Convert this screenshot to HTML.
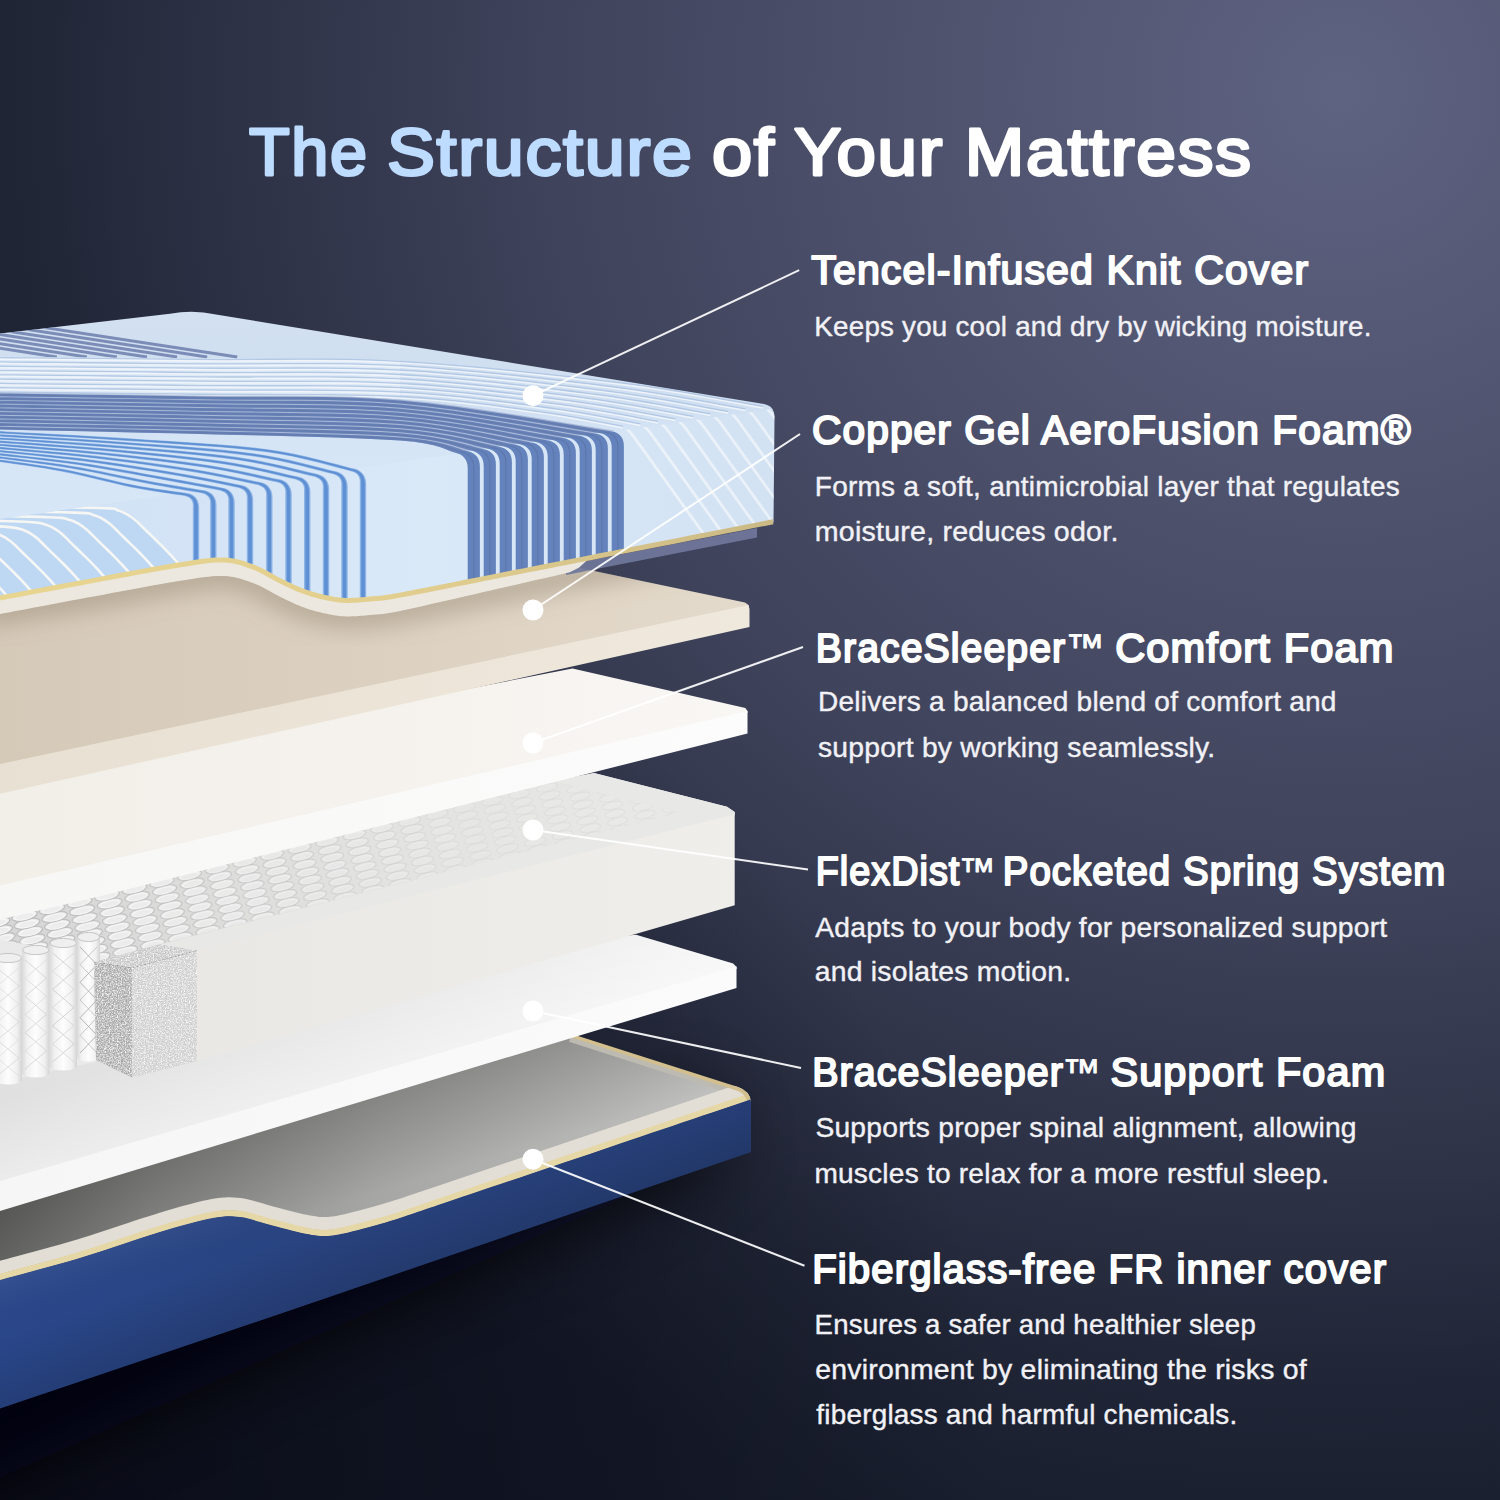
<!DOCTYPE html>
<html lang="en"><head><meta charset="utf-8"><title>The Structure of Your Mattress</title>
<style>
html,body{margin:0;padding:0;background:#141a33;}
body{width:1500px;height:1500px;overflow:hidden;}
svg{display:block}
text{font-family:"Liberation Sans",sans-serif;stroke-linejoin:round}
</style></head><body>
<svg width="1500" height="1500" viewBox="0 0 1500 1500">
<defs>
<radialGradient id="bgr" gradientUnits="userSpaceOnUse" cx="1340" cy="90" r="1500" ><stop offset="0" stop-color="#5e6382"/><stop offset="0.28" stop-color="#4e526d"/><stop offset="0.54" stop-color="#3e425a"/><stop offset="0.71" stop-color="#303449"/><stop offset="0.86" stop-color="#222738"/><stop offset="1" stop-color="#1a1f2e"/></radialGradient>
<linearGradient id="bgd" gradientUnits="userSpaceOnUse" x1="0" y1="1150" x2="0" y2="1500"><stop offset="0" stop-color="#0b1028" stop-opacity="0"/><stop offset="1" stop-color="#0b1028" stop-opacity="0.12"/></linearGradient>
<radialGradient id="bgl" gradientUnits="userSpaceOnUse" cx="0" cy="1500" r="1000" ><stop offset="0" stop-color="#070914" stop-opacity="0.85"/><stop offset="0.5" stop-color="#070914" stop-opacity="0.5"/><stop offset="1" stop-color="#070914" stop-opacity="0"/></radialGradient>
<filter id="blur40" x="-30%" y="-30%" width="160%" height="160%"><feGaussianBlur stdDeviation="38"/></filter>
<linearGradient id="ingray" gradientUnits="userSpaceOnUse" x1="0" y1="0" x2="750" y2="0"><stop offset="0" stop-color="#6c6c6a"/><stop offset="0.2" stop-color="#8a8a88"/><stop offset="0.5" stop-color="#a6a6a4"/><stop offset="1" stop-color="#c2c2c0"/></linearGradient>
<linearGradient id="insh" gradientUnits="objectBoundingBox" x1="0" y1="0" x2="0" y2="1"><stop offset="0" stop-color="#000" stop-opacity="0.22"/><stop offset="1" stop-color="#000" stop-opacity="0"/></linearGradient>
<clipPath id="baseclip"><path d="M-5,990 L575,1035 L738,1087 Q750,1091 751,1102 L751,1152 L-5,1412 Z"/></clipPath>
<linearGradient id="insh2" gradientUnits="userSpaceOnUse" x1="0" y1="1211" x2="27" y2="1300"><stop offset="0" stop-color="#000" stop-opacity="0.2"/><stop offset="1" stop-color="#000" stop-opacity="0"/></linearGradient>
<linearGradient id="blue" gradientUnits="userSpaceOnUse" x1="0" y1="0" x2="750" y2="0"><stop offset="0" stop-color="#2a478a"/><stop offset="0.5" stop-color="#29437f"/><stop offset="1" stop-color="#274079"/></linearGradient>
<linearGradient id="bluesh" gradientUnits="userSpaceOnUse" x1="0" y1="1280" x2="43" y2="1408"><stop offset="0" stop-color="#fff" stop-opacity="0.05"/><stop offset="0.4" stop-color="#000" stop-opacity="0"/><stop offset="1" stop-color="#000" stop-opacity="0.16"/></linearGradient>
<linearGradient id="suptop" gradientUnits="userSpaceOnUse" x1="0" y1="0" x2="750" y2="0"><stop offset="0" stop-color="#e0e0e0"/><stop offset="0.45" stop-color="#e7e7e7"/><stop offset="0.7" stop-color="#ececec"/><stop offset="0.9" stop-color="#f2f2f2"/><stop offset="1" stop-color="#f5f5f5"/></linearGradient>
<linearGradient id="suptop2" gradientUnits="userSpaceOnUse" x1="0" y1="1100" x2="30" y2="1200"><stop offset="0" stop-color="#fff" stop-opacity="0"/><stop offset="1" stop-color="#fff" stop-opacity="0.5"/></linearGradient>
<linearGradient id="supfr" gradientUnits="userSpaceOnUse" x1="0" y1="0" x2="750" y2="0"><stop offset="0" stop-color="#f6f6f6"/><stop offset="1" stop-color="#fbfbfb"/></linearGradient>
<linearGradient id="sprtop" gradientUnits="userSpaceOnUse" x1="0" y1="0" x2="750" y2="0"><stop offset="0" stop-color="#d6d6d6"/><stop offset="0.5" stop-color="#e2e2e0"/><stop offset="1" stop-color="#eaeae8"/></linearGradient>
<clipPath id="ovclip"><polygon points="0,900 557,780 679,813 160,944 94,962 60,968 0,990"/></clipPath>
<linearGradient id="cyl" gradientUnits="objectBoundingBox" x1="0" y1="0" x2="1" y2="0"><stop offset="0" stop-color="#d9d9d9"/><stop offset="0.18" stop-color="#f1f1f1"/><stop offset="0.5" stop-color="#fdfdfd"/><stop offset="0.82" stop-color="#f0f0f0"/><stop offset="1" stop-color="#d4d4d4"/></linearGradient>
<linearGradient id="sprfr" gradientUnits="userSpaceOnUse" x1="0" y1="0" x2="750" y2="0"><stop offset="0.25" stop-color="#e9e8e4"/><stop offset="1" stop-color="#efeeea"/></linearGradient>
<filter id="speck" x="0" y="0" width="100%" height="100%"><feTurbulence type="fractalNoise" baseFrequency="0.75" numOctaves="2" seed="7" result="n"/><feColorMatrix in="n" type="matrix" values="0 0 0 0 1  0 0 0 0 1  0 0 0 0 1  1.6 1.6 0 0 -1.35" result="w"/><feComposite in="w" in2="SourceGraphic" operator="in" result="ws"/><feMerge><feMergeNode in="SourceGraphic"/><feMergeNode in="ws"/></feMerge></filter>
<linearGradient id="comtop" gradientUnits="userSpaceOnUse" x1="0" y1="0" x2="750" y2="0"><stop offset="0" stop-color="#f2eee8"/><stop offset="0.6" stop-color="#f6f3ef"/><stop offset="1" stop-color="#f9f7f4"/></linearGradient>
<linearGradient id="comfr" gradientUnits="userSpaceOnUse" x1="0" y1="0" x2="750" y2="0"><stop offset="0" stop-color="#f7f7f6"/><stop offset="1" stop-color="#fcfcfc"/></linearGradient>
<linearGradient id="beitop" gradientUnits="userSpaceOnUse" x1="0" y1="0" x2="750" y2="0"><stop offset="0" stop-color="#d5c9b8"/><stop offset="0.5" stop-color="#dcd1c1"/><stop offset="1" stop-color="#e4dacb"/></linearGradient>
<linearGradient id="beifr" gradientUnits="userSpaceOnUse" x1="0" y1="0" x2="750" y2="0"><stop offset="0" stop-color="#e8e0d2"/><stop offset="1" stop-color="#efe8dc"/></linearGradient>
<filter id="blur12" x="-10%" y="-50%" width="120%" height="200%"><feGaussianBlur stdDeviation="11"/></filter>
<clipPath id="beiclip"><polygon points="0,540 570,540 570,566 745,602.4 748.5,605 748.5,607 0,766"/></clipPath>
<linearGradient id="lining" gradientUnits="objectBoundingBox" x1="0" y1="0" x2="0" y2="1"><stop offset="0" stop-color="#f3efe6"/><stop offset="1" stop-color="#e4dfd4"/></linearGradient>
<linearGradient id="covtop" gradientUnits="userSpaceOnUse" x1="0" y1="310" x2="0" y2="520"><stop offset="0" stop-color="#d2e0f0"/><stop offset="0.45" stop-color="#cfdff1"/><stop offset="0.62" stop-color="#d6e5f6"/><stop offset="1" stop-color="#d8e7f7"/></linearGradient>
<clipPath id="ctop"><path d="M0,333.5 L170,313.8 Q193,309.5 216,314.5 L764,404 Q771,405.5 773,410 L0,520 Z"/></clipPath>
<linearGradient id="covfr" gradientUnits="userSpaceOnUse" x1="0" y1="0" x2="775" y2="0"><stop offset="0" stop-color="#d0e2f5"/><stop offset="0.25" stop-color="#d4e4f6"/><stop offset="0.55" stop-color="#dae9f8"/><stop offset="1" stop-color="#d2e2f3"/></linearGradient>
<clipPath id="cfront"><path d="M0,519 L772,409 Q775,412 774.5,418 L773.5,522.3 L773,522.3 L764.41,523.99 L753.33,526.17 L740.2,528.75 L725.44,531.65 L709.48,534.79 L692.75,538.07 L675.67,541.43 L658.67,544.77 L642.17,548.02 L626.61,551.07 L612.41,553.86 L600,556.3 L589.11,558.44 L579.11,560.4 L569.87,562.21 L561.26,563.9 L553.16,565.48 L545.44,566.99 L537.97,568.46 L530.63,569.89 L523.29,571.33 L515.82,572.79 L508.1,574.31 L500,575.9 L491.44,577.59 L482.52,579.36 L473.36,581.19 L464.07,583.04 L454.79,584.9 L445.62,586.73 L436.7,588.51 L428.15,590.2 L420.08,591.78 L412.62,593.23 L405.88,594.51 L400,595.6 L395.04,596.49 L390.9,597.19 L387.48,597.75 L384.67,598.17 L382.34,598.48 L380.38,598.7 L378.67,598.86 L377.11,598.98 L375.58,599.08 L373.96,599.18 L372.14,599.32 L370,599.5 L367.69,599.72 L365.41,599.93 L363.17,600.13 L360.96,600.32 L358.78,600.49 L356.62,600.64 L354.49,600.77 L352.37,600.86 L350.27,600.91 L348.17,600.92 L346.08,600.89 L344,600.8 L341.92,600.66 L339.84,600.47 L337.77,600.23 L335.7,599.94 L333.66,599.63 L331.62,599.27 L329.62,598.9 L327.63,598.5 L325.67,598.09 L323.75,597.66 L321.85,597.23 L320,596.8 L318.19,596.37 L316.44,595.92 L314.72,595.46 L313.04,594.98 L311.38,594.49 L309.75,593.98 L308.13,593.45 L306.52,592.91 L304.91,592.34 L303.29,591.75 L301.65,591.14 L300,590.5 L298.36,589.84 L296.75,589.17 L295.16,588.49 L293.59,587.79 L292.02,587.06 L290.44,586.31 L288.83,585.54 L287.19,584.74 L285.49,583.9 L283.74,583.04 L281.91,582.14 L280,581.2 L278.01,580.19 L275.95,579.09 L273.84,577.93 L271.67,576.71 L269.45,575.46 L267.19,574.21 L264.89,572.96 L262.56,571.73 L260.2,570.56 L257.81,569.45 L255.41,568.42 L253,567.5 L250.61,566.64 L248.27,565.8 L245.95,564.97 L243.63,564.19 L241.28,563.45 L238.88,562.77 L236.4,562.16 L233.81,561.62 L231.11,561.18 L228.25,560.84 L225.23,560.61 L222,560.5 L218.69,560.51 L215.38,560.62 L212.05,560.83 L208.63,561.13 L205.09,561.52 L201.38,562 L197.45,562.56 L193.26,563.2 L188.77,563.92 L183.92,564.71 L178.68,565.57 L173,566.5 L166.75,567.54 L159.9,568.72 L152.54,570.02 L144.78,571.43 L136.71,572.9 L128.44,574.44 L120.06,576 L111.67,577.57 L103.37,579.13 L95.26,580.66 L87.43,582.12 L80,583.5 L72.62,584.87 L64.99,586.29 L57.21,587.74 L49.41,589.2 L41.69,590.65 L34.19,592.06 L27,593.41 L20.26,594.69 L14.07,595.85 L8.55,596.89 L3.82,597.78 L0,598.5 Z"/></clipPath>
<clipPath id="call"><path d="M0,333.5 L170,313.8 Q193,309.5 216,314.5 L764,404 Q771,405.5 773,410 L0,520 Z"/><path d="M0,519 L772,409 Q775,412 774.5,418 L773.5,522.3 L773,522.3 L764.41,523.99 L753.33,526.17 L740.2,528.75 L725.44,531.65 L709.48,534.79 L692.75,538.07 L675.67,541.43 L658.67,544.77 L642.17,548.02 L626.61,551.07 L612.41,553.86 L600,556.3 L589.11,558.44 L579.11,560.4 L569.87,562.21 L561.26,563.9 L553.16,565.48 L545.44,566.99 L537.97,568.46 L530.63,569.89 L523.29,571.33 L515.82,572.79 L508.1,574.31 L500,575.9 L491.44,577.59 L482.52,579.36 L473.36,581.19 L464.07,583.04 L454.79,584.9 L445.62,586.73 L436.7,588.51 L428.15,590.2 L420.08,591.78 L412.62,593.23 L405.88,594.51 L400,595.6 L395.04,596.49 L390.9,597.19 L387.48,597.75 L384.67,598.17 L382.34,598.48 L380.38,598.7 L378.67,598.86 L377.11,598.98 L375.58,599.08 L373.96,599.18 L372.14,599.32 L370,599.5 L367.69,599.72 L365.41,599.93 L363.17,600.13 L360.96,600.32 L358.78,600.49 L356.62,600.64 L354.49,600.77 L352.37,600.86 L350.27,600.91 L348.17,600.92 L346.08,600.89 L344,600.8 L341.92,600.66 L339.84,600.47 L337.77,600.23 L335.7,599.94 L333.66,599.63 L331.62,599.27 L329.62,598.9 L327.63,598.5 L325.67,598.09 L323.75,597.66 L321.85,597.23 L320,596.8 L318.19,596.37 L316.44,595.92 L314.72,595.46 L313.04,594.98 L311.38,594.49 L309.75,593.98 L308.13,593.45 L306.52,592.91 L304.91,592.34 L303.29,591.75 L301.65,591.14 L300,590.5 L298.36,589.84 L296.75,589.17 L295.16,588.49 L293.59,587.79 L292.02,587.06 L290.44,586.31 L288.83,585.54 L287.19,584.74 L285.49,583.9 L283.74,583.04 L281.91,582.14 L280,581.2 L278.01,580.19 L275.95,579.09 L273.84,577.93 L271.67,576.71 L269.45,575.46 L267.19,574.21 L264.89,572.96 L262.56,571.73 L260.2,570.56 L257.81,569.45 L255.41,568.42 L253,567.5 L250.61,566.64 L248.27,565.8 L245.95,564.97 L243.63,564.19 L241.28,563.45 L238.88,562.77 L236.4,562.16 L233.81,561.62 L231.11,561.18 L228.25,560.84 L225.23,560.61 L222,560.5 L218.69,560.51 L215.38,560.62 L212.05,560.83 L208.63,561.13 L205.09,561.52 L201.38,562 L197.45,562.56 L193.26,563.2 L188.77,563.92 L183.92,564.71 L178.68,565.57 L173,566.5 L166.75,567.54 L159.9,568.72 L152.54,570.02 L144.78,571.43 L136.71,572.9 L128.44,574.44 L120.06,576 L111.67,577.57 L103.37,579.13 L95.26,580.66 L87.43,582.12 L80,583.5 L72.62,584.87 L64.99,586.29 L57.21,587.74 L49.41,589.2 L41.69,590.65 L34.19,592.06 L27,593.41 L20.26,594.69 L14.07,595.85 L8.55,596.89 L3.82,597.78 L0,598.5 Z"/></clipPath>
<linearGradient id="goldg" gradientUnits="userSpaceOnUse" x1="0" y1="0" x2="775" y2="0"><stop offset="0" stop-color="#e8d590"/><stop offset="0.5" stop-color="#e2cf8f"/><stop offset="0.75" stop-color="#d8c58b"/><stop offset="1" stop-color="#cbb985"/></linearGradient>
</defs>
<rect width="1500" height="1500" fill="url(#bgr)"/>
<rect width="1500" height="1500" fill="url(#bgd)"/>
<rect width="1500" height="1500" fill="url(#bgl)"/>
<polygon points="-150,1330 690,1090 730,1150 -150,1545" fill="#02030c" opacity="0.9" filter="url(#blur40)"/>
<path d="M0,1000 L575,1036 L737,1088 L749,1100 L749,1100 C724.17,1108.4 649.83,1133.55 600,1150.4 C550.17,1167.25 483.33,1189.83 450,1201.1 C416.67,1212.37 412.83,1213.85 400,1218 C387.17,1222.15 384.17,1223.08 373,1226 C361.83,1228.92 344,1234.17 333,1235.5 C322,1236.83 318,1235.92 307,1234 C296,1232.08 278.17,1226.83 267,1224 C255.83,1221.17 249,1218 240,1217 C231,1216 226.33,1215.5 213,1218 C199.67,1220.5 182.17,1225.33 160,1232 C137.83,1238.67 106.67,1250 80,1258 C53.33,1266 13.33,1276.33 0,1280 Z" fill="url(#ingray)"/>
<g clip-path="url(#baseclip)">
<polygon points="0,1150 760,920 800,1100 0,1330" fill="url(#insh2)"/>
<path d="M570,1039 L733,1091.5 L741,1101" stroke="#bdbab2" stroke-width="6" fill="none" stroke-linejoin="round"/>
<path d="M-10,1270.2 C-8.33,1269.75 -15,1271.62 0,1267.5 C15,1263.38 53.33,1253.5 80,1245.5 C106.67,1237.5 137.83,1226.17 160,1219.5 C182.17,1212.83 199.67,1208 213,1205.5 C226.33,1203 231,1203.5 240,1204.5 C249,1205.5 255.83,1208.67 267,1211.5 C278.17,1214.33 296,1219.58 307,1221.5 C318,1223.42 322,1224.33 333,1223 C344,1221.67 361.83,1216.42 373,1213.5 C384.17,1210.58 387.17,1209.65 400,1205.5 C412.83,1201.35 416.67,1199.87 450,1188.6 C483.33,1177.33 550.17,1154.75 600,1137.9 C649.83,1121.05 721.5,1096.8 749,1087.5 C776.5,1078.2 762.33,1083 765,1082.1" stroke="#e2ded5" stroke-width="13" fill="none"/>
<path d="M-10,1279.7 C-8.33,1279.25 -15,1281.12 0,1277 C15,1272.88 53.33,1263 80,1255 C106.67,1247 137.83,1235.67 160,1229 C182.17,1222.33 199.67,1217.5 213,1215 C226.33,1212.5 231,1213 240,1214 C249,1215 255.83,1218.17 267,1221 C278.17,1223.83 296,1229.08 307,1231 C318,1232.92 322,1233.83 333,1232.5 C344,1231.17 361.83,1225.92 373,1223 C384.17,1220.08 387.17,1219.15 400,1215 C412.83,1210.85 416.67,1209.37 450,1198.1 C483.33,1186.83 550.17,1164.25 600,1147.4 C649.83,1130.55 721.5,1106.3 749,1097 C776.5,1087.7 762.33,1092.5 765,1091.6" stroke="#e6d7a6" stroke-width="6.5" fill="none"/>
<path d="M570,1034.5 L738,1088.5 Q748.5,1092 749.5,1103" stroke="#d2bf8d" stroke-width="4.5" fill="none"/>
<path d="M-10,1282.7 C-8.33,1282.25 -15,1284.12 0,1280 C15,1275.88 53.33,1266 80,1258 C106.67,1250 137.83,1238.67 160,1232 C182.17,1225.33 199.67,1220.5 213,1218 C226.33,1215.5 231,1216 240,1217 C249,1218 255.83,1221.17 267,1224 C278.17,1226.83 296,1232.08 307,1234 C318,1235.92 322,1236.83 333,1235.5 C344,1234.17 361.83,1228.92 373,1226 C384.17,1223.08 387.17,1222.15 400,1218 C412.83,1213.85 416.67,1212.37 450,1201.1 C483.33,1189.83 550.17,1167.25 600,1150.4 C649.83,1133.55 721.5,1109.3 749,1100 C776.5,1090.7 762.33,1095.5 765,1094.6 L765,1150 L-10,1412 Z" fill="url(#blue)"/>
<path d="M-10,1282.7 C-8.33,1282.25 -15,1284.12 0,1280 C15,1275.88 53.33,1266 80,1258 C106.67,1250 137.83,1238.67 160,1232 C182.17,1225.33 199.67,1220.5 213,1218 C226.33,1215.5 231,1216 240,1217 C249,1218 255.83,1221.17 267,1224 C278.17,1226.83 296,1232.08 307,1234 C318,1235.92 322,1236.83 333,1235.5 C344,1234.17 361.83,1228.92 373,1226 C384.17,1223.08 387.17,1222.15 400,1218 C412.83,1213.85 416.67,1212.37 450,1201.1 C483.33,1189.83 550.17,1167.25 600,1150.4 C649.83,1133.55 721.5,1109.3 749,1100 C776.5,1090.7 762.33,1095.5 765,1094.6 L765,1150 L-10,1412 Z" fill="url(#bluesh)"/>
</g>
<polygon points="0,1000 636,934.7 733,963.5 736.5,967 736.5,969 0,1184" fill="url(#suptop)" />
<polygon points="0,1000 636,934.7 733,963.5 736.5,967 736.5,969 0,1184" fill="url(#suptop2)" />
<polygon points="0,1181 736.5,966.5 736.5,988 0,1211" fill="url(#supfr)" />
<polygon points="0,880 594,773 727,806.7 734.7,812 734.7,815 194.7,950.7 160,945 93,964 0,1000" fill="url(#sprtop)" />
<g clip-path="url(#ovclip)">
<ellipse cx="-12.3" cy="984.55" rx="13.26" ry="4.72" transform="rotate(-13 -12.3 984.55)" fill="#ededed" fill-opacity="1.00" stroke="#b9b9b9" stroke-opacity="0.97" stroke-width="1.2"/>
<ellipse cx="-12.3" cy="985.15" rx="10.24" ry="3.21" transform="rotate(-13 -12.3 984.55)" fill="none" stroke="#fafafa" stroke-opacity="0.87" stroke-width="1"/>
<ellipse cx="15.2" cy="977.8" rx="13.13" ry="4.67" transform="rotate(-13 15.2 977.8)" fill="#ededed" fill-opacity="1.00" stroke="#b9b9b9" stroke-opacity="0.92" stroke-width="1.2"/>
<ellipse cx="15.2" cy="978.4" rx="10.15" ry="3.18" transform="rotate(-13 15.2 977.8)" fill="none" stroke="#fafafa" stroke-opacity="0.83" stroke-width="1"/>
<ellipse cx="42.7" cy="971.05" rx="13" ry="4.63" transform="rotate(-13 42.7 971.05)" fill="#ededed" fill-opacity="1.00" stroke="#b9b9b9" stroke-opacity="0.87" stroke-width="1.2"/>
<ellipse cx="42.7" cy="971.65" rx="10.05" ry="3.15" transform="rotate(-13 42.7 971.05)" fill="none" stroke="#fafafa" stroke-opacity="0.79" stroke-width="1"/>
<ellipse cx="70.2" cy="964.3" rx="12.88" ry="4.58" transform="rotate(-13 70.2 964.3)" fill="#ededed" fill-opacity="1.00" stroke="#b9b9b9" stroke-opacity="0.82" stroke-width="1.2"/>
<ellipse cx="70.2" cy="964.9" rx="9.95" ry="3.12" transform="rotate(-13 70.2 964.3)" fill="none" stroke="#fafafa" stroke-opacity="0.74" stroke-width="1"/>
<ellipse cx="97.7" cy="957.55" rx="12.75" ry="4.54" transform="rotate(-13 97.7 957.55)" fill="#ededed" fill-opacity="0.98" stroke="#b9b9b9" stroke-opacity="0.78" stroke-width="1.2"/>
<ellipse cx="97.7" cy="958.15" rx="9.85" ry="3.09" transform="rotate(-13 97.7 957.55)" fill="none" stroke="#fafafa" stroke-opacity="0.70" stroke-width="1"/>
<ellipse cx="125.2" cy="950.8" rx="12.62" ry="4.49" transform="rotate(-13 125.2 950.8)" fill="#ededed" fill-opacity="0.93" stroke="#b9b9b9" stroke-opacity="0.73" stroke-width="1.2"/>
<ellipse cx="125.2" cy="951.4" rx="9.75" ry="3.06" transform="rotate(-13 125.2 950.8)" fill="none" stroke="#fafafa" stroke-opacity="0.65" stroke-width="1"/>
<ellipse cx="152.7" cy="944.05" rx="12.49" ry="4.45" transform="rotate(-13 152.7 944.05)" fill="#ededed" fill-opacity="0.88" stroke="#b9b9b9" stroke-opacity="0.68" stroke-width="1.2"/>
<ellipse cx="152.7" cy="944.65" rx="9.65" ry="3.03" transform="rotate(-13 152.7 944.05)" fill="none" stroke="#fafafa" stroke-opacity="0.61" stroke-width="1"/>
<ellipse cx="180.2" cy="937.3" rx="12.37" ry="4.4" transform="rotate(-13 180.2 937.3)" fill="#ededed" fill-opacity="0.83" stroke="#b9b9b9" stroke-opacity="0.63" stroke-width="1.2"/>
<ellipse cx="180.2" cy="937.9" rx="9.56" ry="3" transform="rotate(-13 180.2 937.3)" fill="none" stroke="#fafafa" stroke-opacity="0.57" stroke-width="1"/>
<ellipse cx="207.7" cy="930.55" rx="12.24" ry="4.36" transform="rotate(-13 207.7 930.55)" fill="#ededed" fill-opacity="0.78" stroke="#b9b9b9" stroke-opacity="0.58" stroke-width="1.2"/>
<ellipse cx="207.7" cy="931.15" rx="9.46" ry="2.97" transform="rotate(-13 207.7 930.55)" fill="none" stroke="#fafafa" stroke-opacity="0.52" stroke-width="1"/>
<ellipse cx="235.2" cy="923.8" rx="12.11" ry="4.31" transform="rotate(-13 235.2 923.8)" fill="#ededed" fill-opacity="0.73" stroke="#b9b9b9" stroke-opacity="0.53" stroke-width="1.2"/>
<ellipse cx="235.2" cy="924.4" rx="9.36" ry="2.94" transform="rotate(-13 235.2 923.8)" fill="none" stroke="#fafafa" stroke-opacity="0.48" stroke-width="1"/>
<ellipse cx="262.7" cy="917.05" rx="11.99" ry="4.27" transform="rotate(-13 262.7 917.05)" fill="#ededed" fill-opacity="0.68" stroke="#b9b9b9" stroke-opacity="0.48" stroke-width="1.2"/>
<ellipse cx="262.7" cy="917.65" rx="9.26" ry="2.91" transform="rotate(-13 262.7 917.05)" fill="none" stroke="#fafafa" stroke-opacity="0.43" stroke-width="1"/>
<ellipse cx="290.2" cy="910.3" rx="11.86" ry="4.22" transform="rotate(-13 290.2 910.3)" fill="#ededed" fill-opacity="0.63" stroke="#b9b9b9" stroke-opacity="0.43" stroke-width="1.2"/>
<ellipse cx="290.2" cy="910.9" rx="9.16" ry="2.87" transform="rotate(-13 290.2 910.3)" fill="none" stroke="#fafafa" stroke-opacity="0.39" stroke-width="1"/>
<ellipse cx="317.7" cy="903.55" rx="11.73" ry="4.18" transform="rotate(-13 317.7 903.55)" fill="#ededed" fill-opacity="0.58" stroke="#b9b9b9" stroke-opacity="0.38" stroke-width="1.2"/>
<ellipse cx="317.7" cy="904.15" rx="9.07" ry="2.84" transform="rotate(-13 317.7 903.55)" fill="none" stroke="#fafafa" stroke-opacity="0.34" stroke-width="1"/>
<ellipse cx="345.2" cy="896.8" rx="11.61" ry="4.13" transform="rotate(-13 345.2 896.8)" fill="#ededed" fill-opacity="0.53" stroke="#b9b9b9" stroke-opacity="0.33" stroke-width="1.2"/>
<ellipse cx="345.2" cy="897.4" rx="8.97" ry="2.81" transform="rotate(-13 345.2 896.8)" fill="none" stroke="#fafafa" stroke-opacity="0.30" stroke-width="1"/>
<ellipse cx="372.7" cy="890.05" rx="11.48" ry="4.09" transform="rotate(-13 372.7 890.05)" fill="#ededed" fill-opacity="0.48" stroke="#b9b9b9" stroke-opacity="0.28" stroke-width="1.2"/>
<ellipse cx="372.7" cy="890.65" rx="8.87" ry="2.78" transform="rotate(-13 372.7 890.05)" fill="none" stroke="#fafafa" stroke-opacity="0.26" stroke-width="1"/>
<ellipse cx="400.2" cy="883.3" rx="11.35" ry="4.04" transform="rotate(-13 400.2 883.3)" fill="#ededed" fill-opacity="0.44" stroke="#b9b9b9" stroke-opacity="0.24" stroke-width="1.2"/>
<ellipse cx="400.2" cy="883.9" rx="8.77" ry="2.75" transform="rotate(-13 400.2 883.3)" fill="none" stroke="#fafafa" stroke-opacity="0.21" stroke-width="1"/>
<ellipse cx="427.7" cy="876.55" rx="11.22" ry="4" transform="rotate(-13 427.7 876.55)" fill="#ededed" fill-opacity="0.39" stroke="#b9b9b9" stroke-opacity="0.19" stroke-width="1.2"/>
<ellipse cx="427.7" cy="877.15" rx="8.67" ry="2.72" transform="rotate(-13 427.7 876.55)" fill="none" stroke="#fafafa" stroke-opacity="0.17" stroke-width="1"/>
<ellipse cx="455.2" cy="869.8" rx="11.1" ry="3.95" transform="rotate(-13 455.2 869.8)" fill="#ededed" fill-opacity="0.34" stroke="#b9b9b9" stroke-opacity="0.14" stroke-width="1.2"/>
<ellipse cx="455.2" cy="870.4" rx="8.57" ry="2.69" transform="rotate(-13 455.2 869.8)" fill="none" stroke="#fafafa" stroke-opacity="0.12" stroke-width="1"/>
<ellipse cx="482.7" cy="863.05" rx="10.97" ry="3.91" transform="rotate(-13 482.7 863.05)" fill="#ededed" fill-opacity="0.32" stroke="#b9b9b9" stroke-opacity="0.12" stroke-width="1.2"/>
<ellipse cx="482.7" cy="863.65" rx="8.48" ry="2.66" transform="rotate(-13 482.7 863.05)" fill="none" stroke="#fafafa" stroke-opacity="0.11" stroke-width="1"/>
<ellipse cx="510.2" cy="856.3" rx="10.84" ry="3.86" transform="rotate(-13 510.2 856.3)" fill="#ededed" fill-opacity="0.32" stroke="#b9b9b9" stroke-opacity="0.12" stroke-width="1.2"/>
<ellipse cx="510.2" cy="856.9" rx="8.38" ry="2.63" transform="rotate(-13 510.2 856.3)" fill="none" stroke="#fafafa" stroke-opacity="0.11" stroke-width="1"/>
<ellipse cx="537.7" cy="849.55" rx="10.72" ry="3.82" transform="rotate(-13 537.7 849.55)" fill="#ededed" fill-opacity="0.32" stroke="#b9b9b9" stroke-opacity="0.12" stroke-width="1.2"/>
<ellipse cx="537.7" cy="850.15" rx="8.28" ry="2.6" transform="rotate(-13 537.7 849.55)" fill="none" stroke="#fafafa" stroke-opacity="0.11" stroke-width="1"/>
<ellipse cx="565.2" cy="842.8" rx="10.59" ry="3.77" transform="rotate(-13 565.2 842.8)" fill="#ededed" fill-opacity="0.32" stroke="#b9b9b9" stroke-opacity="0.12" stroke-width="1.2"/>
<ellipse cx="565.2" cy="843.4" rx="8.18" ry="2.57" transform="rotate(-13 565.2 842.8)" fill="none" stroke="#fafafa" stroke-opacity="0.11" stroke-width="1"/>
<ellipse cx="592.7" cy="836.05" rx="10.46" ry="3.73" transform="rotate(-13 592.7 836.05)" fill="#ededed" fill-opacity="0.32" stroke="#b9b9b9" stroke-opacity="0.12" stroke-width="1.2"/>
<ellipse cx="592.7" cy="836.65" rx="8.08" ry="2.54" transform="rotate(-13 592.7 836.05)" fill="none" stroke="#fafafa" stroke-opacity="0.11" stroke-width="1"/>
<ellipse cx="620.2" cy="829.3" rx="10.33" ry="3.68" transform="rotate(-13 620.2 829.3)" fill="#ededed" fill-opacity="0.32" stroke="#b9b9b9" stroke-opacity="0.12" stroke-width="1.2"/>
<ellipse cx="620.2" cy="829.9" rx="7.99" ry="2.51" transform="rotate(-13 620.2 829.3)" fill="none" stroke="#fafafa" stroke-opacity="0.11" stroke-width="1"/>
<ellipse cx="647.7" cy="822.55" rx="10.21" ry="3.63" transform="rotate(-13 647.7 822.55)" fill="#ededed" fill-opacity="0.32" stroke="#b9b9b9" stroke-opacity="0.12" stroke-width="1.2"/>
<ellipse cx="647.7" cy="823.15" rx="7.89" ry="2.47" transform="rotate(-13 647.7 822.55)" fill="none" stroke="#fafafa" stroke-opacity="0.11" stroke-width="1"/>
<ellipse cx="675.2" cy="815.8" rx="10.08" ry="3.59" transform="rotate(-13 675.2 815.8)" fill="#ededed" fill-opacity="0.32" stroke="#b9b9b9" stroke-opacity="0.12" stroke-width="1.2"/>
<ellipse cx="675.2" cy="816.4" rx="7.79" ry="2.44" transform="rotate(-13 675.2 815.8)" fill="none" stroke="#fafafa" stroke-opacity="0.11" stroke-width="1"/>
<ellipse cx="-14.9" cy="976.65" rx="13.27" ry="4.72" transform="rotate(-13 -14.9 976.65)" fill="#ededed" fill-opacity="1.00" stroke="#b9b9b9" stroke-opacity="0.98" stroke-width="1.2"/>
<ellipse cx="-14.9" cy="977.25" rx="10.25" ry="3.22" transform="rotate(-13 -14.9 976.65)" fill="none" stroke="#fafafa" stroke-opacity="0.88" stroke-width="1"/>
<ellipse cx="12.6" cy="969.9" rx="13.14" ry="4.68" transform="rotate(-13 12.6 969.9)" fill="#ededed" fill-opacity="1.00" stroke="#b9b9b9" stroke-opacity="0.93" stroke-width="1.2"/>
<ellipse cx="12.6" cy="970.5" rx="10.16" ry="3.19" transform="rotate(-13 12.6 969.9)" fill="none" stroke="#fafafa" stroke-opacity="0.83" stroke-width="1"/>
<ellipse cx="40.1" cy="963.15" rx="13.01" ry="4.63" transform="rotate(-13 40.1 963.15)" fill="#ededed" fill-opacity="1.00" stroke="#b9b9b9" stroke-opacity="0.88" stroke-width="1.2"/>
<ellipse cx="40.1" cy="963.75" rx="10.06" ry="3.16" transform="rotate(-13 40.1 963.15)" fill="none" stroke="#fafafa" stroke-opacity="0.79" stroke-width="1"/>
<ellipse cx="67.6" cy="956.4" rx="12.89" ry="4.59" transform="rotate(-13 67.6 956.4)" fill="#ededed" fill-opacity="1.00" stroke="#b9b9b9" stroke-opacity="0.83" stroke-width="1.2"/>
<ellipse cx="67.6" cy="957" rx="9.96" ry="3.12" transform="rotate(-13 67.6 956.4)" fill="none" stroke="#fafafa" stroke-opacity="0.75" stroke-width="1"/>
<ellipse cx="95.1" cy="949.65" rx="12.76" ry="4.54" transform="rotate(-13 95.1 949.65)" fill="#ededed" fill-opacity="0.98" stroke="#b9b9b9" stroke-opacity="0.78" stroke-width="1.2"/>
<ellipse cx="95.1" cy="950.25" rx="9.86" ry="3.09" transform="rotate(-13 95.1 949.65)" fill="none" stroke="#fafafa" stroke-opacity="0.70" stroke-width="1"/>
<ellipse cx="122.6" cy="942.9" rx="12.63" ry="4.5" transform="rotate(-13 122.6 942.9)" fill="#ededed" fill-opacity="0.93" stroke="#b9b9b9" stroke-opacity="0.73" stroke-width="1.2"/>
<ellipse cx="122.6" cy="943.5" rx="9.76" ry="3.06" transform="rotate(-13 122.6 942.9)" fill="none" stroke="#fafafa" stroke-opacity="0.66" stroke-width="1"/>
<ellipse cx="150.1" cy="936.15" rx="12.51" ry="4.45" transform="rotate(-13 150.1 936.15)" fill="#ededed" fill-opacity="0.88" stroke="#b9b9b9" stroke-opacity="0.68" stroke-width="1.2"/>
<ellipse cx="150.1" cy="936.75" rx="9.66" ry="3.03" transform="rotate(-13 150.1 936.15)" fill="none" stroke="#fafafa" stroke-opacity="0.61" stroke-width="1"/>
<ellipse cx="177.6" cy="929.4" rx="12.38" ry="4.41" transform="rotate(-13 177.6 929.4)" fill="#ededed" fill-opacity="0.83" stroke="#b9b9b9" stroke-opacity="0.63" stroke-width="1.2"/>
<ellipse cx="177.6" cy="930" rx="9.57" ry="3" transform="rotate(-13 177.6 929.4)" fill="none" stroke="#fafafa" stroke-opacity="0.57" stroke-width="1"/>
<ellipse cx="205.1" cy="922.65" rx="12.25" ry="4.36" transform="rotate(-13 205.1 922.65)" fill="#ededed" fill-opacity="0.78" stroke="#b9b9b9" stroke-opacity="0.58" stroke-width="1.2"/>
<ellipse cx="205.1" cy="923.25" rx="9.47" ry="2.97" transform="rotate(-13 205.1 922.65)" fill="none" stroke="#fafafa" stroke-opacity="0.53" stroke-width="1"/>
<ellipse cx="232.6" cy="915.9" rx="12.13" ry="4.32" transform="rotate(-13 232.6 915.9)" fill="#ededed" fill-opacity="0.73" stroke="#b9b9b9" stroke-opacity="0.53" stroke-width="1.2"/>
<ellipse cx="232.6" cy="916.5" rx="9.37" ry="2.94" transform="rotate(-13 232.6 915.9)" fill="none" stroke="#fafafa" stroke-opacity="0.48" stroke-width="1"/>
<ellipse cx="260.1" cy="909.15" rx="12" ry="4.27" transform="rotate(-13 260.1 909.15)" fill="#ededed" fill-opacity="0.69" stroke="#b9b9b9" stroke-opacity="0.49" stroke-width="1.2"/>
<ellipse cx="260.1" cy="909.75" rx="9.27" ry="2.91" transform="rotate(-13 260.1 909.15)" fill="none" stroke="#fafafa" stroke-opacity="0.44" stroke-width="1"/>
<ellipse cx="287.6" cy="902.4" rx="11.87" ry="4.23" transform="rotate(-13 287.6 902.4)" fill="#ededed" fill-opacity="0.64" stroke="#b9b9b9" stroke-opacity="0.44" stroke-width="1.2"/>
<ellipse cx="287.6" cy="903" rx="9.17" ry="2.88" transform="rotate(-13 287.6 902.4)" fill="none" stroke="#fafafa" stroke-opacity="0.39" stroke-width="1"/>
<ellipse cx="315.1" cy="895.65" rx="11.74" ry="4.18" transform="rotate(-13 315.1 895.65)" fill="#ededed" fill-opacity="0.59" stroke="#b9b9b9" stroke-opacity="0.39" stroke-width="1.2"/>
<ellipse cx="315.1" cy="896.25" rx="9.08" ry="2.85" transform="rotate(-13 315.1 895.65)" fill="none" stroke="#fafafa" stroke-opacity="0.35" stroke-width="1"/>
<ellipse cx="342.6" cy="888.9" rx="11.62" ry="4.14" transform="rotate(-13 342.6 888.9)" fill="#ededed" fill-opacity="0.54" stroke="#b9b9b9" stroke-opacity="0.34" stroke-width="1.2"/>
<ellipse cx="342.6" cy="889.5" rx="8.98" ry="2.82" transform="rotate(-13 342.6 888.9)" fill="none" stroke="#fafafa" stroke-opacity="0.30" stroke-width="1"/>
<ellipse cx="370.1" cy="882.15" rx="11.49" ry="4.09" transform="rotate(-13 370.1 882.15)" fill="#ededed" fill-opacity="0.49" stroke="#b9b9b9" stroke-opacity="0.29" stroke-width="1.2"/>
<ellipse cx="370.1" cy="882.75" rx="8.88" ry="2.79" transform="rotate(-13 370.1 882.15)" fill="none" stroke="#fafafa" stroke-opacity="0.26" stroke-width="1"/>
<ellipse cx="397.6" cy="875.4" rx="11.36" ry="4.05" transform="rotate(-13 397.6 875.4)" fill="#ededed" fill-opacity="0.44" stroke="#b9b9b9" stroke-opacity="0.24" stroke-width="1.2"/>
<ellipse cx="397.6" cy="876" rx="8.78" ry="2.75" transform="rotate(-13 397.6 875.4)" fill="none" stroke="#fafafa" stroke-opacity="0.22" stroke-width="1"/>
<ellipse cx="425.1" cy="868.65" rx="11.24" ry="4" transform="rotate(-13 425.1 868.65)" fill="#ededed" fill-opacity="0.39" stroke="#b9b9b9" stroke-opacity="0.19" stroke-width="1.2"/>
<ellipse cx="425.1" cy="869.25" rx="8.68" ry="2.72" transform="rotate(-13 425.1 868.65)" fill="none" stroke="#fafafa" stroke-opacity="0.17" stroke-width="1"/>
<ellipse cx="452.6" cy="861.9" rx="11.11" ry="3.96" transform="rotate(-13 452.6 861.9)" fill="#ededed" fill-opacity="0.34" stroke="#b9b9b9" stroke-opacity="0.14" stroke-width="1.2"/>
<ellipse cx="452.6" cy="862.5" rx="8.58" ry="2.69" transform="rotate(-13 452.6 861.9)" fill="none" stroke="#fafafa" stroke-opacity="0.13" stroke-width="1"/>
<ellipse cx="480.1" cy="855.15" rx="10.98" ry="3.91" transform="rotate(-13 480.1 855.15)" fill="#ededed" fill-opacity="0.32" stroke="#b9b9b9" stroke-opacity="0.12" stroke-width="1.2"/>
<ellipse cx="480.1" cy="855.75" rx="8.49" ry="2.66" transform="rotate(-13 480.1 855.15)" fill="none" stroke="#fafafa" stroke-opacity="0.11" stroke-width="1"/>
<ellipse cx="507.6" cy="848.4" rx="10.85" ry="3.86" transform="rotate(-13 507.6 848.4)" fill="#ededed" fill-opacity="0.32" stroke="#b9b9b9" stroke-opacity="0.12" stroke-width="1.2"/>
<ellipse cx="507.6" cy="849" rx="8.39" ry="2.63" transform="rotate(-13 507.6 848.4)" fill="none" stroke="#fafafa" stroke-opacity="0.11" stroke-width="1"/>
<ellipse cx="535.1" cy="841.65" rx="10.73" ry="3.82" transform="rotate(-13 535.1 841.65)" fill="#ededed" fill-opacity="0.32" stroke="#b9b9b9" stroke-opacity="0.12" stroke-width="1.2"/>
<ellipse cx="535.1" cy="842.25" rx="8.29" ry="2.6" transform="rotate(-13 535.1 841.65)" fill="none" stroke="#fafafa" stroke-opacity="0.11" stroke-width="1"/>
<ellipse cx="562.6" cy="834.9" rx="10.6" ry="3.77" transform="rotate(-13 562.6 834.9)" fill="#ededed" fill-opacity="0.32" stroke="#b9b9b9" stroke-opacity="0.12" stroke-width="1.2"/>
<ellipse cx="562.6" cy="835.5" rx="8.19" ry="2.57" transform="rotate(-13 562.6 834.9)" fill="none" stroke="#fafafa" stroke-opacity="0.11" stroke-width="1"/>
<ellipse cx="590.1" cy="828.15" rx="10.47" ry="3.73" transform="rotate(-13 590.1 828.15)" fill="#ededed" fill-opacity="0.32" stroke="#b9b9b9" stroke-opacity="0.12" stroke-width="1.2"/>
<ellipse cx="590.1" cy="828.75" rx="8.09" ry="2.54" transform="rotate(-13 590.1 828.15)" fill="none" stroke="#fafafa" stroke-opacity="0.11" stroke-width="1"/>
<ellipse cx="617.6" cy="821.4" rx="10.35" ry="3.68" transform="rotate(-13 617.6 821.4)" fill="#ededed" fill-opacity="0.32" stroke="#b9b9b9" stroke-opacity="0.12" stroke-width="1.2"/>
<ellipse cx="617.6" cy="822" rx="8" ry="2.51" transform="rotate(-13 617.6 821.4)" fill="none" stroke="#fafafa" stroke-opacity="0.11" stroke-width="1"/>
<ellipse cx="645.1" cy="814.65" rx="10.22" ry="3.64" transform="rotate(-13 645.1 814.65)" fill="#ededed" fill-opacity="0.32" stroke="#b9b9b9" stroke-opacity="0.12" stroke-width="1.2"/>
<ellipse cx="645.1" cy="815.25" rx="7.9" ry="2.48" transform="rotate(-13 645.1 814.65)" fill="none" stroke="#fafafa" stroke-opacity="0.11" stroke-width="1"/>
<ellipse cx="672.6" cy="807.9" rx="10.09" ry="3.59" transform="rotate(-13 672.6 807.9)" fill="#ededed" fill-opacity="0.32" stroke="#b9b9b9" stroke-opacity="0.12" stroke-width="1.2"/>
<ellipse cx="672.6" cy="808.5" rx="7.8" ry="2.45" transform="rotate(-13 672.6 807.9)" fill="none" stroke="#fafafa" stroke-opacity="0.11" stroke-width="1"/>
<ellipse cx="-17.5" cy="968.75" rx="13.28" ry="4.73" transform="rotate(-13 -17.5 968.75)" fill="#ededed" fill-opacity="1.00" stroke="#b9b9b9" stroke-opacity="0.98" stroke-width="1.2"/>
<ellipse cx="-17.5" cy="969.35" rx="10.26" ry="3.22" transform="rotate(-13 -17.5 968.75)" fill="none" stroke="#fafafa" stroke-opacity="0.88" stroke-width="1"/>
<ellipse cx="10" cy="962" rx="13.15" ry="4.68" transform="rotate(-13 10 962)" fill="#ededed" fill-opacity="1.00" stroke="#b9b9b9" stroke-opacity="0.93" stroke-width="1.2"/>
<ellipse cx="10" cy="962.6" rx="10.16" ry="3.19" transform="rotate(-13 10 962)" fill="none" stroke="#fafafa" stroke-opacity="0.84" stroke-width="1"/>
<ellipse cx="37.5" cy="955.25" rx="13.03" ry="4.64" transform="rotate(-13 37.5 955.25)" fill="#ededed" fill-opacity="1.00" stroke="#b9b9b9" stroke-opacity="0.88" stroke-width="1.2"/>
<ellipse cx="37.5" cy="955.85" rx="10.07" ry="3.16" transform="rotate(-13 37.5 955.25)" fill="none" stroke="#fafafa" stroke-opacity="0.79" stroke-width="1"/>
<ellipse cx="65" cy="948.5" rx="12.9" ry="4.59" transform="rotate(-13 65 948.5)" fill="#ededed" fill-opacity="1.00" stroke="#b9b9b9" stroke-opacity="0.83" stroke-width="1.2"/>
<ellipse cx="65" cy="949.1" rx="9.97" ry="3.13" transform="rotate(-13 65 948.5)" fill="none" stroke="#fafafa" stroke-opacity="0.75" stroke-width="1"/>
<ellipse cx="92.5" cy="941.75" rx="12.77" ry="4.55" transform="rotate(-13 92.5 941.75)" fill="#ededed" fill-opacity="0.98" stroke="#b9b9b9" stroke-opacity="0.78" stroke-width="1.2"/>
<ellipse cx="92.5" cy="942.35" rx="9.87" ry="3.1" transform="rotate(-13 92.5 941.75)" fill="none" stroke="#fafafa" stroke-opacity="0.71" stroke-width="1"/>
<ellipse cx="120" cy="935" rx="12.65" ry="4.5" transform="rotate(-13 120 935)" fill="#ededed" fill-opacity="0.94" stroke="#b9b9b9" stroke-opacity="0.74" stroke-width="1.2"/>
<ellipse cx="120" cy="935.6" rx="9.77" ry="3.07" transform="rotate(-13 120 935)" fill="none" stroke="#fafafa" stroke-opacity="0.66" stroke-width="1"/>
<ellipse cx="147.5" cy="928.25" rx="12.52" ry="4.46" transform="rotate(-13 147.5 928.25)" fill="#ededed" fill-opacity="0.89" stroke="#b9b9b9" stroke-opacity="0.69" stroke-width="1.2"/>
<ellipse cx="147.5" cy="928.85" rx="9.67" ry="3.03" transform="rotate(-13 147.5 928.25)" fill="none" stroke="#fafafa" stroke-opacity="0.62" stroke-width="1"/>
<ellipse cx="175" cy="921.5" rx="12.39" ry="4.41" transform="rotate(-13 175 921.5)" fill="#ededed" fill-opacity="0.84" stroke="#b9b9b9" stroke-opacity="0.64" stroke-width="1.2"/>
<ellipse cx="175" cy="922.1" rx="9.58" ry="3" transform="rotate(-13 175 921.5)" fill="none" stroke="#fafafa" stroke-opacity="0.57" stroke-width="1"/>
<ellipse cx="202.5" cy="914.75" rx="12.26" ry="4.37" transform="rotate(-13 202.5 914.75)" fill="#ededed" fill-opacity="0.79" stroke="#b9b9b9" stroke-opacity="0.59" stroke-width="1.2"/>
<ellipse cx="202.5" cy="915.35" rx="9.48" ry="2.97" transform="rotate(-13 202.5 914.75)" fill="none" stroke="#fafafa" stroke-opacity="0.53" stroke-width="1"/>
<ellipse cx="230" cy="908" rx="12.14" ry="4.32" transform="rotate(-13 230 908)" fill="#ededed" fill-opacity="0.74" stroke="#b9b9b9" stroke-opacity="0.54" stroke-width="1.2"/>
<ellipse cx="230" cy="908.6" rx="9.38" ry="2.94" transform="rotate(-13 230 908)" fill="none" stroke="#fafafa" stroke-opacity="0.49" stroke-width="1"/>
<ellipse cx="257.5" cy="901.25" rx="12.01" ry="4.28" transform="rotate(-13 257.5 901.25)" fill="#ededed" fill-opacity="0.69" stroke="#b9b9b9" stroke-opacity="0.49" stroke-width="1.2"/>
<ellipse cx="257.5" cy="901.85" rx="9.28" ry="2.91" transform="rotate(-13 257.5 901.25)" fill="none" stroke="#fafafa" stroke-opacity="0.44" stroke-width="1"/>
<ellipse cx="285" cy="894.5" rx="11.88" ry="4.23" transform="rotate(-13 285 894.5)" fill="#ededed" fill-opacity="0.64" stroke="#b9b9b9" stroke-opacity="0.44" stroke-width="1.2"/>
<ellipse cx="285" cy="895.1" rx="9.18" ry="2.88" transform="rotate(-13 285 894.5)" fill="none" stroke="#fafafa" stroke-opacity="0.40" stroke-width="1"/>
<ellipse cx="312.5" cy="887.75" rx="11.76" ry="4.19" transform="rotate(-13 312.5 887.75)" fill="#ededed" fill-opacity="0.59" stroke="#b9b9b9" stroke-opacity="0.39" stroke-width="1.2"/>
<ellipse cx="312.5" cy="888.35" rx="9.08" ry="2.85" transform="rotate(-13 312.5 887.75)" fill="none" stroke="#fafafa" stroke-opacity="0.35" stroke-width="1"/>
<ellipse cx="340" cy="881" rx="11.63" ry="4.14" transform="rotate(-13 340 881)" fill="#ededed" fill-opacity="0.54" stroke="#b9b9b9" stroke-opacity="0.34" stroke-width="1.2"/>
<ellipse cx="340" cy="881.6" rx="8.99" ry="2.82" transform="rotate(-13 340 881)" fill="none" stroke="#fafafa" stroke-opacity="0.31" stroke-width="1"/>
<ellipse cx="367.5" cy="874.25" rx="11.5" ry="4.1" transform="rotate(-13 367.5 874.25)" fill="#ededed" fill-opacity="0.49" stroke="#b9b9b9" stroke-opacity="0.29" stroke-width="1.2"/>
<ellipse cx="367.5" cy="874.85" rx="8.89" ry="2.79" transform="rotate(-13 367.5 874.25)" fill="none" stroke="#fafafa" stroke-opacity="0.26" stroke-width="1"/>
<ellipse cx="395" cy="867.5" rx="11.38" ry="4.05" transform="rotate(-13 395 867.5)" fill="#ededed" fill-opacity="0.44" stroke="#b9b9b9" stroke-opacity="0.24" stroke-width="1.2"/>
<ellipse cx="395" cy="868.1" rx="8.79" ry="2.76" transform="rotate(-13 395 867.5)" fill="none" stroke="#fafafa" stroke-opacity="0.22" stroke-width="1"/>
<ellipse cx="422.5" cy="860.75" rx="11.25" ry="4" transform="rotate(-13 422.5 860.75)" fill="#ededed" fill-opacity="0.40" stroke="#b9b9b9" stroke-opacity="0.20" stroke-width="1.2"/>
<ellipse cx="422.5" cy="861.35" rx="8.69" ry="2.73" transform="rotate(-13 422.5 860.75)" fill="none" stroke="#fafafa" stroke-opacity="0.18" stroke-width="1"/>
<ellipse cx="450" cy="854" rx="11.12" ry="3.96" transform="rotate(-13 450 854)" fill="#ededed" fill-opacity="0.35" stroke="#b9b9b9" stroke-opacity="0.15" stroke-width="1.2"/>
<ellipse cx="450" cy="854.6" rx="8.59" ry="2.7" transform="rotate(-13 450 854)" fill="none" stroke="#fafafa" stroke-opacity="0.13" stroke-width="1"/>
<ellipse cx="477.5" cy="847.25" rx="10.99" ry="3.91" transform="rotate(-13 477.5 847.25)" fill="#ededed" fill-opacity="0.32" stroke="#b9b9b9" stroke-opacity="0.12" stroke-width="1.2"/>
<ellipse cx="477.5" cy="847.85" rx="8.5" ry="2.67" transform="rotate(-13 477.5 847.25)" fill="none" stroke="#fafafa" stroke-opacity="0.11" stroke-width="1"/>
<ellipse cx="505" cy="840.5" rx="10.87" ry="3.87" transform="rotate(-13 505 840.5)" fill="#ededed" fill-opacity="0.32" stroke="#b9b9b9" stroke-opacity="0.12" stroke-width="1.2"/>
<ellipse cx="505" cy="841.1" rx="8.4" ry="2.63" transform="rotate(-13 505 840.5)" fill="none" stroke="#fafafa" stroke-opacity="0.11" stroke-width="1"/>
<ellipse cx="532.5" cy="833.75" rx="10.74" ry="3.82" transform="rotate(-13 532.5 833.75)" fill="#ededed" fill-opacity="0.32" stroke="#b9b9b9" stroke-opacity="0.12" stroke-width="1.2"/>
<ellipse cx="532.5" cy="834.35" rx="8.3" ry="2.6" transform="rotate(-13 532.5 833.75)" fill="none" stroke="#fafafa" stroke-opacity="0.11" stroke-width="1"/>
<ellipse cx="560" cy="827" rx="10.61" ry="3.78" transform="rotate(-13 560 827)" fill="#ededed" fill-opacity="0.32" stroke="#b9b9b9" stroke-opacity="0.12" stroke-width="1.2"/>
<ellipse cx="560" cy="827.6" rx="8.2" ry="2.57" transform="rotate(-13 560 827)" fill="none" stroke="#fafafa" stroke-opacity="0.11" stroke-width="1"/>
<ellipse cx="587.5" cy="820.25" rx="10.49" ry="3.73" transform="rotate(-13 587.5 820.25)" fill="#ededed" fill-opacity="0.32" stroke="#b9b9b9" stroke-opacity="0.12" stroke-width="1.2"/>
<ellipse cx="587.5" cy="820.85" rx="8.1" ry="2.54" transform="rotate(-13 587.5 820.25)" fill="none" stroke="#fafafa" stroke-opacity="0.11" stroke-width="1"/>
<ellipse cx="615" cy="813.5" rx="10.36" ry="3.69" transform="rotate(-13 615 813.5)" fill="#ededed" fill-opacity="0.32" stroke="#b9b9b9" stroke-opacity="0.12" stroke-width="1.2"/>
<ellipse cx="615" cy="814.1" rx="8" ry="2.51" transform="rotate(-13 615 813.5)" fill="none" stroke="#fafafa" stroke-opacity="0.11" stroke-width="1"/>
<ellipse cx="642.5" cy="806.75" rx="10.23" ry="3.64" transform="rotate(-13 642.5 806.75)" fill="#ededed" fill-opacity="0.32" stroke="#b9b9b9" stroke-opacity="0.12" stroke-width="1.2"/>
<ellipse cx="642.5" cy="807.35" rx="7.91" ry="2.48" transform="rotate(-13 642.5 806.75)" fill="none" stroke="#fafafa" stroke-opacity="0.11" stroke-width="1"/>
<ellipse cx="670" cy="800" rx="10.1" ry="3.6" transform="rotate(-13 670 800)" fill="#ededed" fill-opacity="0.32" stroke="#b9b9b9" stroke-opacity="0.12" stroke-width="1.2"/>
<ellipse cx="670" cy="800.6" rx="7.81" ry="2.45" transform="rotate(-13 670 800)" fill="none" stroke="#fafafa" stroke-opacity="0.11" stroke-width="1"/>
<ellipse cx="697.5" cy="793.25" rx="9.98" ry="3.55" transform="rotate(-13 697.5 793.25)" fill="#ededed" fill-opacity="0.32" stroke="#b9b9b9" stroke-opacity="0.12" stroke-width="1.2"/>
<ellipse cx="697.5" cy="793.85" rx="7.71" ry="2.42" transform="rotate(-13 697.5 793.25)" fill="none" stroke="#fafafa" stroke-opacity="0.11" stroke-width="1"/>
<ellipse cx="7.4" cy="954.1" rx="13.17" ry="4.69" transform="rotate(-13 7.4 954.1)" fill="#ededed" fill-opacity="1.00" stroke="#b9b9b9" stroke-opacity="0.94" stroke-width="1.2"/>
<ellipse cx="7.4" cy="954.7" rx="10.17" ry="3.19" transform="rotate(-13 7.4 954.1)" fill="none" stroke="#fafafa" stroke-opacity="0.84" stroke-width="1"/>
<ellipse cx="34.9" cy="947.35" rx="13.04" ry="4.64" transform="rotate(-13 34.9 947.35)" fill="#ededed" fill-opacity="1.00" stroke="#b9b9b9" stroke-opacity="0.89" stroke-width="1.2"/>
<ellipse cx="34.9" cy="947.95" rx="10.08" ry="3.16" transform="rotate(-13 34.9 947.35)" fill="none" stroke="#fafafa" stroke-opacity="0.80" stroke-width="1"/>
<ellipse cx="62.4" cy="940.6" rx="12.91" ry="4.6" transform="rotate(-13 62.4 940.6)" fill="#ededed" fill-opacity="1.00" stroke="#b9b9b9" stroke-opacity="0.84" stroke-width="1.2"/>
<ellipse cx="62.4" cy="941.2" rx="9.98" ry="3.13" transform="rotate(-13 62.4 940.6)" fill="none" stroke="#fafafa" stroke-opacity="0.75" stroke-width="1"/>
<ellipse cx="89.9" cy="933.85" rx="12.78" ry="4.55" transform="rotate(-13 89.9 933.85)" fill="#ededed" fill-opacity="0.99" stroke="#b9b9b9" stroke-opacity="0.79" stroke-width="1.2"/>
<ellipse cx="89.9" cy="934.45" rx="9.88" ry="3.1" transform="rotate(-13 89.9 933.85)" fill="none" stroke="#fafafa" stroke-opacity="0.71" stroke-width="1"/>
<ellipse cx="117.4" cy="927.1" rx="12.66" ry="4.51" transform="rotate(-13 117.4 927.1)" fill="#ededed" fill-opacity="0.94" stroke="#b9b9b9" stroke-opacity="0.74" stroke-width="1.2"/>
<ellipse cx="117.4" cy="927.7" rx="9.78" ry="3.07" transform="rotate(-13 117.4 927.1)" fill="none" stroke="#fafafa" stroke-opacity="0.67" stroke-width="1"/>
<ellipse cx="144.9" cy="920.35" rx="12.53" ry="4.46" transform="rotate(-13 144.9 920.35)" fill="#ededed" fill-opacity="0.89" stroke="#b9b9b9" stroke-opacity="0.69" stroke-width="1.2"/>
<ellipse cx="144.9" cy="920.95" rx="9.68" ry="3.04" transform="rotate(-13 144.9 920.35)" fill="none" stroke="#fafafa" stroke-opacity="0.62" stroke-width="1"/>
<ellipse cx="172.4" cy="913.6" rx="12.4" ry="4.42" transform="rotate(-13 172.4 913.6)" fill="#ededed" fill-opacity="0.84" stroke="#b9b9b9" stroke-opacity="0.64" stroke-width="1.2"/>
<ellipse cx="172.4" cy="914.2" rx="9.58" ry="3.01" transform="rotate(-13 172.4 913.6)" fill="none" stroke="#fafafa" stroke-opacity="0.58" stroke-width="1"/>
<ellipse cx="199.9" cy="906.85" rx="12.28" ry="4.37" transform="rotate(-13 199.9 906.85)" fill="#ededed" fill-opacity="0.79" stroke="#b9b9b9" stroke-opacity="0.59" stroke-width="1.2"/>
<ellipse cx="199.9" cy="907.45" rx="9.49" ry="2.98" transform="rotate(-13 199.9 906.85)" fill="none" stroke="#fafafa" stroke-opacity="0.53" stroke-width="1"/>
<ellipse cx="227.4" cy="900.1" rx="12.15" ry="4.33" transform="rotate(-13 227.4 900.1)" fill="#ededed" fill-opacity="0.74" stroke="#b9b9b9" stroke-opacity="0.54" stroke-width="1.2"/>
<ellipse cx="227.4" cy="900.7" rx="9.39" ry="2.95" transform="rotate(-13 227.4 900.1)" fill="none" stroke="#fafafa" stroke-opacity="0.49" stroke-width="1"/>
<ellipse cx="254.9" cy="893.35" rx="12.02" ry="4.28" transform="rotate(-13 254.9 893.35)" fill="#ededed" fill-opacity="0.69" stroke="#b9b9b9" stroke-opacity="0.49" stroke-width="1.2"/>
<ellipse cx="254.9" cy="893.95" rx="9.29" ry="2.91" transform="rotate(-13 254.9 893.35)" fill="none" stroke="#fafafa" stroke-opacity="0.45" stroke-width="1"/>
<ellipse cx="282.4" cy="886.6" rx="11.9" ry="4.24" transform="rotate(-13 282.4 886.6)" fill="#ededed" fill-opacity="0.65" stroke="#b9b9b9" stroke-opacity="0.45" stroke-width="1.2"/>
<ellipse cx="282.4" cy="887.2" rx="9.19" ry="2.88" transform="rotate(-13 282.4 886.6)" fill="none" stroke="#fafafa" stroke-opacity="0.40" stroke-width="1"/>
<ellipse cx="309.9" cy="879.85" rx="11.77" ry="4.19" transform="rotate(-13 309.9 879.85)" fill="#ededed" fill-opacity="0.60" stroke="#b9b9b9" stroke-opacity="0.40" stroke-width="1.2"/>
<ellipse cx="309.9" cy="880.45" rx="9.09" ry="2.85" transform="rotate(-13 309.9 879.85)" fill="none" stroke="#fafafa" stroke-opacity="0.36" stroke-width="1"/>
<ellipse cx="337.4" cy="873.1" rx="11.64" ry="4.14" transform="rotate(-13 337.4 873.1)" fill="#ededed" fill-opacity="0.55" stroke="#b9b9b9" stroke-opacity="0.35" stroke-width="1.2"/>
<ellipse cx="337.4" cy="873.7" rx="9" ry="2.82" transform="rotate(-13 337.4 873.1)" fill="none" stroke="#fafafa" stroke-opacity="0.31" stroke-width="1"/>
<ellipse cx="364.9" cy="866.35" rx="11.51" ry="4.1" transform="rotate(-13 364.9 866.35)" fill="#ededed" fill-opacity="0.50" stroke="#b9b9b9" stroke-opacity="0.30" stroke-width="1.2"/>
<ellipse cx="364.9" cy="866.95" rx="8.9" ry="2.79" transform="rotate(-13 364.9 866.35)" fill="none" stroke="#fafafa" stroke-opacity="0.27" stroke-width="1"/>
<ellipse cx="392.4" cy="859.6" rx="11.39" ry="4.05" transform="rotate(-13 392.4 859.6)" fill="#ededed" fill-opacity="0.45" stroke="#b9b9b9" stroke-opacity="0.25" stroke-width="1.2"/>
<ellipse cx="392.4" cy="860.2" rx="8.8" ry="2.76" transform="rotate(-13 392.4 859.6)" fill="none" stroke="#fafafa" stroke-opacity="0.22" stroke-width="1"/>
<ellipse cx="419.9" cy="852.85" rx="11.26" ry="4.01" transform="rotate(-13 419.9 852.85)" fill="#ededed" fill-opacity="0.40" stroke="#b9b9b9" stroke-opacity="0.20" stroke-width="1.2"/>
<ellipse cx="419.9" cy="853.45" rx="8.7" ry="2.73" transform="rotate(-13 419.9 852.85)" fill="none" stroke="#fafafa" stroke-opacity="0.18" stroke-width="1"/>
<ellipse cx="447.4" cy="846.1" rx="11.13" ry="3.96" transform="rotate(-13 447.4 846.1)" fill="#ededed" fill-opacity="0.35" stroke="#b9b9b9" stroke-opacity="0.15" stroke-width="1.2"/>
<ellipse cx="447.4" cy="846.7" rx="8.6" ry="2.7" transform="rotate(-13 447.4 846.1)" fill="none" stroke="#fafafa" stroke-opacity="0.14" stroke-width="1"/>
<ellipse cx="474.9" cy="839.35" rx="11.01" ry="3.92" transform="rotate(-13 474.9 839.35)" fill="#ededed" fill-opacity="0.32" stroke="#b9b9b9" stroke-opacity="0.12" stroke-width="1.2"/>
<ellipse cx="474.9" cy="839.95" rx="8.5" ry="2.67" transform="rotate(-13 474.9 839.35)" fill="none" stroke="#fafafa" stroke-opacity="0.11" stroke-width="1"/>
<ellipse cx="502.4" cy="832.6" rx="10.88" ry="3.87" transform="rotate(-13 502.4 832.6)" fill="#ededed" fill-opacity="0.32" stroke="#b9b9b9" stroke-opacity="0.12" stroke-width="1.2"/>
<ellipse cx="502.4" cy="833.2" rx="8.41" ry="2.64" transform="rotate(-13 502.4 832.6)" fill="none" stroke="#fafafa" stroke-opacity="0.11" stroke-width="1"/>
<ellipse cx="529.9" cy="825.85" rx="10.75" ry="3.83" transform="rotate(-13 529.9 825.85)" fill="#ededed" fill-opacity="0.32" stroke="#b9b9b9" stroke-opacity="0.12" stroke-width="1.2"/>
<ellipse cx="529.9" cy="826.45" rx="8.31" ry="2.61" transform="rotate(-13 529.9 825.85)" fill="none" stroke="#fafafa" stroke-opacity="0.11" stroke-width="1"/>
<ellipse cx="557.4" cy="819.1" rx="10.62" ry="3.78" transform="rotate(-13 557.4 819.1)" fill="#ededed" fill-opacity="0.32" stroke="#b9b9b9" stroke-opacity="0.12" stroke-width="1.2"/>
<ellipse cx="557.4" cy="819.7" rx="8.21" ry="2.58" transform="rotate(-13 557.4 819.1)" fill="none" stroke="#fafafa" stroke-opacity="0.11" stroke-width="1"/>
<ellipse cx="584.9" cy="812.35" rx="10.5" ry="3.74" transform="rotate(-13 584.9 812.35)" fill="#ededed" fill-opacity="0.32" stroke="#b9b9b9" stroke-opacity="0.12" stroke-width="1.2"/>
<ellipse cx="584.9" cy="812.95" rx="8.11" ry="2.54" transform="rotate(-13 584.9 812.35)" fill="none" stroke="#fafafa" stroke-opacity="0.11" stroke-width="1"/>
<ellipse cx="612.4" cy="805.6" rx="10.37" ry="3.69" transform="rotate(-13 612.4 805.6)" fill="#ededed" fill-opacity="0.32" stroke="#b9b9b9" stroke-opacity="0.12" stroke-width="1.2"/>
<ellipse cx="612.4" cy="806.2" rx="8.01" ry="2.51" transform="rotate(-13 612.4 805.6)" fill="none" stroke="#fafafa" stroke-opacity="0.11" stroke-width="1"/>
<ellipse cx="639.9" cy="798.85" rx="10.24" ry="3.65" transform="rotate(-13 639.9 798.85)" fill="#ededed" fill-opacity="0.32" stroke="#b9b9b9" stroke-opacity="0.12" stroke-width="1.2"/>
<ellipse cx="639.9" cy="799.45" rx="7.92" ry="2.48" transform="rotate(-13 639.9 798.85)" fill="none" stroke="#fafafa" stroke-opacity="0.11" stroke-width="1"/>
<ellipse cx="667.4" cy="792.1" rx="10.12" ry="3.6" transform="rotate(-13 667.4 792.1)" fill="#ededed" fill-opacity="0.32" stroke="#b9b9b9" stroke-opacity="0.12" stroke-width="1.2"/>
<ellipse cx="667.4" cy="792.7" rx="7.82" ry="2.45" transform="rotate(-13 667.4 792.1)" fill="none" stroke="#fafafa" stroke-opacity="0.11" stroke-width="1"/>
<ellipse cx="694.9" cy="785.35" rx="9.99" ry="3.56" transform="rotate(-13 694.9 785.35)" fill="#ededed" fill-opacity="0.32" stroke="#b9b9b9" stroke-opacity="0.12" stroke-width="1.2"/>
<ellipse cx="694.9" cy="785.95" rx="7.72" ry="2.42" transform="rotate(-13 694.9 785.35)" fill="none" stroke="#fafafa" stroke-opacity="0.11" stroke-width="1"/>
<ellipse cx="4.8" cy="946.2" rx="13.18" ry="4.69" transform="rotate(-13 4.8 946.2)" fill="#ededed" fill-opacity="1.00" stroke="#b9b9b9" stroke-opacity="0.94" stroke-width="1.2"/>
<ellipse cx="4.8" cy="946.8" rx="10.18" ry="3.19" transform="rotate(-13 4.8 946.2)" fill="none" stroke="#fafafa" stroke-opacity="0.85" stroke-width="1"/>
<ellipse cx="32.3" cy="939.45" rx="13.05" ry="4.65" transform="rotate(-13 32.3 939.45)" fill="#ededed" fill-opacity="1.00" stroke="#b9b9b9" stroke-opacity="0.89" stroke-width="1.2"/>
<ellipse cx="32.3" cy="940.05" rx="10.08" ry="3.16" transform="rotate(-13 32.3 939.45)" fill="none" stroke="#fafafa" stroke-opacity="0.80" stroke-width="1"/>
<ellipse cx="59.8" cy="932.7" rx="12.92" ry="4.6" transform="rotate(-13 59.8 932.7)" fill="#ededed" fill-opacity="1.00" stroke="#b9b9b9" stroke-opacity="0.84" stroke-width="1.2"/>
<ellipse cx="59.8" cy="933.3" rx="9.99" ry="3.13" transform="rotate(-13 59.8 932.7)" fill="none" stroke="#fafafa" stroke-opacity="0.76" stroke-width="1"/>
<ellipse cx="87.3" cy="925.95" rx="12.8" ry="4.56" transform="rotate(-13 87.3 925.95)" fill="#ededed" fill-opacity="0.99" stroke="#b9b9b9" stroke-opacity="0.79" stroke-width="1.2"/>
<ellipse cx="87.3" cy="926.55" rx="9.89" ry="3.1" transform="rotate(-13 87.3 925.95)" fill="none" stroke="#fafafa" stroke-opacity="0.71" stroke-width="1"/>
<ellipse cx="114.8" cy="919.2" rx="12.67" ry="4.51" transform="rotate(-13 114.8 919.2)" fill="#ededed" fill-opacity="0.95" stroke="#b9b9b9" stroke-opacity="0.74" stroke-width="1.2"/>
<ellipse cx="114.8" cy="919.8" rx="9.79" ry="3.07" transform="rotate(-13 114.8 919.2)" fill="none" stroke="#fafafa" stroke-opacity="0.67" stroke-width="1"/>
<ellipse cx="142.3" cy="912.45" rx="12.54" ry="4.47" transform="rotate(-13 142.3 912.45)" fill="#ededed" fill-opacity="0.90" stroke="#b9b9b9" stroke-opacity="0.70" stroke-width="1.2"/>
<ellipse cx="142.3" cy="913.05" rx="9.69" ry="3.04" transform="rotate(-13 142.3 912.45)" fill="none" stroke="#fafafa" stroke-opacity="0.63" stroke-width="1"/>
<ellipse cx="169.8" cy="905.7" rx="12.42" ry="4.42" transform="rotate(-13 169.8 905.7)" fill="#ededed" fill-opacity="0.85" stroke="#b9b9b9" stroke-opacity="0.65" stroke-width="1.2"/>
<ellipse cx="169.8" cy="906.3" rx="9.59" ry="3.01" transform="rotate(-13 169.8 905.7)" fill="none" stroke="#fafafa" stroke-opacity="0.58" stroke-width="1"/>
<ellipse cx="197.3" cy="898.95" rx="12.29" ry="4.38" transform="rotate(-13 197.3 898.95)" fill="#ededed" fill-opacity="0.80" stroke="#b9b9b9" stroke-opacity="0.60" stroke-width="1.2"/>
<ellipse cx="197.3" cy="899.55" rx="9.5" ry="2.98" transform="rotate(-13 197.3 898.95)" fill="none" stroke="#fafafa" stroke-opacity="0.54" stroke-width="1"/>
<ellipse cx="224.8" cy="892.2" rx="12.16" ry="4.33" transform="rotate(-13 224.8 892.2)" fill="#ededed" fill-opacity="0.75" stroke="#b9b9b9" stroke-opacity="0.55" stroke-width="1.2"/>
<ellipse cx="224.8" cy="892.8" rx="9.4" ry="2.95" transform="rotate(-13 224.8 892.2)" fill="none" stroke="#fafafa" stroke-opacity="0.49" stroke-width="1"/>
<ellipse cx="252.3" cy="885.45" rx="12.03" ry="4.28" transform="rotate(-13 252.3 885.45)" fill="#ededed" fill-opacity="0.70" stroke="#b9b9b9" stroke-opacity="0.50" stroke-width="1.2"/>
<ellipse cx="252.3" cy="886.05" rx="9.3" ry="2.92" transform="rotate(-13 252.3 885.45)" fill="none" stroke="#fafafa" stroke-opacity="0.45" stroke-width="1"/>
<ellipse cx="279.8" cy="878.7" rx="11.91" ry="4.24" transform="rotate(-13 279.8 878.7)" fill="#ededed" fill-opacity="0.65" stroke="#b9b9b9" stroke-opacity="0.45" stroke-width="1.2"/>
<ellipse cx="279.8" cy="879.3" rx="9.2" ry="2.89" transform="rotate(-13 279.8 878.7)" fill="none" stroke="#fafafa" stroke-opacity="0.41" stroke-width="1"/>
<ellipse cx="307.3" cy="871.95" rx="11.78" ry="4.19" transform="rotate(-13 307.3 871.95)" fill="#ededed" fill-opacity="0.60" stroke="#b9b9b9" stroke-opacity="0.40" stroke-width="1.2"/>
<ellipse cx="307.3" cy="872.55" rx="9.1" ry="2.86" transform="rotate(-13 307.3 871.95)" fill="none" stroke="#fafafa" stroke-opacity="0.36" stroke-width="1"/>
<ellipse cx="334.8" cy="865.2" rx="11.65" ry="4.15" transform="rotate(-13 334.8 865.2)" fill="#ededed" fill-opacity="0.55" stroke="#b9b9b9" stroke-opacity="0.35" stroke-width="1.2"/>
<ellipse cx="334.8" cy="865.8" rx="9" ry="2.83" transform="rotate(-13 334.8 865.2)" fill="none" stroke="#fafafa" stroke-opacity="0.32" stroke-width="1"/>
<ellipse cx="362.3" cy="858.45" rx="11.53" ry="4.1" transform="rotate(-13 362.3 858.45)" fill="#ededed" fill-opacity="0.50" stroke="#b9b9b9" stroke-opacity="0.30" stroke-width="1.2"/>
<ellipse cx="362.3" cy="859.05" rx="8.91" ry="2.79" transform="rotate(-13 362.3 858.45)" fill="none" stroke="#fafafa" stroke-opacity="0.27" stroke-width="1"/>
<ellipse cx="389.8" cy="851.7" rx="11.4" ry="4.06" transform="rotate(-13 389.8 851.7)" fill="#ededed" fill-opacity="0.45" stroke="#b9b9b9" stroke-opacity="0.25" stroke-width="1.2"/>
<ellipse cx="389.8" cy="852.3" rx="8.81" ry="2.76" transform="rotate(-13 389.8 851.7)" fill="none" stroke="#fafafa" stroke-opacity="0.23" stroke-width="1"/>
<ellipse cx="417.3" cy="844.95" rx="11.27" ry="4.01" transform="rotate(-13 417.3 844.95)" fill="#ededed" fill-opacity="0.40" stroke="#b9b9b9" stroke-opacity="0.20" stroke-width="1.2"/>
<ellipse cx="417.3" cy="845.55" rx="8.71" ry="2.73" transform="rotate(-13 417.3 844.95)" fill="none" stroke="#fafafa" stroke-opacity="0.18" stroke-width="1"/>
<ellipse cx="444.8" cy="838.2" rx="11.15" ry="3.97" transform="rotate(-13 444.8 838.2)" fill="#ededed" fill-opacity="0.36" stroke="#b9b9b9" stroke-opacity="0.16" stroke-width="1.2"/>
<ellipse cx="444.8" cy="838.8" rx="8.61" ry="2.7" transform="rotate(-13 444.8 838.2)" fill="none" stroke="#fafafa" stroke-opacity="0.14" stroke-width="1"/>
<ellipse cx="472.3" cy="831.45" rx="11.02" ry="3.92" transform="rotate(-13 472.3 831.45)" fill="#ededed" fill-opacity="0.32" stroke="#b9b9b9" stroke-opacity="0.12" stroke-width="1.2"/>
<ellipse cx="472.3" cy="832.05" rx="8.51" ry="2.67" transform="rotate(-13 472.3 831.45)" fill="none" stroke="#fafafa" stroke-opacity="0.11" stroke-width="1"/>
<ellipse cx="499.8" cy="824.7" rx="10.89" ry="3.88" transform="rotate(-13 499.8 824.7)" fill="#ededed" fill-opacity="0.32" stroke="#b9b9b9" stroke-opacity="0.12" stroke-width="1.2"/>
<ellipse cx="499.8" cy="825.3" rx="8.42" ry="2.64" transform="rotate(-13 499.8 824.7)" fill="none" stroke="#fafafa" stroke-opacity="0.11" stroke-width="1"/>
<ellipse cx="527.3" cy="817.95" rx="10.76" ry="3.83" transform="rotate(-13 527.3 817.95)" fill="#ededed" fill-opacity="0.32" stroke="#b9b9b9" stroke-opacity="0.12" stroke-width="1.2"/>
<ellipse cx="527.3" cy="818.55" rx="8.32" ry="2.61" transform="rotate(-13 527.3 817.95)" fill="none" stroke="#fafafa" stroke-opacity="0.11" stroke-width="1"/>
<ellipse cx="554.8" cy="811.2" rx="10.64" ry="3.79" transform="rotate(-13 554.8 811.2)" fill="#ededed" fill-opacity="0.32" stroke="#b9b9b9" stroke-opacity="0.12" stroke-width="1.2"/>
<ellipse cx="554.8" cy="811.8" rx="8.22" ry="2.58" transform="rotate(-13 554.8 811.2)" fill="none" stroke="#fafafa" stroke-opacity="0.11" stroke-width="1"/>
<ellipse cx="582.3" cy="804.45" rx="10.51" ry="3.74" transform="rotate(-13 582.3 804.45)" fill="#ededed" fill-opacity="0.32" stroke="#b9b9b9" stroke-opacity="0.12" stroke-width="1.2"/>
<ellipse cx="582.3" cy="805.05" rx="8.12" ry="2.55" transform="rotate(-13 582.3 804.45)" fill="none" stroke="#fafafa" stroke-opacity="0.11" stroke-width="1"/>
<ellipse cx="609.8" cy="797.7" rx="10.38" ry="3.7" transform="rotate(-13 609.8 797.7)" fill="#ededed" fill-opacity="0.32" stroke="#b9b9b9" stroke-opacity="0.12" stroke-width="1.2"/>
<ellipse cx="609.8" cy="798.3" rx="8.02" ry="2.52" transform="rotate(-13 609.8 797.7)" fill="none" stroke="#fafafa" stroke-opacity="0.11" stroke-width="1"/>
<ellipse cx="637.3" cy="790.95" rx="10.26" ry="3.65" transform="rotate(-13 637.3 790.95)" fill="#ededed" fill-opacity="0.32" stroke="#b9b9b9" stroke-opacity="0.12" stroke-width="1.2"/>
<ellipse cx="637.3" cy="791.55" rx="7.92" ry="2.49" transform="rotate(-13 637.3 790.95)" fill="none" stroke="#fafafa" stroke-opacity="0.11" stroke-width="1"/>
<ellipse cx="664.8" cy="784.2" rx="10.13" ry="3.61" transform="rotate(-13 664.8 784.2)" fill="#ededed" fill-opacity="0.32" stroke="#b9b9b9" stroke-opacity="0.12" stroke-width="1.2"/>
<ellipse cx="664.8" cy="784.8" rx="7.83" ry="2.46" transform="rotate(-13 664.8 784.2)" fill="none" stroke="#fafafa" stroke-opacity="0.11" stroke-width="1"/>
<ellipse cx="692.3" cy="777.45" rx="10" ry="3.56" transform="rotate(-13 692.3 777.45)" fill="#ededed" fill-opacity="0.32" stroke="#b9b9b9" stroke-opacity="0.12" stroke-width="1.2"/>
<ellipse cx="692.3" cy="778.05" rx="7.73" ry="2.42" transform="rotate(-13 692.3 777.45)" fill="none" stroke="#fafafa" stroke-opacity="0.11" stroke-width="1"/>
<ellipse cx="2.2" cy="938.3" rx="13.19" ry="4.7" transform="rotate(-13 2.2 938.3)" fill="#ededed" fill-opacity="1.00" stroke="#b9b9b9" stroke-opacity="0.95" stroke-width="1.2"/>
<ellipse cx="2.2" cy="938.9" rx="10.19" ry="3.2" transform="rotate(-13 2.2 938.3)" fill="none" stroke="#fafafa" stroke-opacity="0.85" stroke-width="1"/>
<ellipse cx="29.7" cy="931.55" rx="13.06" ry="4.65" transform="rotate(-13 29.7 931.55)" fill="#ededed" fill-opacity="1.00" stroke="#b9b9b9" stroke-opacity="0.90" stroke-width="1.2"/>
<ellipse cx="29.7" cy="932.15" rx="10.09" ry="3.17" transform="rotate(-13 29.7 931.55)" fill="none" stroke="#fafafa" stroke-opacity="0.81" stroke-width="1"/>
<ellipse cx="57.2" cy="924.8" rx="12.94" ry="4.61" transform="rotate(-13 57.2 924.8)" fill="#ededed" fill-opacity="1.00" stroke="#b9b9b9" stroke-opacity="0.85" stroke-width="1.2"/>
<ellipse cx="57.2" cy="925.4" rx="10" ry="3.14" transform="rotate(-13 57.2 924.8)" fill="none" stroke="#fafafa" stroke-opacity="0.76" stroke-width="1"/>
<ellipse cx="84.7" cy="918.05" rx="12.81" ry="4.56" transform="rotate(-13 84.7 918.05)" fill="#ededed" fill-opacity="1.00" stroke="#b9b9b9" stroke-opacity="0.80" stroke-width="1.2"/>
<ellipse cx="84.7" cy="918.65" rx="9.9" ry="3.11" transform="rotate(-13 84.7 918.05)" fill="none" stroke="#fafafa" stroke-opacity="0.72" stroke-width="1"/>
<ellipse cx="112.2" cy="911.3" rx="12.68" ry="4.52" transform="rotate(-13 112.2 911.3)" fill="#ededed" fill-opacity="0.95" stroke="#b9b9b9" stroke-opacity="0.75" stroke-width="1.2"/>
<ellipse cx="112.2" cy="911.9" rx="9.8" ry="3.07" transform="rotate(-13 112.2 911.3)" fill="none" stroke="#fafafa" stroke-opacity="0.67" stroke-width="1"/>
<ellipse cx="139.7" cy="904.55" rx="12.55" ry="4.47" transform="rotate(-13 139.7 904.55)" fill="#ededed" fill-opacity="0.90" stroke="#b9b9b9" stroke-opacity="0.70" stroke-width="1.2"/>
<ellipse cx="139.7" cy="905.15" rx="9.7" ry="3.04" transform="rotate(-13 139.7 904.55)" fill="none" stroke="#fafafa" stroke-opacity="0.63" stroke-width="1"/>
<ellipse cx="167.2" cy="897.8" rx="12.43" ry="4.42" transform="rotate(-13 167.2 897.8)" fill="#ededed" fill-opacity="0.85" stroke="#b9b9b9" stroke-opacity="0.65" stroke-width="1.2"/>
<ellipse cx="167.2" cy="898.4" rx="9.6" ry="3.01" transform="rotate(-13 167.2 897.8)" fill="none" stroke="#fafafa" stroke-opacity="0.59" stroke-width="1"/>
<ellipse cx="194.7" cy="891.05" rx="12.3" ry="4.38" transform="rotate(-13 194.7 891.05)" fill="#ededed" fill-opacity="0.80" stroke="#b9b9b9" stroke-opacity="0.60" stroke-width="1.2"/>
<ellipse cx="194.7" cy="891.65" rx="9.5" ry="2.98" transform="rotate(-13 194.7 891.05)" fill="none" stroke="#fafafa" stroke-opacity="0.54" stroke-width="1"/>
<ellipse cx="222.2" cy="884.3" rx="12.17" ry="4.33" transform="rotate(-13 222.2 884.3)" fill="#ededed" fill-opacity="0.75" stroke="#b9b9b9" stroke-opacity="0.55" stroke-width="1.2"/>
<ellipse cx="222.2" cy="884.9" rx="9.41" ry="2.95" transform="rotate(-13 222.2 884.3)" fill="none" stroke="#fafafa" stroke-opacity="0.50" stroke-width="1"/>
<ellipse cx="249.7" cy="877.55" rx="12.05" ry="4.29" transform="rotate(-13 249.7 877.55)" fill="#ededed" fill-opacity="0.70" stroke="#b9b9b9" stroke-opacity="0.50" stroke-width="1.2"/>
<ellipse cx="249.7" cy="878.15" rx="9.31" ry="2.92" transform="rotate(-13 249.7 877.55)" fill="none" stroke="#fafafa" stroke-opacity="0.45" stroke-width="1"/>
<ellipse cx="277.2" cy="870.8" rx="11.92" ry="4.24" transform="rotate(-13 277.2 870.8)" fill="#ededed" fill-opacity="0.66" stroke="#b9b9b9" stroke-opacity="0.45" stroke-width="1.2"/>
<ellipse cx="277.2" cy="871.4" rx="9.21" ry="2.89" transform="rotate(-13 277.2 870.8)" fill="none" stroke="#fafafa" stroke-opacity="0.41" stroke-width="1"/>
<ellipse cx="304.7" cy="864.05" rx="11.79" ry="4.2" transform="rotate(-13 304.7 864.05)" fill="#ededed" fill-opacity="0.61" stroke="#b9b9b9" stroke-opacity="0.41" stroke-width="1.2"/>
<ellipse cx="304.7" cy="864.65" rx="9.11" ry="2.86" transform="rotate(-13 304.7 864.05)" fill="none" stroke="#fafafa" stroke-opacity="0.37" stroke-width="1"/>
<ellipse cx="332.2" cy="857.3" rx="11.67" ry="4.15" transform="rotate(-13 332.2 857.3)" fill="#ededed" fill-opacity="0.56" stroke="#b9b9b9" stroke-opacity="0.36" stroke-width="1.2"/>
<ellipse cx="332.2" cy="857.9" rx="9.01" ry="2.83" transform="rotate(-13 332.2 857.3)" fill="none" stroke="#fafafa" stroke-opacity="0.32" stroke-width="1"/>
<ellipse cx="359.7" cy="850.55" rx="11.54" ry="4.11" transform="rotate(-13 359.7 850.55)" fill="#ededed" fill-opacity="0.51" stroke="#b9b9b9" stroke-opacity="0.31" stroke-width="1.2"/>
<ellipse cx="359.7" cy="851.15" rx="8.92" ry="2.8" transform="rotate(-13 359.7 850.55)" fill="none" stroke="#fafafa" stroke-opacity="0.28" stroke-width="1"/>
<ellipse cx="387.2" cy="843.8" rx="11.41" ry="4.06" transform="rotate(-13 387.2 843.8)" fill="#ededed" fill-opacity="0.46" stroke="#b9b9b9" stroke-opacity="0.26" stroke-width="1.2"/>
<ellipse cx="387.2" cy="844.4" rx="8.82" ry="2.77" transform="rotate(-13 387.2 843.8)" fill="none" stroke="#fafafa" stroke-opacity="0.23" stroke-width="1"/>
<ellipse cx="414.7" cy="837.05" rx="11.28" ry="4.02" transform="rotate(-13 414.7 837.05)" fill="#ededed" fill-opacity="0.41" stroke="#b9b9b9" stroke-opacity="0.21" stroke-width="1.2"/>
<ellipse cx="414.7" cy="837.65" rx="8.72" ry="2.74" transform="rotate(-13 414.7 837.05)" fill="none" stroke="#fafafa" stroke-opacity="0.19" stroke-width="1"/>
<ellipse cx="442.2" cy="830.3" rx="11.16" ry="3.97" transform="rotate(-13 442.2 830.3)" fill="#ededed" fill-opacity="0.36" stroke="#b9b9b9" stroke-opacity="0.16" stroke-width="1.2"/>
<ellipse cx="442.2" cy="830.9" rx="8.62" ry="2.7" transform="rotate(-13 442.2 830.3)" fill="none" stroke="#fafafa" stroke-opacity="0.14" stroke-width="1"/>
<ellipse cx="469.7" cy="823.55" rx="11.03" ry="3.93" transform="rotate(-13 469.7 823.55)" fill="#ededed" fill-opacity="0.32" stroke="#b9b9b9" stroke-opacity="0.12" stroke-width="1.2"/>
<ellipse cx="469.7" cy="824.15" rx="8.52" ry="2.67" transform="rotate(-13 469.7 823.55)" fill="none" stroke="#fafafa" stroke-opacity="0.11" stroke-width="1"/>
<ellipse cx="497.2" cy="816.8" rx="10.9" ry="3.88" transform="rotate(-13 497.2 816.8)" fill="#ededed" fill-opacity="0.32" stroke="#b9b9b9" stroke-opacity="0.12" stroke-width="1.2"/>
<ellipse cx="497.2" cy="817.4" rx="8.42" ry="2.64" transform="rotate(-13 497.2 816.8)" fill="none" stroke="#fafafa" stroke-opacity="0.11" stroke-width="1"/>
<ellipse cx="524.7" cy="810.05" rx="10.78" ry="3.84" transform="rotate(-13 524.7 810.05)" fill="#ededed" fill-opacity="0.32" stroke="#b9b9b9" stroke-opacity="0.12" stroke-width="1.2"/>
<ellipse cx="524.7" cy="810.65" rx="8.33" ry="2.61" transform="rotate(-13 524.7 810.05)" fill="none" stroke="#fafafa" stroke-opacity="0.11" stroke-width="1"/>
<ellipse cx="552.2" cy="803.3" rx="10.65" ry="3.79" transform="rotate(-13 552.2 803.3)" fill="#ededed" fill-opacity="0.32" stroke="#b9b9b9" stroke-opacity="0.12" stroke-width="1.2"/>
<ellipse cx="552.2" cy="803.9" rx="8.23" ry="2.58" transform="rotate(-13 552.2 803.3)" fill="none" stroke="#fafafa" stroke-opacity="0.11" stroke-width="1"/>
<ellipse cx="579.7" cy="796.55" rx="10.52" ry="3.75" transform="rotate(-13 579.7 796.55)" fill="#ededed" fill-opacity="0.32" stroke="#b9b9b9" stroke-opacity="0.12" stroke-width="1.2"/>
<ellipse cx="579.7" cy="797.15" rx="8.13" ry="2.55" transform="rotate(-13 579.7 796.55)" fill="none" stroke="#fafafa" stroke-opacity="0.11" stroke-width="1"/>
<ellipse cx="607.2" cy="789.8" rx="10.39" ry="3.7" transform="rotate(-13 607.2 789.8)" fill="#ededed" fill-opacity="0.32" stroke="#b9b9b9" stroke-opacity="0.12" stroke-width="1.2"/>
<ellipse cx="607.2" cy="790.4" rx="8.03" ry="2.52" transform="rotate(-13 607.2 789.8)" fill="none" stroke="#fafafa" stroke-opacity="0.11" stroke-width="1"/>
<ellipse cx="634.7" cy="783.05" rx="10.27" ry="3.66" transform="rotate(-13 634.7 783.05)" fill="#ededed" fill-opacity="0.32" stroke="#b9b9b9" stroke-opacity="0.12" stroke-width="1.2"/>
<ellipse cx="634.7" cy="783.65" rx="7.93" ry="2.49" transform="rotate(-13 634.7 783.05)" fill="none" stroke="#fafafa" stroke-opacity="0.11" stroke-width="1"/>
<ellipse cx="662.2" cy="776.3" rx="10.14" ry="3.61" transform="rotate(-13 662.2 776.3)" fill="#ededed" fill-opacity="0.32" stroke="#b9b9b9" stroke-opacity="0.12" stroke-width="1.2"/>
<ellipse cx="662.2" cy="776.9" rx="7.84" ry="2.46" transform="rotate(-13 662.2 776.3)" fill="none" stroke="#fafafa" stroke-opacity="0.11" stroke-width="1"/>
<ellipse cx="689.7" cy="769.55" rx="10.01" ry="3.57" transform="rotate(-13 689.7 769.55)" fill="#ededed" fill-opacity="0.32" stroke="#b9b9b9" stroke-opacity="0.12" stroke-width="1.2"/>
<ellipse cx="689.7" cy="770.15" rx="7.74" ry="2.43" transform="rotate(-13 689.7 769.55)" fill="none" stroke="#fafafa" stroke-opacity="0.11" stroke-width="1"/>
<ellipse cx="-0.4" cy="930.4" rx="13.2" ry="4.7" transform="rotate(-13 -0.4 930.4)" fill="#ededed" fill-opacity="1.00" stroke="#b9b9b9" stroke-opacity="0.95" stroke-width="1.2"/>
<ellipse cx="-0.4" cy="931" rx="10.2" ry="3.2" transform="rotate(-13 -0.4 930.4)" fill="none" stroke="#fafafa" stroke-opacity="0.86" stroke-width="1"/>
<ellipse cx="27.1" cy="923.65" rx="13.07" ry="4.66" transform="rotate(-13 27.1 923.65)" fill="#ededed" fill-opacity="1.00" stroke="#b9b9b9" stroke-opacity="0.90" stroke-width="1.2"/>
<ellipse cx="27.1" cy="924.25" rx="10.1" ry="3.17" transform="rotate(-13 27.1 923.65)" fill="none" stroke="#fafafa" stroke-opacity="0.81" stroke-width="1"/>
<ellipse cx="54.6" cy="916.9" rx="12.95" ry="4.61" transform="rotate(-13 54.6 916.9)" fill="#ededed" fill-opacity="1.00" stroke="#b9b9b9" stroke-opacity="0.85" stroke-width="1.2"/>
<ellipse cx="54.6" cy="917.5" rx="10.01" ry="3.14" transform="rotate(-13 54.6 916.9)" fill="none" stroke="#fafafa" stroke-opacity="0.77" stroke-width="1"/>
<ellipse cx="82.1" cy="910.15" rx="12.82" ry="4.56" transform="rotate(-13 82.1 910.15)" fill="#ededed" fill-opacity="1.00" stroke="#b9b9b9" stroke-opacity="0.80" stroke-width="1.2"/>
<ellipse cx="82.1" cy="910.75" rx="9.91" ry="3.11" transform="rotate(-13 82.1 910.15)" fill="none" stroke="#fafafa" stroke-opacity="0.72" stroke-width="1"/>
<ellipse cx="109.6" cy="903.4" rx="12.69" ry="4.52" transform="rotate(-13 109.6 903.4)" fill="#ededed" fill-opacity="0.95" stroke="#b9b9b9" stroke-opacity="0.75" stroke-width="1.2"/>
<ellipse cx="109.6" cy="904" rx="9.81" ry="3.08" transform="rotate(-13 109.6 903.4)" fill="none" stroke="#fafafa" stroke-opacity="0.68" stroke-width="1"/>
<ellipse cx="137.1" cy="896.65" rx="12.57" ry="4.47" transform="rotate(-13 137.1 896.65)" fill="#ededed" fill-opacity="0.91" stroke="#b9b9b9" stroke-opacity="0.71" stroke-width="1.2"/>
<ellipse cx="137.1" cy="897.25" rx="9.71" ry="3.05" transform="rotate(-13 137.1 896.65)" fill="none" stroke="#fafafa" stroke-opacity="0.63" stroke-width="1"/>
<ellipse cx="164.6" cy="889.9" rx="12.44" ry="4.43" transform="rotate(-13 164.6 889.9)" fill="#ededed" fill-opacity="0.86" stroke="#b9b9b9" stroke-opacity="0.66" stroke-width="1.2"/>
<ellipse cx="164.6" cy="890.5" rx="9.61" ry="3.02" transform="rotate(-13 164.6 889.9)" fill="none" stroke="#fafafa" stroke-opacity="0.59" stroke-width="1"/>
<ellipse cx="192.1" cy="883.15" rx="12.31" ry="4.38" transform="rotate(-13 192.1 883.15)" fill="#ededed" fill-opacity="0.81" stroke="#b9b9b9" stroke-opacity="0.61" stroke-width="1.2"/>
<ellipse cx="192.1" cy="883.75" rx="9.51" ry="2.98" transform="rotate(-13 192.1 883.15)" fill="none" stroke="#fafafa" stroke-opacity="0.55" stroke-width="1"/>
<ellipse cx="219.6" cy="876.4" rx="12.19" ry="4.34" transform="rotate(-13 219.6 876.4)" fill="#ededed" fill-opacity="0.76" stroke="#b9b9b9" stroke-opacity="0.56" stroke-width="1.2"/>
<ellipse cx="219.6" cy="877" rx="9.42" ry="2.95" transform="rotate(-13 219.6 876.4)" fill="none" stroke="#fafafa" stroke-opacity="0.50" stroke-width="1"/>
<ellipse cx="247.1" cy="869.65" rx="12.06" ry="4.29" transform="rotate(-13 247.1 869.65)" fill="#ededed" fill-opacity="0.71" stroke="#b9b9b9" stroke-opacity="0.51" stroke-width="1.2"/>
<ellipse cx="247.1" cy="870.25" rx="9.32" ry="2.92" transform="rotate(-13 247.1 869.65)" fill="none" stroke="#fafafa" stroke-opacity="0.46" stroke-width="1"/>
<ellipse cx="274.6" cy="862.9" rx="11.93" ry="4.25" transform="rotate(-13 274.6 862.9)" fill="#ededed" fill-opacity="0.66" stroke="#b9b9b9" stroke-opacity="0.46" stroke-width="1.2"/>
<ellipse cx="274.6" cy="863.5" rx="9.22" ry="2.89" transform="rotate(-13 274.6 862.9)" fill="none" stroke="#fafafa" stroke-opacity="0.41" stroke-width="1"/>
<ellipse cx="302.1" cy="856.15" rx="11.8" ry="4.2" transform="rotate(-13 302.1 856.15)" fill="#ededed" fill-opacity="0.61" stroke="#b9b9b9" stroke-opacity="0.41" stroke-width="1.2"/>
<ellipse cx="302.1" cy="856.75" rx="9.12" ry="2.86" transform="rotate(-13 302.1 856.15)" fill="none" stroke="#fafafa" stroke-opacity="0.37" stroke-width="1"/>
<ellipse cx="329.6" cy="849.4" rx="11.68" ry="4.16" transform="rotate(-13 329.6 849.4)" fill="#ededed" fill-opacity="0.56" stroke="#b9b9b9" stroke-opacity="0.36" stroke-width="1.2"/>
<ellipse cx="329.6" cy="850" rx="9.02" ry="2.83" transform="rotate(-13 329.6 849.4)" fill="none" stroke="#fafafa" stroke-opacity="0.33" stroke-width="1"/>
<ellipse cx="357.1" cy="842.65" rx="11.55" ry="4.11" transform="rotate(-13 357.1 842.65)" fill="#ededed" fill-opacity="0.51" stroke="#b9b9b9" stroke-opacity="0.31" stroke-width="1.2"/>
<ellipse cx="357.1" cy="843.25" rx="8.93" ry="2.8" transform="rotate(-13 357.1 842.65)" fill="none" stroke="#fafafa" stroke-opacity="0.28" stroke-width="1"/>
<ellipse cx="384.6" cy="835.9" rx="11.42" ry="4.07" transform="rotate(-13 384.6 835.9)" fill="#ededed" fill-opacity="0.46" stroke="#b9b9b9" stroke-opacity="0.26" stroke-width="1.2"/>
<ellipse cx="384.6" cy="836.5" rx="8.83" ry="2.77" transform="rotate(-13 384.6 835.9)" fill="none" stroke="#fafafa" stroke-opacity="0.24" stroke-width="1"/>
<ellipse cx="412.1" cy="829.15" rx="11.3" ry="4.02" transform="rotate(-13 412.1 829.15)" fill="#ededed" fill-opacity="0.41" stroke="#b9b9b9" stroke-opacity="0.21" stroke-width="1.2"/>
<ellipse cx="412.1" cy="829.75" rx="8.73" ry="2.74" transform="rotate(-13 412.1 829.15)" fill="none" stroke="#fafafa" stroke-opacity="0.19" stroke-width="1"/>
<ellipse cx="439.6" cy="822.4" rx="11.17" ry="3.98" transform="rotate(-13 439.6 822.4)" fill="#ededed" fill-opacity="0.36" stroke="#b9b9b9" stroke-opacity="0.16" stroke-width="1.2"/>
<ellipse cx="439.6" cy="823" rx="8.63" ry="2.71" transform="rotate(-13 439.6 822.4)" fill="none" stroke="#fafafa" stroke-opacity="0.15" stroke-width="1"/>
<ellipse cx="467.1" cy="815.65" rx="11.04" ry="3.93" transform="rotate(-13 467.1 815.65)" fill="#ededed" fill-opacity="0.32" stroke="#b9b9b9" stroke-opacity="0.12" stroke-width="1.2"/>
<ellipse cx="467.1" cy="816.25" rx="8.53" ry="2.68" transform="rotate(-13 467.1 815.65)" fill="none" stroke="#fafafa" stroke-opacity="0.11" stroke-width="1"/>
<ellipse cx="494.6" cy="808.9" rx="10.91" ry="3.89" transform="rotate(-13 494.6 808.9)" fill="#ededed" fill-opacity="0.32" stroke="#b9b9b9" stroke-opacity="0.12" stroke-width="1.2"/>
<ellipse cx="494.6" cy="809.5" rx="8.43" ry="2.65" transform="rotate(-13 494.6 808.9)" fill="none" stroke="#fafafa" stroke-opacity="0.11" stroke-width="1"/>
<ellipse cx="522.1" cy="802.15" rx="10.79" ry="3.84" transform="rotate(-13 522.1 802.15)" fill="#ededed" fill-opacity="0.32" stroke="#b9b9b9" stroke-opacity="0.12" stroke-width="1.2"/>
<ellipse cx="522.1" cy="802.75" rx="8.34" ry="2.62" transform="rotate(-13 522.1 802.15)" fill="none" stroke="#fafafa" stroke-opacity="0.11" stroke-width="1"/>
<ellipse cx="549.6" cy="795.4" rx="10.66" ry="3.8" transform="rotate(-13 549.6 795.4)" fill="#ededed" fill-opacity="0.32" stroke="#b9b9b9" stroke-opacity="0.12" stroke-width="1.2"/>
<ellipse cx="549.6" cy="796" rx="8.24" ry="2.58" transform="rotate(-13 549.6 795.4)" fill="none" stroke="#fafafa" stroke-opacity="0.11" stroke-width="1"/>
<ellipse cx="577.1" cy="788.65" rx="10.53" ry="3.75" transform="rotate(-13 577.1 788.65)" fill="#ededed" fill-opacity="0.32" stroke="#b9b9b9" stroke-opacity="0.12" stroke-width="1.2"/>
<ellipse cx="577.1" cy="789.25" rx="8.14" ry="2.55" transform="rotate(-13 577.1 788.65)" fill="none" stroke="#fafafa" stroke-opacity="0.11" stroke-width="1"/>
<ellipse cx="604.6" cy="781.9" rx="10.41" ry="3.71" transform="rotate(-13 604.6 781.9)" fill="#ededed" fill-opacity="0.32" stroke="#b9b9b9" stroke-opacity="0.12" stroke-width="1.2"/>
<ellipse cx="604.6" cy="782.5" rx="8.04" ry="2.52" transform="rotate(-13 604.6 781.9)" fill="none" stroke="#fafafa" stroke-opacity="0.11" stroke-width="1"/>
<ellipse cx="632.1" cy="775.15" rx="10.28" ry="3.66" transform="rotate(-13 632.1 775.15)" fill="#ededed" fill-opacity="0.32" stroke="#b9b9b9" stroke-opacity="0.12" stroke-width="1.2"/>
<ellipse cx="632.1" cy="775.75" rx="7.94" ry="2.49" transform="rotate(-13 632.1 775.15)" fill="none" stroke="#fafafa" stroke-opacity="0.11" stroke-width="1"/>
<ellipse cx="659.6" cy="768.4" rx="10.15" ry="3.61" transform="rotate(-13 659.6 768.4)" fill="#ededed" fill-opacity="0.32" stroke="#b9b9b9" stroke-opacity="0.12" stroke-width="1.2"/>
<ellipse cx="659.6" cy="769" rx="7.85" ry="2.46" transform="rotate(-13 659.6 768.4)" fill="none" stroke="#fafafa" stroke-opacity="0.11" stroke-width="1"/>
<ellipse cx="687.1" cy="761.65" rx="10.03" ry="3.57" transform="rotate(-13 687.1 761.65)" fill="#ededed" fill-opacity="0.32" stroke="#b9b9b9" stroke-opacity="0.12" stroke-width="1.2"/>
<ellipse cx="687.1" cy="762.25" rx="7.75" ry="2.43" transform="rotate(-13 687.1 761.65)" fill="none" stroke="#fafafa" stroke-opacity="0.11" stroke-width="1"/>
<ellipse cx="-3" cy="922.5" rx="13.21" ry="4.7" transform="rotate(-13 -3 922.5)" fill="#ededed" fill-opacity="1.00" stroke="#b9b9b9" stroke-opacity="0.96" stroke-width="1.2"/>
<ellipse cx="-3" cy="923.1" rx="10.21" ry="3.2" transform="rotate(-13 -3 922.5)" fill="none" stroke="#fafafa" stroke-opacity="0.86" stroke-width="1"/>
<ellipse cx="24.5" cy="915.75" rx="13.09" ry="4.66" transform="rotate(-13 24.5 915.75)" fill="#ededed" fill-opacity="1.00" stroke="#b9b9b9" stroke-opacity="0.91" stroke-width="1.2"/>
<ellipse cx="24.5" cy="916.35" rx="10.11" ry="3.17" transform="rotate(-13 24.5 915.75)" fill="none" stroke="#fafafa" stroke-opacity="0.82" stroke-width="1"/>
<ellipse cx="52" cy="909" rx="12.96" ry="4.61" transform="rotate(-13 52 909)" fill="#ededed" fill-opacity="1.00" stroke="#b9b9b9" stroke-opacity="0.86" stroke-width="1.2"/>
<ellipse cx="52" cy="909.6" rx="10.01" ry="3.14" transform="rotate(-13 52 909)" fill="none" stroke="#fafafa" stroke-opacity="0.77" stroke-width="1"/>
<ellipse cx="79.5" cy="902.25" rx="12.83" ry="4.57" transform="rotate(-13 79.5 902.25)" fill="#ededed" fill-opacity="1.00" stroke="#b9b9b9" stroke-opacity="0.81" stroke-width="1.2"/>
<ellipse cx="79.5" cy="902.85" rx="9.92" ry="3.11" transform="rotate(-13 79.5 902.25)" fill="none" stroke="#fafafa" stroke-opacity="0.73" stroke-width="1"/>
<ellipse cx="107" cy="895.5" rx="12.71" ry="4.52" transform="rotate(-13 107 895.5)" fill="#ededed" fill-opacity="0.96" stroke="#b9b9b9" stroke-opacity="0.76" stroke-width="1.2"/>
<ellipse cx="107" cy="896.1" rx="9.82" ry="3.08" transform="rotate(-13 107 895.5)" fill="none" stroke="#fafafa" stroke-opacity="0.68" stroke-width="1"/>
<ellipse cx="134.5" cy="888.75" rx="12.58" ry="4.48" transform="rotate(-13 134.5 888.75)" fill="#ededed" fill-opacity="0.91" stroke="#b9b9b9" stroke-opacity="0.71" stroke-width="1.2"/>
<ellipse cx="134.5" cy="889.35" rx="9.72" ry="3.05" transform="rotate(-13 134.5 888.75)" fill="none" stroke="#fafafa" stroke-opacity="0.64" stroke-width="1"/>
<ellipse cx="162" cy="882" rx="12.45" ry="4.43" transform="rotate(-13 162 882)" fill="#ededed" fill-opacity="0.86" stroke="#b9b9b9" stroke-opacity="0.66" stroke-width="1.2"/>
<ellipse cx="162" cy="882.6" rx="9.62" ry="3.02" transform="rotate(-13 162 882)" fill="none" stroke="#fafafa" stroke-opacity="0.59" stroke-width="1"/>
<ellipse cx="189.5" cy="875.25" rx="12.32" ry="4.39" transform="rotate(-13 189.5 875.25)" fill="#ededed" fill-opacity="0.81" stroke="#b9b9b9" stroke-opacity="0.61" stroke-width="1.2"/>
<ellipse cx="189.5" cy="875.85" rx="9.52" ry="2.99" transform="rotate(-13 189.5 875.25)" fill="none" stroke="#fafafa" stroke-opacity="0.55" stroke-width="1"/>
<ellipse cx="217" cy="868.5" rx="12.2" ry="4.34" transform="rotate(-13 217 868.5)" fill="#ededed" fill-opacity="0.76" stroke="#b9b9b9" stroke-opacity="0.56" stroke-width="1.2"/>
<ellipse cx="217" cy="869.1" rx="9.43" ry="2.96" transform="rotate(-13 217 868.5)" fill="none" stroke="#fafafa" stroke-opacity="0.51" stroke-width="1"/>
<ellipse cx="244.5" cy="861.75" rx="12.07" ry="4.3" transform="rotate(-13 244.5 861.75)" fill="#ededed" fill-opacity="0.71" stroke="#b9b9b9" stroke-opacity="0.51" stroke-width="1.2"/>
<ellipse cx="244.5" cy="862.35" rx="9.33" ry="2.93" transform="rotate(-13 244.5 861.75)" fill="none" stroke="#fafafa" stroke-opacity="0.46" stroke-width="1"/>
<ellipse cx="272" cy="855" rx="11.94" ry="4.25" transform="rotate(-13 272 855)" fill="#ededed" fill-opacity="0.66" stroke="#b9b9b9" stroke-opacity="0.46" stroke-width="1.2"/>
<ellipse cx="272" cy="855.6" rx="9.23" ry="2.9" transform="rotate(-13 272 855)" fill="none" stroke="#fafafa" stroke-opacity="0.42" stroke-width="1"/>
<ellipse cx="299.5" cy="848.25" rx="11.82" ry="4.21" transform="rotate(-13 299.5 848.25)" fill="#ededed" fill-opacity="0.62" stroke="#b9b9b9" stroke-opacity="0.42" stroke-width="1.2"/>
<ellipse cx="299.5" cy="848.85" rx="9.13" ry="2.86" transform="rotate(-13 299.5 848.25)" fill="none" stroke="#fafafa" stroke-opacity="0.37" stroke-width="1"/>
<ellipse cx="327" cy="841.5" rx="11.69" ry="4.16" transform="rotate(-13 327 841.5)" fill="#ededed" fill-opacity="0.57" stroke="#b9b9b9" stroke-opacity="0.37" stroke-width="1.2"/>
<ellipse cx="327" cy="842.1" rx="9.03" ry="2.83" transform="rotate(-13 327 841.5)" fill="none" stroke="#fafafa" stroke-opacity="0.33" stroke-width="1"/>
<ellipse cx="354.5" cy="834.75" rx="11.56" ry="4.12" transform="rotate(-13 354.5 834.75)" fill="#ededed" fill-opacity="0.52" stroke="#b9b9b9" stroke-opacity="0.32" stroke-width="1.2"/>
<ellipse cx="354.5" cy="835.35" rx="8.93" ry="2.8" transform="rotate(-13 354.5 834.75)" fill="none" stroke="#fafafa" stroke-opacity="0.29" stroke-width="1"/>
<ellipse cx="382" cy="828" rx="11.44" ry="4.07" transform="rotate(-13 382 828)" fill="#ededed" fill-opacity="0.47" stroke="#b9b9b9" stroke-opacity="0.27" stroke-width="1.2"/>
<ellipse cx="382" cy="828.6" rx="8.84" ry="2.77" transform="rotate(-13 382 828)" fill="none" stroke="#fafafa" stroke-opacity="0.24" stroke-width="1"/>
<ellipse cx="409.5" cy="821.25" rx="11.31" ry="4.03" transform="rotate(-13 409.5 821.25)" fill="#ededed" fill-opacity="0.42" stroke="#b9b9b9" stroke-opacity="0.22" stroke-width="1.2"/>
<ellipse cx="409.5" cy="821.85" rx="8.74" ry="2.74" transform="rotate(-13 409.5 821.25)" fill="none" stroke="#fafafa" stroke-opacity="0.20" stroke-width="1"/>
<ellipse cx="437" cy="814.5" rx="11.18" ry="3.98" transform="rotate(-13 437 814.5)" fill="#ededed" fill-opacity="0.37" stroke="#b9b9b9" stroke-opacity="0.17" stroke-width="1.2"/>
<ellipse cx="437" cy="815.1" rx="8.64" ry="2.71" transform="rotate(-13 437 814.5)" fill="none" stroke="#fafafa" stroke-opacity="0.15" stroke-width="1"/>
<ellipse cx="464.5" cy="807.75" rx="11.05" ry="3.94" transform="rotate(-13 464.5 807.75)" fill="#ededed" fill-opacity="0.32" stroke="#b9b9b9" stroke-opacity="0.12" stroke-width="1.2"/>
<ellipse cx="464.5" cy="808.35" rx="8.54" ry="2.68" transform="rotate(-13 464.5 807.75)" fill="none" stroke="#fafafa" stroke-opacity="0.11" stroke-width="1"/>
<ellipse cx="492" cy="801" rx="10.93" ry="3.89" transform="rotate(-13 492 801)" fill="#ededed" fill-opacity="0.32" stroke="#b9b9b9" stroke-opacity="0.12" stroke-width="1.2"/>
<ellipse cx="492" cy="801.6" rx="8.44" ry="2.65" transform="rotate(-13 492 801)" fill="none" stroke="#fafafa" stroke-opacity="0.11" stroke-width="1"/>
<ellipse cx="519.5" cy="794.25" rx="10.8" ry="3.85" transform="rotate(-13 519.5 794.25)" fill="#ededed" fill-opacity="0.32" stroke="#b9b9b9" stroke-opacity="0.12" stroke-width="1.2"/>
<ellipse cx="519.5" cy="794.85" rx="8.35" ry="2.62" transform="rotate(-13 519.5 794.25)" fill="none" stroke="#fafafa" stroke-opacity="0.11" stroke-width="1"/>
<ellipse cx="547" cy="787.5" rx="10.67" ry="3.8" transform="rotate(-13 547 787.5)" fill="#ededed" fill-opacity="0.32" stroke="#b9b9b9" stroke-opacity="0.12" stroke-width="1.2"/>
<ellipse cx="547" cy="788.1" rx="8.25" ry="2.59" transform="rotate(-13 547 787.5)" fill="none" stroke="#fafafa" stroke-opacity="0.11" stroke-width="1"/>
<ellipse cx="574.5" cy="780.75" rx="10.55" ry="3.75" transform="rotate(-13 574.5 780.75)" fill="#ededed" fill-opacity="0.32" stroke="#b9b9b9" stroke-opacity="0.12" stroke-width="1.2"/>
<ellipse cx="574.5" cy="781.35" rx="8.15" ry="2.56" transform="rotate(-13 574.5 780.75)" fill="none" stroke="#fafafa" stroke-opacity="0.11" stroke-width="1"/>
<ellipse cx="602" cy="774" rx="10.42" ry="3.71" transform="rotate(-13 602 774)" fill="#ededed" fill-opacity="0.32" stroke="#b9b9b9" stroke-opacity="0.12" stroke-width="1.2"/>
<ellipse cx="602" cy="774.6" rx="8.05" ry="2.53" transform="rotate(-13 602 774)" fill="none" stroke="#fafafa" stroke-opacity="0.11" stroke-width="1"/>
<ellipse cx="629.5" cy="767.25" rx="10.29" ry="3.66" transform="rotate(-13 629.5 767.25)" fill="#ededed" fill-opacity="0.32" stroke="#b9b9b9" stroke-opacity="0.12" stroke-width="1.2"/>
<ellipse cx="629.5" cy="767.85" rx="7.95" ry="2.49" transform="rotate(-13 629.5 767.25)" fill="none" stroke="#fafafa" stroke-opacity="0.11" stroke-width="1"/>
<ellipse cx="657" cy="760.5" rx="10.16" ry="3.62" transform="rotate(-13 657 760.5)" fill="#ededed" fill-opacity="0.32" stroke="#b9b9b9" stroke-opacity="0.12" stroke-width="1.2"/>
<ellipse cx="657" cy="761.1" rx="7.85" ry="2.46" transform="rotate(-13 657 760.5)" fill="none" stroke="#fafafa" stroke-opacity="0.11" stroke-width="1"/>
<ellipse cx="-5.6" cy="914.6" rx="13.23" ry="4.71" transform="rotate(-13 -5.6 914.6)" fill="#ededed" fill-opacity="1.00" stroke="#b9b9b9" stroke-opacity="0.96" stroke-width="1.2"/>
<ellipse cx="-5.6" cy="915.2" rx="10.22" ry="3.21" transform="rotate(-13 -5.6 914.6)" fill="none" stroke="#fafafa" stroke-opacity="0.86" stroke-width="1"/>
<ellipse cx="21.9" cy="907.85" rx="13.1" ry="4.66" transform="rotate(-13 21.9 907.85)" fill="#ededed" fill-opacity="1.00" stroke="#b9b9b9" stroke-opacity="0.91" stroke-width="1.2"/>
<ellipse cx="21.9" cy="908.45" rx="10.12" ry="3.18" transform="rotate(-13 21.9 907.85)" fill="none" stroke="#fafafa" stroke-opacity="0.82" stroke-width="1"/>
<ellipse cx="49.4" cy="901.1" rx="12.97" ry="4.62" transform="rotate(-13 49.4 901.1)" fill="#ededed" fill-opacity="1.00" stroke="#b9b9b9" stroke-opacity="0.86" stroke-width="1.2"/>
<ellipse cx="49.4" cy="901.7" rx="10.02" ry="3.14" transform="rotate(-13 49.4 901.1)" fill="none" stroke="#fafafa" stroke-opacity="0.78" stroke-width="1"/>
<ellipse cx="76.9" cy="894.35" rx="12.84" ry="4.57" transform="rotate(-13 76.9 894.35)" fill="#ededed" fill-opacity="1.00" stroke="#b9b9b9" stroke-opacity="0.81" stroke-width="1.2"/>
<ellipse cx="76.9" cy="894.95" rx="9.93" ry="3.11" transform="rotate(-13 76.9 894.35)" fill="none" stroke="#fafafa" stroke-opacity="0.73" stroke-width="1"/>
<ellipse cx="104.4" cy="887.6" rx="12.72" ry="4.53" transform="rotate(-13 104.4 887.6)" fill="#ededed" fill-opacity="0.96" stroke="#b9b9b9" stroke-opacity="0.76" stroke-width="1.2"/>
<ellipse cx="104.4" cy="888.2" rx="9.83" ry="3.08" transform="rotate(-13 104.4 887.6)" fill="none" stroke="#fafafa" stroke-opacity="0.69" stroke-width="1"/>
<ellipse cx="131.9" cy="880.85" rx="12.59" ry="4.48" transform="rotate(-13 131.9 880.85)" fill="#ededed" fill-opacity="0.91" stroke="#b9b9b9" stroke-opacity="0.71" stroke-width="1.2"/>
<ellipse cx="131.9" cy="881.45" rx="9.73" ry="3.05" transform="rotate(-13 131.9 880.85)" fill="none" stroke="#fafafa" stroke-opacity="0.64" stroke-width="1"/>
<ellipse cx="159.4" cy="874.1" rx="12.46" ry="4.44" transform="rotate(-13 159.4 874.1)" fill="#ededed" fill-opacity="0.87" stroke="#b9b9b9" stroke-opacity="0.67" stroke-width="1.2"/>
<ellipse cx="159.4" cy="874.7" rx="9.63" ry="3.02" transform="rotate(-13 159.4 874.1)" fill="none" stroke="#fafafa" stroke-opacity="0.60" stroke-width="1"/>
<ellipse cx="186.9" cy="867.35" rx="12.34" ry="4.39" transform="rotate(-13 186.9 867.35)" fill="#ededed" fill-opacity="0.82" stroke="#b9b9b9" stroke-opacity="0.62" stroke-width="1.2"/>
<ellipse cx="186.9" cy="867.95" rx="9.53" ry="2.99" transform="rotate(-13 186.9 867.35)" fill="none" stroke="#fafafa" stroke-opacity="0.55" stroke-width="1"/>
<ellipse cx="214.4" cy="860.6" rx="12.21" ry="4.35" transform="rotate(-13 214.4 860.6)" fill="#ededed" fill-opacity="0.77" stroke="#b9b9b9" stroke-opacity="0.57" stroke-width="1.2"/>
<ellipse cx="214.4" cy="861.2" rx="9.43" ry="2.96" transform="rotate(-13 214.4 860.6)" fill="none" stroke="#fafafa" stroke-opacity="0.51" stroke-width="1"/>
<ellipse cx="241.9" cy="853.85" rx="12.08" ry="4.3" transform="rotate(-13 241.9 853.85)" fill="#ededed" fill-opacity="0.72" stroke="#b9b9b9" stroke-opacity="0.52" stroke-width="1.2"/>
<ellipse cx="241.9" cy="854.45" rx="9.34" ry="2.93" transform="rotate(-13 241.9 853.85)" fill="none" stroke="#fafafa" stroke-opacity="0.47" stroke-width="1"/>
<ellipse cx="269.4" cy="847.1" rx="11.96" ry="4.26" transform="rotate(-13 269.4 847.1)" fill="#ededed" fill-opacity="0.67" stroke="#b9b9b9" stroke-opacity="0.47" stroke-width="1.2"/>
<ellipse cx="269.4" cy="847.7" rx="9.24" ry="2.9" transform="rotate(-13 269.4 847.1)" fill="none" stroke="#fafafa" stroke-opacity="0.42" stroke-width="1"/>
<ellipse cx="296.9" cy="840.35" rx="11.83" ry="4.21" transform="rotate(-13 296.9 840.35)" fill="#ededed" fill-opacity="0.62" stroke="#b9b9b9" stroke-opacity="0.42" stroke-width="1.2"/>
<ellipse cx="296.9" cy="840.95" rx="9.14" ry="2.87" transform="rotate(-13 296.9 840.35)" fill="none" stroke="#fafafa" stroke-opacity="0.38" stroke-width="1"/>
<ellipse cx="324.4" cy="833.6" rx="11.7" ry="4.17" transform="rotate(-13 324.4 833.6)" fill="#ededed" fill-opacity="0.57" stroke="#b9b9b9" stroke-opacity="0.37" stroke-width="1.2"/>
<ellipse cx="324.4" cy="834.2" rx="9.04" ry="2.84" transform="rotate(-13 324.4 833.6)" fill="none" stroke="#fafafa" stroke-opacity="0.33" stroke-width="1"/>
<ellipse cx="351.9" cy="826.85" rx="11.57" ry="4.12" transform="rotate(-13 351.9 826.85)" fill="#ededed" fill-opacity="0.52" stroke="#b9b9b9" stroke-opacity="0.32" stroke-width="1.2"/>
<ellipse cx="351.9" cy="827.45" rx="8.94" ry="2.81" transform="rotate(-13 351.9 826.85)" fill="none" stroke="#fafafa" stroke-opacity="0.29" stroke-width="1"/>
<ellipse cx="379.4" cy="820.1" rx="11.45" ry="4.08" transform="rotate(-13 379.4 820.1)" fill="#ededed" fill-opacity="0.47" stroke="#b9b9b9" stroke-opacity="0.27" stroke-width="1.2"/>
<ellipse cx="379.4" cy="820.7" rx="8.85" ry="2.78" transform="rotate(-13 379.4 820.1)" fill="none" stroke="#fafafa" stroke-opacity="0.25" stroke-width="1"/>
<ellipse cx="406.9" cy="813.35" rx="11.32" ry="4.03" transform="rotate(-13 406.9 813.35)" fill="#ededed" fill-opacity="0.42" stroke="#b9b9b9" stroke-opacity="0.22" stroke-width="1.2"/>
<ellipse cx="406.9" cy="813.95" rx="8.75" ry="2.74" transform="rotate(-13 406.9 813.35)" fill="none" stroke="#fafafa" stroke-opacity="0.20" stroke-width="1"/>
<ellipse cx="434.4" cy="806.6" rx="11.19" ry="3.99" transform="rotate(-13 434.4 806.6)" fill="#ededed" fill-opacity="0.37" stroke="#b9b9b9" stroke-opacity="0.17" stroke-width="1.2"/>
<ellipse cx="434.4" cy="807.2" rx="8.65" ry="2.71" transform="rotate(-13 434.4 806.6)" fill="none" stroke="#fafafa" stroke-opacity="0.16" stroke-width="1"/>
<ellipse cx="461.9" cy="799.85" rx="11.07" ry="3.94" transform="rotate(-13 461.9 799.85)" fill="#ededed" fill-opacity="0.33" stroke="#b9b9b9" stroke-opacity="0.13" stroke-width="1.2"/>
<ellipse cx="461.9" cy="800.45" rx="8.55" ry="2.68" transform="rotate(-13 461.9 799.85)" fill="none" stroke="#fafafa" stroke-opacity="0.11" stroke-width="1"/>
<ellipse cx="489.4" cy="793.1" rx="10.94" ry="3.89" transform="rotate(-13 489.4 793.1)" fill="#ededed" fill-opacity="0.32" stroke="#b9b9b9" stroke-opacity="0.12" stroke-width="1.2"/>
<ellipse cx="489.4" cy="793.7" rx="8.45" ry="2.65" transform="rotate(-13 489.4 793.1)" fill="none" stroke="#fafafa" stroke-opacity="0.11" stroke-width="1"/>
<ellipse cx="516.9" cy="786.35" rx="10.81" ry="3.85" transform="rotate(-13 516.9 786.35)" fill="#ededed" fill-opacity="0.32" stroke="#b9b9b9" stroke-opacity="0.12" stroke-width="1.2"/>
<ellipse cx="516.9" cy="786.95" rx="8.35" ry="2.62" transform="rotate(-13 516.9 786.35)" fill="none" stroke="#fafafa" stroke-opacity="0.11" stroke-width="1"/>
<ellipse cx="544.4" cy="779.6" rx="10.68" ry="3.8" transform="rotate(-13 544.4 779.6)" fill="#ededed" fill-opacity="0.32" stroke="#b9b9b9" stroke-opacity="0.12" stroke-width="1.2"/>
<ellipse cx="544.4" cy="780.2" rx="8.26" ry="2.59" transform="rotate(-13 544.4 779.6)" fill="none" stroke="#fafafa" stroke-opacity="0.11" stroke-width="1"/>
<ellipse cx="571.9" cy="772.85" rx="10.56" ry="3.76" transform="rotate(-13 571.9 772.85)" fill="#ededed" fill-opacity="0.32" stroke="#b9b9b9" stroke-opacity="0.12" stroke-width="1.2"/>
<ellipse cx="571.9" cy="773.45" rx="8.16" ry="2.56" transform="rotate(-13 571.9 772.85)" fill="none" stroke="#fafafa" stroke-opacity="0.11" stroke-width="1"/>
<ellipse cx="599.4" cy="766.1" rx="10.43" ry="3.71" transform="rotate(-13 599.4 766.1)" fill="#ededed" fill-opacity="0.32" stroke="#b9b9b9" stroke-opacity="0.12" stroke-width="1.2"/>
<ellipse cx="599.4" cy="766.7" rx="8.06" ry="2.53" transform="rotate(-13 599.4 766.1)" fill="none" stroke="#fafafa" stroke-opacity="0.11" stroke-width="1"/>
<ellipse cx="-8.2" cy="906.7" rx="13.24" ry="4.71" transform="rotate(-13 -8.2 906.7)" fill="#ededed" fill-opacity="1.00" stroke="#b9b9b9" stroke-opacity="0.96" stroke-width="1.2"/>
<ellipse cx="-8.2" cy="907.3" rx="10.23" ry="3.21" transform="rotate(-13 -8.2 906.7)" fill="none" stroke="#fafafa" stroke-opacity="0.87" stroke-width="1"/>
<ellipse cx="19.3" cy="899.95" rx="13.11" ry="4.67" transform="rotate(-13 19.3 899.95)" fill="#ededed" fill-opacity="1.00" stroke="#b9b9b9" stroke-opacity="0.92" stroke-width="1.2"/>
<ellipse cx="19.3" cy="900.55" rx="10.13" ry="3.18" transform="rotate(-13 19.3 899.95)" fill="none" stroke="#fafafa" stroke-opacity="0.82" stroke-width="1"/>
<ellipse cx="46.8" cy="893.2" rx="12.98" ry="4.62" transform="rotate(-13 46.8 893.2)" fill="#ededed" fill-opacity="1.00" stroke="#b9b9b9" stroke-opacity="0.87" stroke-width="1.2"/>
<ellipse cx="46.8" cy="893.8" rx="10.03" ry="3.15" transform="rotate(-13 46.8 893.2)" fill="none" stroke="#fafafa" stroke-opacity="0.78" stroke-width="1"/>
<ellipse cx="74.3" cy="886.45" rx="12.86" ry="4.58" transform="rotate(-13 74.3 886.45)" fill="#ededed" fill-opacity="1.00" stroke="#b9b9b9" stroke-opacity="0.82" stroke-width="1.2"/>
<ellipse cx="74.3" cy="887.05" rx="9.93" ry="3.12" transform="rotate(-13 74.3 886.45)" fill="none" stroke="#fafafa" stroke-opacity="0.74" stroke-width="1"/>
<ellipse cx="101.8" cy="879.7" rx="12.73" ry="4.53" transform="rotate(-13 101.8 879.7)" fill="#ededed" fill-opacity="0.97" stroke="#b9b9b9" stroke-opacity="0.77" stroke-width="1.2"/>
<ellipse cx="101.8" cy="880.3" rx="9.84" ry="3.09" transform="rotate(-13 101.8 879.7)" fill="none" stroke="#fafafa" stroke-opacity="0.69" stroke-width="1"/>
<ellipse cx="129.3" cy="872.95" rx="12.6" ry="4.49" transform="rotate(-13 129.3 872.95)" fill="#ededed" fill-opacity="0.92" stroke="#b9b9b9" stroke-opacity="0.72" stroke-width="1.2"/>
<ellipse cx="129.3" cy="873.55" rx="9.74" ry="3.06" transform="rotate(-13 129.3 872.95)" fill="none" stroke="#fafafa" stroke-opacity="0.65" stroke-width="1"/>
<ellipse cx="156.8" cy="866.2" rx="12.48" ry="4.44" transform="rotate(-13 156.8 866.2)" fill="#ededed" fill-opacity="0.87" stroke="#b9b9b9" stroke-opacity="0.67" stroke-width="1.2"/>
<ellipse cx="156.8" cy="866.8" rx="9.64" ry="3.02" transform="rotate(-13 156.8 866.2)" fill="none" stroke="#fafafa" stroke-opacity="0.60" stroke-width="1"/>
<ellipse cx="184.3" cy="859.45" rx="12.35" ry="4.4" transform="rotate(-13 184.3 859.45)" fill="#ededed" fill-opacity="0.82" stroke="#b9b9b9" stroke-opacity="0.62" stroke-width="1.2"/>
<ellipse cx="184.3" cy="860.05" rx="9.54" ry="2.99" transform="rotate(-13 184.3 859.45)" fill="none" stroke="#fafafa" stroke-opacity="0.56" stroke-width="1"/>
<ellipse cx="211.8" cy="852.7" rx="12.22" ry="4.35" transform="rotate(-13 211.8 852.7)" fill="#ededed" fill-opacity="0.77" stroke="#b9b9b9" stroke-opacity="0.57" stroke-width="1.2"/>
<ellipse cx="211.8" cy="853.3" rx="9.44" ry="2.96" transform="rotate(-13 211.8 852.7)" fill="none" stroke="#fafafa" stroke-opacity="0.51" stroke-width="1"/>
<ellipse cx="239.3" cy="845.95" rx="12.09" ry="4.31" transform="rotate(-13 239.3 845.95)" fill="#ededed" fill-opacity="0.72" stroke="#b9b9b9" stroke-opacity="0.52" stroke-width="1.2"/>
<ellipse cx="239.3" cy="846.55" rx="9.35" ry="2.93" transform="rotate(-13 239.3 845.95)" fill="none" stroke="#fafafa" stroke-opacity="0.47" stroke-width="1"/>
<ellipse cx="266.8" cy="839.2" rx="11.97" ry="4.26" transform="rotate(-13 266.8 839.2)" fill="#ededed" fill-opacity="0.67" stroke="#b9b9b9" stroke-opacity="0.47" stroke-width="1.2"/>
<ellipse cx="266.8" cy="839.8" rx="9.25" ry="2.9" transform="rotate(-13 266.8 839.2)" fill="none" stroke="#fafafa" stroke-opacity="0.43" stroke-width="1"/>
<ellipse cx="294.3" cy="832.45" rx="11.84" ry="4.22" transform="rotate(-13 294.3 832.45)" fill="#ededed" fill-opacity="0.62" stroke="#b9b9b9" stroke-opacity="0.42" stroke-width="1.2"/>
<ellipse cx="294.3" cy="833.05" rx="9.15" ry="2.87" transform="rotate(-13 294.3 832.45)" fill="none" stroke="#fafafa" stroke-opacity="0.38" stroke-width="1"/>
<ellipse cx="321.8" cy="825.7" rx="11.71" ry="4.17" transform="rotate(-13 321.8 825.7)" fill="#ededed" fill-opacity="0.58" stroke="#b9b9b9" stroke-opacity="0.38" stroke-width="1.2"/>
<ellipse cx="321.8" cy="826.3" rx="9.05" ry="2.84" transform="rotate(-13 321.8 825.7)" fill="none" stroke="#fafafa" stroke-opacity="0.34" stroke-width="1"/>
<ellipse cx="349.3" cy="818.95" rx="11.59" ry="4.13" transform="rotate(-13 349.3 818.95)" fill="#ededed" fill-opacity="0.53" stroke="#b9b9b9" stroke-opacity="0.33" stroke-width="1.2"/>
<ellipse cx="349.3" cy="819.55" rx="8.95" ry="2.81" transform="rotate(-13 349.3 818.95)" fill="none" stroke="#fafafa" stroke-opacity="0.29" stroke-width="1"/>
<ellipse cx="376.8" cy="812.2" rx="11.46" ry="4.08" transform="rotate(-13 376.8 812.2)" fill="#ededed" fill-opacity="0.48" stroke="#b9b9b9" stroke-opacity="0.28" stroke-width="1.2"/>
<ellipse cx="376.8" cy="812.8" rx="8.85" ry="2.78" transform="rotate(-13 376.8 812.2)" fill="none" stroke="#fafafa" stroke-opacity="0.25" stroke-width="1"/>
<ellipse cx="404.3" cy="805.45" rx="11.33" ry="4.03" transform="rotate(-13 404.3 805.45)" fill="#ededed" fill-opacity="0.43" stroke="#b9b9b9" stroke-opacity="0.23" stroke-width="1.2"/>
<ellipse cx="404.3" cy="806.05" rx="8.76" ry="2.75" transform="rotate(-13 404.3 805.45)" fill="none" stroke="#fafafa" stroke-opacity="0.21" stroke-width="1"/>
<ellipse cx="431.8" cy="798.7" rx="11.21" ry="3.99" transform="rotate(-13 431.8 798.7)" fill="#ededed" fill-opacity="0.38" stroke="#b9b9b9" stroke-opacity="0.18" stroke-width="1.2"/>
<ellipse cx="431.8" cy="799.3" rx="8.66" ry="2.72" transform="rotate(-13 431.8 798.7)" fill="none" stroke="#fafafa" stroke-opacity="0.16" stroke-width="1"/>
<ellipse cx="459.3" cy="791.95" rx="11.08" ry="3.94" transform="rotate(-13 459.3 791.95)" fill="#ededed" fill-opacity="0.33" stroke="#b9b9b9" stroke-opacity="0.13" stroke-width="1.2"/>
<ellipse cx="459.3" cy="792.55" rx="8.56" ry="2.69" transform="rotate(-13 459.3 791.95)" fill="none" stroke="#fafafa" stroke-opacity="0.12" stroke-width="1"/>
<ellipse cx="486.8" cy="785.2" rx="10.95" ry="3.9" transform="rotate(-13 486.8 785.2)" fill="#ededed" fill-opacity="0.32" stroke="#b9b9b9" stroke-opacity="0.12" stroke-width="1.2"/>
<ellipse cx="486.8" cy="785.8" rx="8.46" ry="2.65" transform="rotate(-13 486.8 785.2)" fill="none" stroke="#fafafa" stroke-opacity="0.11" stroke-width="1"/>
<ellipse cx="514.3" cy="778.45" rx="10.82" ry="3.85" transform="rotate(-13 514.3 778.45)" fill="#ededed" fill-opacity="0.32" stroke="#b9b9b9" stroke-opacity="0.12" stroke-width="1.2"/>
<ellipse cx="514.3" cy="779.05" rx="8.36" ry="2.62" transform="rotate(-13 514.3 778.45)" fill="none" stroke="#fafafa" stroke-opacity="0.11" stroke-width="1"/>
<ellipse cx="541.8" cy="771.7" rx="10.7" ry="3.81" transform="rotate(-13 541.8 771.7)" fill="#ededed" fill-opacity="0.32" stroke="#b9b9b9" stroke-opacity="0.12" stroke-width="1.2"/>
<ellipse cx="541.8" cy="772.3" rx="8.27" ry="2.59" transform="rotate(-13 541.8 771.7)" fill="none" stroke="#fafafa" stroke-opacity="0.11" stroke-width="1"/>
<ellipse cx="569.3" cy="764.95" rx="10.57" ry="3.76" transform="rotate(-13 569.3 764.95)" fill="#ededed" fill-opacity="0.32" stroke="#b9b9b9" stroke-opacity="0.12" stroke-width="1.2"/>
<ellipse cx="569.3" cy="765.55" rx="8.17" ry="2.56" transform="rotate(-13 569.3 764.95)" fill="none" stroke="#fafafa" stroke-opacity="0.11" stroke-width="1"/>
<ellipse cx="-10.8" cy="898.8" rx="13.25" ry="4.72" transform="rotate(-13 -10.8 898.8)" fill="#ededed" fill-opacity="1.00" stroke="#b9b9b9" stroke-opacity="0.97" stroke-width="1.2"/>
<ellipse cx="-10.8" cy="899.4" rx="10.24" ry="3.21" transform="rotate(-13 -10.8 898.8)" fill="none" stroke="#fafafa" stroke-opacity="0.87" stroke-width="1"/>
<ellipse cx="16.7" cy="892.05" rx="13.12" ry="4.67" transform="rotate(-13 16.7 892.05)" fill="#ededed" fill-opacity="1.00" stroke="#b9b9b9" stroke-opacity="0.92" stroke-width="1.2"/>
<ellipse cx="16.7" cy="892.65" rx="10.14" ry="3.18" transform="rotate(-13 16.7 892.05)" fill="none" stroke="#fafafa" stroke-opacity="0.83" stroke-width="1"/>
<ellipse cx="44.2" cy="885.3" rx="13" ry="4.63" transform="rotate(-13 44.2 885.3)" fill="#ededed" fill-opacity="1.00" stroke="#b9b9b9" stroke-opacity="0.87" stroke-width="1.2"/>
<ellipse cx="44.2" cy="885.9" rx="10.04" ry="3.15" transform="rotate(-13 44.2 885.3)" fill="none" stroke="#fafafa" stroke-opacity="0.78" stroke-width="1"/>
<ellipse cx="71.7" cy="878.55" rx="12.87" ry="4.58" transform="rotate(-13 71.7 878.55)" fill="#ededed" fill-opacity="1.00" stroke="#b9b9b9" stroke-opacity="0.82" stroke-width="1.2"/>
<ellipse cx="71.7" cy="879.15" rx="9.94" ry="3.12" transform="rotate(-13 71.7 878.55)" fill="none" stroke="#fafafa" stroke-opacity="0.74" stroke-width="1"/>
<ellipse cx="99.2" cy="871.8" rx="12.74" ry="4.54" transform="rotate(-13 99.2 871.8)" fill="#ededed" fill-opacity="0.97" stroke="#b9b9b9" stroke-opacity="0.77" stroke-width="1.2"/>
<ellipse cx="99.2" cy="872.4" rx="9.85" ry="3.09" transform="rotate(-13 99.2 871.8)" fill="none" stroke="#fafafa" stroke-opacity="0.70" stroke-width="1"/>
<ellipse cx="126.7" cy="865.05" rx="12.61" ry="4.49" transform="rotate(-13 126.7 865.05)" fill="#ededed" fill-opacity="0.92" stroke="#b9b9b9" stroke-opacity="0.72" stroke-width="1.2"/>
<ellipse cx="126.7" cy="865.65" rx="9.75" ry="3.06" transform="rotate(-13 126.7 865.05)" fill="none" stroke="#fafafa" stroke-opacity="0.65" stroke-width="1"/>
<ellipse cx="154.2" cy="858.3" rx="12.49" ry="4.45" transform="rotate(-13 154.2 858.3)" fill="#ededed" fill-opacity="0.87" stroke="#b9b9b9" stroke-opacity="0.67" stroke-width="1.2"/>
<ellipse cx="154.2" cy="858.9" rx="9.65" ry="3.03" transform="rotate(-13 154.2 858.3)" fill="none" stroke="#fafafa" stroke-opacity="0.61" stroke-width="1"/>
<ellipse cx="181.7" cy="851.55" rx="12.36" ry="4.4" transform="rotate(-13 181.7 851.55)" fill="#ededed" fill-opacity="0.83" stroke="#b9b9b9" stroke-opacity="0.63" stroke-width="1.2"/>
<ellipse cx="181.7" cy="852.15" rx="9.55" ry="3" transform="rotate(-13 181.7 851.55)" fill="none" stroke="#fafafa" stroke-opacity="0.56" stroke-width="1"/>
<ellipse cx="209.2" cy="844.8" rx="12.23" ry="4.36" transform="rotate(-13 209.2 844.8)" fill="#ededed" fill-opacity="0.78" stroke="#b9b9b9" stroke-opacity="0.58" stroke-width="1.2"/>
<ellipse cx="209.2" cy="845.4" rx="9.45" ry="2.97" transform="rotate(-13 209.2 844.8)" fill="none" stroke="#fafafa" stroke-opacity="0.52" stroke-width="1"/>
<ellipse cx="236.7" cy="838.05" rx="12.11" ry="4.31" transform="rotate(-13 236.7 838.05)" fill="#ededed" fill-opacity="0.73" stroke="#b9b9b9" stroke-opacity="0.53" stroke-width="1.2"/>
<ellipse cx="236.7" cy="838.65" rx="9.35" ry="2.93" transform="rotate(-13 236.7 838.05)" fill="none" stroke="#fafafa" stroke-opacity="0.47" stroke-width="1"/>
<ellipse cx="264.2" cy="831.3" rx="11.98" ry="4.27" transform="rotate(-13 264.2 831.3)" fill="#ededed" fill-opacity="0.68" stroke="#b9b9b9" stroke-opacity="0.48" stroke-width="1.2"/>
<ellipse cx="264.2" cy="831.9" rx="9.26" ry="2.9" transform="rotate(-13 264.2 831.3)" fill="none" stroke="#fafafa" stroke-opacity="0.43" stroke-width="1"/>
<ellipse cx="291.7" cy="824.55" rx="11.85" ry="4.22" transform="rotate(-13 291.7 824.55)" fill="#ededed" fill-opacity="0.63" stroke="#b9b9b9" stroke-opacity="0.43" stroke-width="1.2"/>
<ellipse cx="291.7" cy="825.15" rx="9.16" ry="2.87" transform="rotate(-13 291.7 824.55)" fill="none" stroke="#fafafa" stroke-opacity="0.39" stroke-width="1"/>
<ellipse cx="319.2" cy="817.8" rx="11.73" ry="4.17" transform="rotate(-13 319.2 817.8)" fill="#ededed" fill-opacity="0.58" stroke="#b9b9b9" stroke-opacity="0.38" stroke-width="1.2"/>
<ellipse cx="319.2" cy="818.4" rx="9.06" ry="2.84" transform="rotate(-13 319.2 817.8)" fill="none" stroke="#fafafa" stroke-opacity="0.34" stroke-width="1"/>
<ellipse cx="346.7" cy="811.05" rx="11.6" ry="4.13" transform="rotate(-13 346.7 811.05)" fill="#ededed" fill-opacity="0.53" stroke="#b9b9b9" stroke-opacity="0.33" stroke-width="1.2"/>
<ellipse cx="346.7" cy="811.65" rx="8.96" ry="2.81" transform="rotate(-13 346.7 811.05)" fill="none" stroke="#fafafa" stroke-opacity="0.30" stroke-width="1"/>
<ellipse cx="374.2" cy="804.3" rx="11.47" ry="4.08" transform="rotate(-13 374.2 804.3)" fill="#ededed" fill-opacity="0.48" stroke="#b9b9b9" stroke-opacity="0.28" stroke-width="1.2"/>
<ellipse cx="374.2" cy="804.9" rx="8.86" ry="2.78" transform="rotate(-13 374.2 804.3)" fill="none" stroke="#fafafa" stroke-opacity="0.25" stroke-width="1"/>
<ellipse cx="401.7" cy="797.55" rx="11.34" ry="4.04" transform="rotate(-13 401.7 797.55)" fill="#ededed" fill-opacity="0.43" stroke="#b9b9b9" stroke-opacity="0.23" stroke-width="1.2"/>
<ellipse cx="401.7" cy="798.15" rx="8.77" ry="2.75" transform="rotate(-13 401.7 797.55)" fill="none" stroke="#fafafa" stroke-opacity="0.21" stroke-width="1"/>
<ellipse cx="429.2" cy="790.8" rx="11.22" ry="3.99" transform="rotate(-13 429.2 790.8)" fill="#ededed" fill-opacity="0.38" stroke="#b9b9b9" stroke-opacity="0.18" stroke-width="1.2"/>
<ellipse cx="429.2" cy="791.4" rx="8.67" ry="2.72" transform="rotate(-13 429.2 790.8)" fill="none" stroke="#fafafa" stroke-opacity="0.17" stroke-width="1"/>
<ellipse cx="456.7" cy="784.05" rx="11.09" ry="3.95" transform="rotate(-13 456.7 784.05)" fill="#ededed" fill-opacity="0.33" stroke="#b9b9b9" stroke-opacity="0.13" stroke-width="1.2"/>
<ellipse cx="456.7" cy="784.65" rx="8.57" ry="2.69" transform="rotate(-13 456.7 784.05)" fill="none" stroke="#fafafa" stroke-opacity="0.12" stroke-width="1"/>
<ellipse cx="484.2" cy="777.3" rx="10.96" ry="3.9" transform="rotate(-13 484.2 777.3)" fill="#ededed" fill-opacity="0.32" stroke="#b9b9b9" stroke-opacity="0.12" stroke-width="1.2"/>
<ellipse cx="484.2" cy="777.9" rx="8.47" ry="2.66" transform="rotate(-13 484.2 777.3)" fill="none" stroke="#fafafa" stroke-opacity="0.11" stroke-width="1"/>
<ellipse cx="511.7" cy="770.55" rx="10.84" ry="3.86" transform="rotate(-13 511.7 770.55)" fill="#ededed" fill-opacity="0.32" stroke="#b9b9b9" stroke-opacity="0.12" stroke-width="1.2"/>
<ellipse cx="511.7" cy="771.15" rx="8.37" ry="2.63" transform="rotate(-13 511.7 770.55)" fill="none" stroke="#fafafa" stroke-opacity="0.11" stroke-width="1"/>
<ellipse cx="539.2" cy="763.8" rx="10.71" ry="3.81" transform="rotate(-13 539.2 763.8)" fill="#ededed" fill-opacity="0.32" stroke="#b9b9b9" stroke-opacity="0.12" stroke-width="1.2"/>
<ellipse cx="539.2" cy="764.4" rx="8.28" ry="2.6" transform="rotate(-13 539.2 763.8)" fill="none" stroke="#fafafa" stroke-opacity="0.11" stroke-width="1"/>
<ellipse cx="-13.4" cy="890.9" rx="13.26" ry="4.72" transform="rotate(-13 -13.4 890.9)" fill="#ededed" fill-opacity="1.00" stroke="#b9b9b9" stroke-opacity="0.97" stroke-width="1.2"/>
<ellipse cx="-13.4" cy="891.5" rx="10.25" ry="3.22" transform="rotate(-13 -13.4 890.9)" fill="none" stroke="#fafafa" stroke-opacity="0.88" stroke-width="1"/>
<ellipse cx="14.1" cy="884.15" rx="13.13" ry="4.68" transform="rotate(-13 14.1 884.15)" fill="#ededed" fill-opacity="1.00" stroke="#b9b9b9" stroke-opacity="0.92" stroke-width="1.2"/>
<ellipse cx="14.1" cy="884.75" rx="10.15" ry="3.18" transform="rotate(-13 14.1 884.15)" fill="none" stroke="#fafafa" stroke-opacity="0.83" stroke-width="1"/>
<ellipse cx="41.6" cy="877.4" rx="13.01" ry="4.63" transform="rotate(-13 41.6 877.4)" fill="#ededed" fill-opacity="1.00" stroke="#b9b9b9" stroke-opacity="0.88" stroke-width="1.2"/>
<ellipse cx="41.6" cy="878" rx="10.05" ry="3.15" transform="rotate(-13 41.6 877.4)" fill="none" stroke="#fafafa" stroke-opacity="0.79" stroke-width="1"/>
<ellipse cx="69.1" cy="870.65" rx="12.88" ry="4.59" transform="rotate(-13 69.1 870.65)" fill="#ededed" fill-opacity="1.00" stroke="#b9b9b9" stroke-opacity="0.83" stroke-width="1.2"/>
<ellipse cx="69.1" cy="871.25" rx="9.95" ry="3.12" transform="rotate(-13 69.1 870.65)" fill="none" stroke="#fafafa" stroke-opacity="0.74" stroke-width="1"/>
<ellipse cx="96.6" cy="863.9" rx="12.75" ry="4.54" transform="rotate(-13 96.6 863.9)" fill="#ededed" fill-opacity="0.98" stroke="#b9b9b9" stroke-opacity="0.78" stroke-width="1.2"/>
<ellipse cx="96.6" cy="864.5" rx="9.86" ry="3.09" transform="rotate(-13 96.6 863.9)" fill="none" stroke="#fafafa" stroke-opacity="0.70" stroke-width="1"/>
<ellipse cx="124.1" cy="857.15" rx="12.63" ry="4.5" transform="rotate(-13 124.1 857.15)" fill="#ededed" fill-opacity="0.93" stroke="#b9b9b9" stroke-opacity="0.73" stroke-width="1.2"/>
<ellipse cx="124.1" cy="857.75" rx="9.76" ry="3.06" transform="rotate(-13 124.1 857.15)" fill="none" stroke="#fafafa" stroke-opacity="0.66" stroke-width="1"/>
<ellipse cx="151.6" cy="850.4" rx="12.5" ry="4.45" transform="rotate(-13 151.6 850.4)" fill="#ededed" fill-opacity="0.88" stroke="#b9b9b9" stroke-opacity="0.68" stroke-width="1.2"/>
<ellipse cx="151.6" cy="851" rx="9.66" ry="3.03" transform="rotate(-13 151.6 850.4)" fill="none" stroke="#fafafa" stroke-opacity="0.61" stroke-width="1"/>
<ellipse cx="179.1" cy="843.65" rx="12.37" ry="4.41" transform="rotate(-13 179.1 843.65)" fill="#ededed" fill-opacity="0.83" stroke="#b9b9b9" stroke-opacity="0.63" stroke-width="1.2"/>
<ellipse cx="179.1" cy="844.25" rx="9.56" ry="3" transform="rotate(-13 179.1 843.65)" fill="none" stroke="#fafafa" stroke-opacity="0.57" stroke-width="1"/>
<ellipse cx="206.6" cy="836.9" rx="12.25" ry="4.36" transform="rotate(-13 206.6 836.9)" fill="#ededed" fill-opacity="0.78" stroke="#b9b9b9" stroke-opacity="0.58" stroke-width="1.2"/>
<ellipse cx="206.6" cy="837.5" rx="9.46" ry="2.97" transform="rotate(-13 206.6 836.9)" fill="none" stroke="#fafafa" stroke-opacity="0.52" stroke-width="1"/>
<ellipse cx="234.1" cy="830.15" rx="12.12" ry="4.31" transform="rotate(-13 234.1 830.15)" fill="#ededed" fill-opacity="0.73" stroke="#b9b9b9" stroke-opacity="0.53" stroke-width="1.2"/>
<ellipse cx="234.1" cy="830.75" rx="9.36" ry="2.94" transform="rotate(-13 234.1 830.15)" fill="none" stroke="#fafafa" stroke-opacity="0.48" stroke-width="1"/>
<ellipse cx="261.6" cy="823.4" rx="11.99" ry="4.27" transform="rotate(-13 261.6 823.4)" fill="#ededed" fill-opacity="0.68" stroke="#b9b9b9" stroke-opacity="0.48" stroke-width="1.2"/>
<ellipse cx="261.6" cy="824" rx="9.27" ry="2.91" transform="rotate(-13 261.6 823.4)" fill="none" stroke="#fafafa" stroke-opacity="0.43" stroke-width="1"/>
<ellipse cx="289.1" cy="816.65" rx="11.86" ry="4.22" transform="rotate(-13 289.1 816.65)" fill="#ededed" fill-opacity="0.63" stroke="#b9b9b9" stroke-opacity="0.43" stroke-width="1.2"/>
<ellipse cx="289.1" cy="817.25" rx="9.17" ry="2.88" transform="rotate(-13 289.1 816.65)" fill="none" stroke="#fafafa" stroke-opacity="0.39" stroke-width="1"/>
<ellipse cx="316.6" cy="809.9" rx="11.74" ry="4.18" transform="rotate(-13 316.6 809.9)" fill="#ededed" fill-opacity="0.58" stroke="#b9b9b9" stroke-opacity="0.38" stroke-width="1.2"/>
<ellipse cx="316.6" cy="810.5" rx="9.07" ry="2.85" transform="rotate(-13 316.6 809.9)" fill="none" stroke="#fafafa" stroke-opacity="0.35" stroke-width="1"/>
<ellipse cx="344.1" cy="803.15" rx="11.61" ry="4.13" transform="rotate(-13 344.1 803.15)" fill="#ededed" fill-opacity="0.54" stroke="#b9b9b9" stroke-opacity="0.34" stroke-width="1.2"/>
<ellipse cx="344.1" cy="803.75" rx="8.97" ry="2.81" transform="rotate(-13 344.1 803.15)" fill="none" stroke="#fafafa" stroke-opacity="0.30" stroke-width="1"/>
<ellipse cx="371.6" cy="796.4" rx="11.48" ry="4.09" transform="rotate(-13 371.6 796.4)" fill="#ededed" fill-opacity="0.49" stroke="#b9b9b9" stroke-opacity="0.29" stroke-width="1.2"/>
<ellipse cx="371.6" cy="797" rx="8.87" ry="2.78" transform="rotate(-13 371.6 796.4)" fill="none" stroke="#fafafa" stroke-opacity="0.26" stroke-width="1"/>
<ellipse cx="399.1" cy="789.65" rx="11.36" ry="4.04" transform="rotate(-13 399.1 789.65)" fill="#ededed" fill-opacity="0.44" stroke="#b9b9b9" stroke-opacity="0.24" stroke-width="1.2"/>
<ellipse cx="399.1" cy="790.25" rx="8.78" ry="2.75" transform="rotate(-13 399.1 789.65)" fill="none" stroke="#fafafa" stroke-opacity="0.21" stroke-width="1"/>
<ellipse cx="426.6" cy="782.9" rx="11.23" ry="4" transform="rotate(-13 426.6 782.9)" fill="#ededed" fill-opacity="0.39" stroke="#b9b9b9" stroke-opacity="0.19" stroke-width="1.2"/>
<ellipse cx="426.6" cy="783.5" rx="8.68" ry="2.72" transform="rotate(-13 426.6 782.9)" fill="none" stroke="#fafafa" stroke-opacity="0.17" stroke-width="1"/>
<ellipse cx="454.1" cy="776.15" rx="11.1" ry="3.95" transform="rotate(-13 454.1 776.15)" fill="#ededed" fill-opacity="0.34" stroke="#b9b9b9" stroke-opacity="0.14" stroke-width="1.2"/>
<ellipse cx="454.1" cy="776.75" rx="8.58" ry="2.69" transform="rotate(-13 454.1 776.15)" fill="none" stroke="#fafafa" stroke-opacity="0.13" stroke-width="1"/>
<ellipse cx="481.6" cy="769.4" rx="10.98" ry="3.91" transform="rotate(-13 481.6 769.4)" fill="#ededed" fill-opacity="0.32" stroke="#b9b9b9" stroke-opacity="0.12" stroke-width="1.2"/>
<ellipse cx="481.6" cy="770" rx="8.48" ry="2.66" transform="rotate(-13 481.6 769.4)" fill="none" stroke="#fafafa" stroke-opacity="0.11" stroke-width="1"/>
<ellipse cx="509.1" cy="762.65" rx="10.85" ry="3.86" transform="rotate(-13 509.1 762.65)" fill="#ededed" fill-opacity="0.32" stroke="#b9b9b9" stroke-opacity="0.12" stroke-width="1.2"/>
<ellipse cx="509.1" cy="763.25" rx="8.38" ry="2.63" transform="rotate(-13 509.1 762.65)" fill="none" stroke="#fafafa" stroke-opacity="0.11" stroke-width="1"/>
<ellipse cx="-16" cy="883" rx="13.27" ry="4.73" transform="rotate(-13 -16 883)" fill="#ededed" fill-opacity="1.00" stroke="#b9b9b9" stroke-opacity="0.98" stroke-width="1.2"/>
<ellipse cx="-16" cy="883.6" rx="10.26" ry="3.22" transform="rotate(-13 -16 883)" fill="none" stroke="#fafafa" stroke-opacity="0.88" stroke-width="1"/>
<ellipse cx="11.5" cy="876.25" rx="13.15" ry="4.68" transform="rotate(-13 11.5 876.25)" fill="#ededed" fill-opacity="1.00" stroke="#b9b9b9" stroke-opacity="0.93" stroke-width="1.2"/>
<ellipse cx="11.5" cy="876.85" rx="10.16" ry="3.19" transform="rotate(-13 11.5 876.25)" fill="none" stroke="#fafafa" stroke-opacity="0.84" stroke-width="1"/>
<ellipse cx="39" cy="869.5" rx="13.02" ry="4.64" transform="rotate(-13 39 869.5)" fill="#ededed" fill-opacity="1.00" stroke="#b9b9b9" stroke-opacity="0.88" stroke-width="1.2"/>
<ellipse cx="39" cy="870.1" rx="10.06" ry="3.16" transform="rotate(-13 39 869.5)" fill="none" stroke="#fafafa" stroke-opacity="0.79" stroke-width="1"/>
<ellipse cx="66.5" cy="862.75" rx="12.89" ry="4.59" transform="rotate(-13 66.5 862.75)" fill="#ededed" fill-opacity="1.00" stroke="#b9b9b9" stroke-opacity="0.83" stroke-width="1.2"/>
<ellipse cx="66.5" cy="863.35" rx="9.96" ry="3.13" transform="rotate(-13 66.5 862.75)" fill="none" stroke="#fafafa" stroke-opacity="0.75" stroke-width="1"/>
<ellipse cx="94" cy="856" rx="12.77" ry="4.55" transform="rotate(-13 94 856)" fill="#ededed" fill-opacity="0.98" stroke="#b9b9b9" stroke-opacity="0.78" stroke-width="1.2"/>
<ellipse cx="94" cy="856.6" rx="9.86" ry="3.09" transform="rotate(-13 94 856)" fill="none" stroke="#fafafa" stroke-opacity="0.70" stroke-width="1"/>
<ellipse cx="121.5" cy="849.25" rx="12.64" ry="4.5" transform="rotate(-13 121.5 849.25)" fill="#ededed" fill-opacity="0.93" stroke="#b9b9b9" stroke-opacity="0.73" stroke-width="1.2"/>
<ellipse cx="121.5" cy="849.85" rx="9.77" ry="3.06" transform="rotate(-13 121.5 849.25)" fill="none" stroke="#fafafa" stroke-opacity="0.66" stroke-width="1"/>
<ellipse cx="149" cy="842.5" rx="12.51" ry="4.45" transform="rotate(-13 149 842.5)" fill="#ededed" fill-opacity="0.88" stroke="#b9b9b9" stroke-opacity="0.68" stroke-width="1.2"/>
<ellipse cx="149" cy="843.1" rx="9.67" ry="3.03" transform="rotate(-13 149 842.5)" fill="none" stroke="#fafafa" stroke-opacity="0.62" stroke-width="1"/>
<ellipse cx="176.5" cy="835.75" rx="12.38" ry="4.41" transform="rotate(-13 176.5 835.75)" fill="#ededed" fill-opacity="0.83" stroke="#b9b9b9" stroke-opacity="0.63" stroke-width="1.2"/>
<ellipse cx="176.5" cy="836.35" rx="9.57" ry="3" transform="rotate(-13 176.5 835.75)" fill="none" stroke="#fafafa" stroke-opacity="0.57" stroke-width="1"/>
<ellipse cx="204" cy="829" rx="12.26" ry="4.36" transform="rotate(-13 204 829)" fill="#ededed" fill-opacity="0.79" stroke="#b9b9b9" stroke-opacity="0.59" stroke-width="1.2"/>
<ellipse cx="204" cy="829.6" rx="9.47" ry="2.97" transform="rotate(-13 204 829)" fill="none" stroke="#fafafa" stroke-opacity="0.53" stroke-width="1"/>
<ellipse cx="231.5" cy="822.25" rx="12.13" ry="4.32" transform="rotate(-13 231.5 822.25)" fill="#ededed" fill-opacity="0.74" stroke="#b9b9b9" stroke-opacity="0.54" stroke-width="1.2"/>
<ellipse cx="231.5" cy="822.85" rx="9.37" ry="2.94" transform="rotate(-13 231.5 822.25)" fill="none" stroke="#fafafa" stroke-opacity="0.48" stroke-width="1"/>
<ellipse cx="259" cy="815.5" rx="12" ry="4.27" transform="rotate(-13 259 815.5)" fill="#ededed" fill-opacity="0.69" stroke="#b9b9b9" stroke-opacity="0.49" stroke-width="1.2"/>
<ellipse cx="259" cy="816.1" rx="9.28" ry="2.91" transform="rotate(-13 259 815.5)" fill="none" stroke="#fafafa" stroke-opacity="0.44" stroke-width="1"/>
<ellipse cx="286.5" cy="808.75" rx="11.88" ry="4.23" transform="rotate(-13 286.5 808.75)" fill="#ededed" fill-opacity="0.64" stroke="#b9b9b9" stroke-opacity="0.44" stroke-width="1.2"/>
<ellipse cx="286.5" cy="809.35" rx="9.18" ry="2.88" transform="rotate(-13 286.5 808.75)" fill="none" stroke="#fafafa" stroke-opacity="0.39" stroke-width="1"/>
<ellipse cx="314" cy="802" rx="11.75" ry="4.18" transform="rotate(-13 314 802)" fill="#ededed" fill-opacity="0.59" stroke="#b9b9b9" stroke-opacity="0.39" stroke-width="1.2"/>
<ellipse cx="314" cy="802.6" rx="9.08" ry="2.85" transform="rotate(-13 314 802)" fill="none" stroke="#fafafa" stroke-opacity="0.35" stroke-width="1"/>
<ellipse cx="341.5" cy="795.25" rx="11.62" ry="4.14" transform="rotate(-13 341.5 795.25)" fill="#ededed" fill-opacity="0.54" stroke="#b9b9b9" stroke-opacity="0.34" stroke-width="1.2"/>
<ellipse cx="341.5" cy="795.85" rx="8.98" ry="2.82" transform="rotate(-13 341.5 795.25)" fill="none" stroke="#fafafa" stroke-opacity="0.31" stroke-width="1"/>
<ellipse cx="369" cy="788.5" rx="11.5" ry="4.09" transform="rotate(-13 369 788.5)" fill="#ededed" fill-opacity="0.49" stroke="#b9b9b9" stroke-opacity="0.29" stroke-width="1.2"/>
<ellipse cx="369" cy="789.1" rx="8.88" ry="2.79" transform="rotate(-13 369 788.5)" fill="none" stroke="#fafafa" stroke-opacity="0.26" stroke-width="1"/>
<ellipse cx="396.5" cy="781.75" rx="11.37" ry="4.05" transform="rotate(-13 396.5 781.75)" fill="#ededed" fill-opacity="0.44" stroke="#b9b9b9" stroke-opacity="0.24" stroke-width="1.2"/>
<ellipse cx="396.5" cy="782.35" rx="8.78" ry="2.76" transform="rotate(-13 396.5 781.75)" fill="none" stroke="#fafafa" stroke-opacity="0.22" stroke-width="1"/>
<ellipse cx="424" cy="775" rx="11.24" ry="4" transform="rotate(-13 424 775)" fill="#ededed" fill-opacity="0.39" stroke="#b9b9b9" stroke-opacity="0.19" stroke-width="1.2"/>
<ellipse cx="424" cy="775.6" rx="8.69" ry="2.73" transform="rotate(-13 424 775)" fill="none" stroke="#fafafa" stroke-opacity="0.17" stroke-width="1"/>
<ellipse cx="451.5" cy="768.25" rx="11.11" ry="3.96" transform="rotate(-13 451.5 768.25)" fill="#ededed" fill-opacity="0.34" stroke="#b9b9b9" stroke-opacity="0.14" stroke-width="1.2"/>
<ellipse cx="451.5" cy="768.85" rx="8.59" ry="2.69" transform="rotate(-13 451.5 768.25)" fill="none" stroke="#fafafa" stroke-opacity="0.13" stroke-width="1"/>
<ellipse cx="479" cy="761.5" rx="10.99" ry="3.91" transform="rotate(-13 479 761.5)" fill="#ededed" fill-opacity="0.32" stroke="#b9b9b9" stroke-opacity="0.12" stroke-width="1.2"/>
<ellipse cx="479" cy="762.1" rx="8.49" ry="2.66" transform="rotate(-13 479 761.5)" fill="none" stroke="#fafafa" stroke-opacity="0.11" stroke-width="1"/>
<ellipse cx="-18.6" cy="875.1" rx="13.29" ry="4.73" transform="rotate(-13 -18.6 875.1)" fill="#ededed" fill-opacity="1.00" stroke="#b9b9b9" stroke-opacity="0.98" stroke-width="1.2"/>
<ellipse cx="-18.6" cy="875.7" rx="10.27" ry="3.22" transform="rotate(-13 -18.6 875.1)" fill="none" stroke="#fafafa" stroke-opacity="0.88" stroke-width="1"/>
<ellipse cx="8.9" cy="868.35" rx="13.16" ry="4.69" transform="rotate(-13 8.9 868.35)" fill="#ededed" fill-opacity="1.00" stroke="#b9b9b9" stroke-opacity="0.93" stroke-width="1.2"/>
<ellipse cx="8.9" cy="868.95" rx="10.17" ry="3.19" transform="rotate(-13 8.9 868.35)" fill="none" stroke="#fafafa" stroke-opacity="0.84" stroke-width="1"/>
<ellipse cx="36.4" cy="861.6" rx="13.03" ry="4.64" transform="rotate(-13 36.4 861.6)" fill="#ededed" fill-opacity="1.00" stroke="#b9b9b9" stroke-opacity="0.89" stroke-width="1.2"/>
<ellipse cx="36.4" cy="862.2" rx="10.07" ry="3.16" transform="rotate(-13 36.4 861.6)" fill="none" stroke="#fafafa" stroke-opacity="0.80" stroke-width="1"/>
<ellipse cx="63.9" cy="854.85" rx="12.9" ry="4.59" transform="rotate(-13 63.9 854.85)" fill="#ededed" fill-opacity="1.00" stroke="#b9b9b9" stroke-opacity="0.84" stroke-width="1.2"/>
<ellipse cx="63.9" cy="855.45" rx="9.97" ry="3.13" transform="rotate(-13 63.9 854.85)" fill="none" stroke="#fafafa" stroke-opacity="0.75" stroke-width="1"/>
<ellipse cx="91.4" cy="848.1" rx="12.78" ry="4.55" transform="rotate(-13 91.4 848.1)" fill="#ededed" fill-opacity="0.99" stroke="#b9b9b9" stroke-opacity="0.79" stroke-width="1.2"/>
<ellipse cx="91.4" cy="848.7" rx="9.87" ry="3.1" transform="rotate(-13 91.4 848.1)" fill="none" stroke="#fafafa" stroke-opacity="0.71" stroke-width="1"/>
<ellipse cx="118.9" cy="841.35" rx="12.65" ry="4.5" transform="rotate(-13 118.9 841.35)" fill="#ededed" fill-opacity="0.94" stroke="#b9b9b9" stroke-opacity="0.74" stroke-width="1.2"/>
<ellipse cx="118.9" cy="841.95" rx="9.78" ry="3.07" transform="rotate(-13 118.9 841.35)" fill="none" stroke="#fafafa" stroke-opacity="0.66" stroke-width="1"/>
<ellipse cx="146.4" cy="834.6" rx="12.52" ry="4.46" transform="rotate(-13 146.4 834.6)" fill="#ededed" fill-opacity="0.89" stroke="#b9b9b9" stroke-opacity="0.69" stroke-width="1.2"/>
<ellipse cx="146.4" cy="835.2" rx="9.68" ry="3.04" transform="rotate(-13 146.4 834.6)" fill="none" stroke="#fafafa" stroke-opacity="0.62" stroke-width="1"/>
<ellipse cx="173.9" cy="827.85" rx="12.4" ry="4.41" transform="rotate(-13 173.9 827.85)" fill="#ededed" fill-opacity="0.84" stroke="#b9b9b9" stroke-opacity="0.64" stroke-width="1.2"/>
<ellipse cx="173.9" cy="828.45" rx="9.58" ry="3.01" transform="rotate(-13 173.9 827.85)" fill="none" stroke="#fafafa" stroke-opacity="0.58" stroke-width="1"/>
<ellipse cx="201.4" cy="821.1" rx="12.27" ry="4.37" transform="rotate(-13 201.4 821.1)" fill="#ededed" fill-opacity="0.79" stroke="#b9b9b9" stroke-opacity="0.59" stroke-width="1.2"/>
<ellipse cx="201.4" cy="821.7" rx="9.48" ry="2.97" transform="rotate(-13 201.4 821.1)" fill="none" stroke="#fafafa" stroke-opacity="0.53" stroke-width="1"/>
<ellipse cx="228.9" cy="814.35" rx="12.14" ry="4.32" transform="rotate(-13 228.9 814.35)" fill="#ededed" fill-opacity="0.74" stroke="#b9b9b9" stroke-opacity="0.54" stroke-width="1.2"/>
<ellipse cx="228.9" cy="814.95" rx="9.38" ry="2.94" transform="rotate(-13 228.9 814.35)" fill="none" stroke="#fafafa" stroke-opacity="0.49" stroke-width="1"/>
<ellipse cx="256.4" cy="807.6" rx="12.02" ry="4.28" transform="rotate(-13 256.4 807.6)" fill="#ededed" fill-opacity="0.69" stroke="#b9b9b9" stroke-opacity="0.49" stroke-width="1.2"/>
<ellipse cx="256.4" cy="808.2" rx="9.28" ry="2.91" transform="rotate(-13 256.4 807.6)" fill="none" stroke="#fafafa" stroke-opacity="0.44" stroke-width="1"/>
<ellipse cx="283.9" cy="800.85" rx="11.89" ry="4.23" transform="rotate(-13 283.9 800.85)" fill="#ededed" fill-opacity="0.64" stroke="#b9b9b9" stroke-opacity="0.44" stroke-width="1.2"/>
<ellipse cx="283.9" cy="801.45" rx="9.19" ry="2.88" transform="rotate(-13 283.9 800.85)" fill="none" stroke="#fafafa" stroke-opacity="0.40" stroke-width="1"/>
<ellipse cx="311.4" cy="794.1" rx="11.76" ry="4.19" transform="rotate(-13 311.4 794.1)" fill="#ededed" fill-opacity="0.59" stroke="#b9b9b9" stroke-opacity="0.39" stroke-width="1.2"/>
<ellipse cx="311.4" cy="794.7" rx="9.09" ry="2.85" transform="rotate(-13 311.4 794.1)" fill="none" stroke="#fafafa" stroke-opacity="0.35" stroke-width="1"/>
<ellipse cx="338.9" cy="787.35" rx="11.63" ry="4.14" transform="rotate(-13 338.9 787.35)" fill="#ededed" fill-opacity="0.54" stroke="#b9b9b9" stroke-opacity="0.34" stroke-width="1.2"/>
<ellipse cx="338.9" cy="787.95" rx="8.99" ry="2.82" transform="rotate(-13 338.9 787.35)" fill="none" stroke="#fafafa" stroke-opacity="0.31" stroke-width="1"/>
<ellipse cx="366.4" cy="780.6" rx="11.51" ry="4.1" transform="rotate(-13 366.4 780.6)" fill="#ededed" fill-opacity="0.50" stroke="#b9b9b9" stroke-opacity="0.30" stroke-width="1.2"/>
<ellipse cx="366.4" cy="781.2" rx="8.89" ry="2.79" transform="rotate(-13 366.4 780.6)" fill="none" stroke="#fafafa" stroke-opacity="0.27" stroke-width="1"/>
<ellipse cx="393.9" cy="773.85" rx="11.38" ry="4.05" transform="rotate(-13 393.9 773.85)" fill="#ededed" fill-opacity="0.45" stroke="#b9b9b9" stroke-opacity="0.25" stroke-width="1.2"/>
<ellipse cx="393.9" cy="774.45" rx="8.79" ry="2.76" transform="rotate(-13 393.9 773.85)" fill="none" stroke="#fafafa" stroke-opacity="0.22" stroke-width="1"/>
<ellipse cx="421.4" cy="767.1" rx="11.25" ry="4.01" transform="rotate(-13 421.4 767.1)" fill="#ededed" fill-opacity="0.40" stroke="#b9b9b9" stroke-opacity="0.20" stroke-width="1.2"/>
<ellipse cx="421.4" cy="767.7" rx="8.7" ry="2.73" transform="rotate(-13 421.4 767.1)" fill="none" stroke="#fafafa" stroke-opacity="0.18" stroke-width="1"/>
<ellipse cx="448.9" cy="760.35" rx="11.13" ry="3.96" transform="rotate(-13 448.9 760.35)" fill="#ededed" fill-opacity="0.35" stroke="#b9b9b9" stroke-opacity="0.15" stroke-width="1.2"/>
<ellipse cx="448.9" cy="760.95" rx="8.6" ry="2.7" transform="rotate(-13 448.9 760.35)" fill="none" stroke="#fafafa" stroke-opacity="0.13" stroke-width="1"/>
<ellipse cx="6.3" cy="860.45" rx="13.17" ry="4.69" transform="rotate(-13 6.3 860.45)" fill="#ededed" fill-opacity="1.00" stroke="#b9b9b9" stroke-opacity="0.94" stroke-width="1.2"/>
<ellipse cx="6.3" cy="861.05" rx="10.18" ry="3.19" transform="rotate(-13 6.3 860.45)" fill="none" stroke="#fafafa" stroke-opacity="0.84" stroke-width="1"/>
<ellipse cx="33.8" cy="853.7" rx="13.04" ry="4.64" transform="rotate(-13 33.8 853.7)" fill="#ededed" fill-opacity="1.00" stroke="#b9b9b9" stroke-opacity="0.89" stroke-width="1.2"/>
<ellipse cx="33.8" cy="854.3" rx="10.08" ry="3.16" transform="rotate(-13 33.8 853.7)" fill="none" stroke="#fafafa" stroke-opacity="0.80" stroke-width="1"/>
<ellipse cx="61.3" cy="846.95" rx="12.92" ry="4.6" transform="rotate(-13 61.3 846.95)" fill="#ededed" fill-opacity="1.00" stroke="#b9b9b9" stroke-opacity="0.84" stroke-width="1.2"/>
<ellipse cx="61.3" cy="847.55" rx="9.98" ry="3.13" transform="rotate(-13 61.3 846.95)" fill="none" stroke="#fafafa" stroke-opacity="0.76" stroke-width="1"/>
<ellipse cx="88.8" cy="840.2" rx="12.79" ry="4.55" transform="rotate(-13 88.8 840.2)" fill="#ededed" fill-opacity="0.99" stroke="#b9b9b9" stroke-opacity="0.79" stroke-width="1.2"/>
<ellipse cx="88.8" cy="840.8" rx="9.88" ry="3.1" transform="rotate(-13 88.8 840.2)" fill="none" stroke="#fafafa" stroke-opacity="0.71" stroke-width="1"/>
<ellipse cx="116.3" cy="833.45" rx="12.66" ry="4.51" transform="rotate(-13 116.3 833.45)" fill="#ededed" fill-opacity="0.94" stroke="#b9b9b9" stroke-opacity="0.74" stroke-width="1.2"/>
<ellipse cx="116.3" cy="834.05" rx="9.78" ry="3.07" transform="rotate(-13 116.3 833.45)" fill="none" stroke="#fafafa" stroke-opacity="0.67" stroke-width="1"/>
<ellipse cx="143.8" cy="826.7" rx="12.54" ry="4.46" transform="rotate(-13 143.8 826.7)" fill="#ededed" fill-opacity="0.89" stroke="#b9b9b9" stroke-opacity="0.69" stroke-width="1.2"/>
<ellipse cx="143.8" cy="827.3" rx="9.69" ry="3.04" transform="rotate(-13 143.8 826.7)" fill="none" stroke="#fafafa" stroke-opacity="0.62" stroke-width="1"/>
<ellipse cx="171.3" cy="819.95" rx="12.41" ry="4.42" transform="rotate(-13 171.3 819.95)" fill="#ededed" fill-opacity="0.84" stroke="#b9b9b9" stroke-opacity="0.64" stroke-width="1.2"/>
<ellipse cx="171.3" cy="820.55" rx="9.59" ry="3.01" transform="rotate(-13 171.3 819.95)" fill="none" stroke="#fafafa" stroke-opacity="0.58" stroke-width="1"/>
<ellipse cx="198.8" cy="813.2" rx="12.28" ry="4.37" transform="rotate(-13 198.8 813.2)" fill="#ededed" fill-opacity="0.79" stroke="#b9b9b9" stroke-opacity="0.59" stroke-width="1.2"/>
<ellipse cx="198.8" cy="813.8" rx="9.49" ry="2.98" transform="rotate(-13 198.8 813.2)" fill="none" stroke="#fafafa" stroke-opacity="0.54" stroke-width="1"/>
<ellipse cx="226.3" cy="806.45" rx="12.15" ry="4.33" transform="rotate(-13 226.3 806.45)" fill="#ededed" fill-opacity="0.75" stroke="#b9b9b9" stroke-opacity="0.55" stroke-width="1.2"/>
<ellipse cx="226.3" cy="807.05" rx="9.39" ry="2.95" transform="rotate(-13 226.3 806.45)" fill="none" stroke="#fafafa" stroke-opacity="0.49" stroke-width="1"/>
<ellipse cx="253.8" cy="799.7" rx="12.03" ry="4.28" transform="rotate(-13 253.8 799.7)" fill="#ededed" fill-opacity="0.70" stroke="#b9b9b9" stroke-opacity="0.50" stroke-width="1.2"/>
<ellipse cx="253.8" cy="800.3" rx="9.29" ry="2.92" transform="rotate(-13 253.8 799.7)" fill="none" stroke="#fafafa" stroke-opacity="0.45" stroke-width="1"/>
<ellipse cx="281.3" cy="792.95" rx="11.9" ry="4.24" transform="rotate(-13 281.3 792.95)" fill="#ededed" fill-opacity="0.65" stroke="#b9b9b9" stroke-opacity="0.45" stroke-width="1.2"/>
<ellipse cx="281.3" cy="793.55" rx="9.2" ry="2.88" transform="rotate(-13 281.3 792.95)" fill="none" stroke="#fafafa" stroke-opacity="0.40" stroke-width="1"/>
<ellipse cx="308.8" cy="786.2" rx="11.77" ry="4.19" transform="rotate(-13 308.8 786.2)" fill="#ededed" fill-opacity="0.60" stroke="#b9b9b9" stroke-opacity="0.40" stroke-width="1.2"/>
<ellipse cx="308.8" cy="786.8" rx="9.1" ry="2.85" transform="rotate(-13 308.8 786.2)" fill="none" stroke="#fafafa" stroke-opacity="0.36" stroke-width="1"/>
<ellipse cx="336.3" cy="779.45" rx="11.65" ry="4.15" transform="rotate(-13 336.3 779.45)" fill="#ededed" fill-opacity="0.55" stroke="#b9b9b9" stroke-opacity="0.35" stroke-width="1.2"/>
<ellipse cx="336.3" cy="780.05" rx="9" ry="2.82" transform="rotate(-13 336.3 779.45)" fill="none" stroke="#fafafa" stroke-opacity="0.31" stroke-width="1"/>
<ellipse cx="363.8" cy="772.7" rx="11.52" ry="4.1" transform="rotate(-13 363.8 772.7)" fill="#ededed" fill-opacity="0.50" stroke="#b9b9b9" stroke-opacity="0.30" stroke-width="1.2"/>
<ellipse cx="363.8" cy="773.3" rx="8.9" ry="2.79" transform="rotate(-13 363.8 772.7)" fill="none" stroke="#fafafa" stroke-opacity="0.27" stroke-width="1"/>
<ellipse cx="391.3" cy="765.95" rx="11.39" ry="4.06" transform="rotate(-13 391.3 765.95)" fill="#ededed" fill-opacity="0.45" stroke="#b9b9b9" stroke-opacity="0.25" stroke-width="1.2"/>
<ellipse cx="391.3" cy="766.55" rx="8.8" ry="2.76" transform="rotate(-13 391.3 765.95)" fill="none" stroke="#fafafa" stroke-opacity="0.23" stroke-width="1"/>
<ellipse cx="3.7" cy="852.55" rx="13.18" ry="4.69" transform="rotate(-13 3.7 852.55)" fill="#ededed" fill-opacity="1.00" stroke="#b9b9b9" stroke-opacity="0.94" stroke-width="1.2"/>
<ellipse cx="3.7" cy="853.15" rx="10.19" ry="3.2" transform="rotate(-13 3.7 852.55)" fill="none" stroke="#fafafa" stroke-opacity="0.85" stroke-width="1"/>
<ellipse cx="31.2" cy="845.8" rx="13.06" ry="4.65" transform="rotate(-13 31.2 845.8)" fill="#ededed" fill-opacity="1.00" stroke="#b9b9b9" stroke-opacity="0.89" stroke-width="1.2"/>
<ellipse cx="31.2" cy="846.4" rx="10.09" ry="3.17" transform="rotate(-13 31.2 845.8)" fill="none" stroke="#fafafa" stroke-opacity="0.80" stroke-width="1"/>
<ellipse cx="58.7" cy="839.05" rx="12.93" ry="4.6" transform="rotate(-13 58.7 839.05)" fill="#ededed" fill-opacity="1.00" stroke="#b9b9b9" stroke-opacity="0.85" stroke-width="1.2"/>
<ellipse cx="58.7" cy="839.65" rx="9.99" ry="3.13" transform="rotate(-13 58.7 839.05)" fill="none" stroke="#fafafa" stroke-opacity="0.76" stroke-width="1"/>
<ellipse cx="86.2" cy="832.3" rx="12.8" ry="4.56" transform="rotate(-13 86.2 832.3)" fill="#ededed" fill-opacity="1.00" stroke="#b9b9b9" stroke-opacity="0.80" stroke-width="1.2"/>
<ellipse cx="86.2" cy="832.9" rx="9.89" ry="3.1" transform="rotate(-13 86.2 832.3)" fill="none" stroke="#fafafa" stroke-opacity="0.72" stroke-width="1"/>
<ellipse cx="113.7" cy="825.55" rx="12.67" ry="4.51" transform="rotate(-13 113.7 825.55)" fill="#ededed" fill-opacity="0.95" stroke="#b9b9b9" stroke-opacity="0.75" stroke-width="1.2"/>
<ellipse cx="113.7" cy="826.15" rx="9.79" ry="3.07" transform="rotate(-13 113.7 825.55)" fill="none" stroke="#fafafa" stroke-opacity="0.67" stroke-width="1"/>
<ellipse cx="141.2" cy="818.8" rx="12.55" ry="4.47" transform="rotate(-13 141.2 818.8)" fill="#ededed" fill-opacity="0.90" stroke="#b9b9b9" stroke-opacity="0.70" stroke-width="1.2"/>
<ellipse cx="141.2" cy="819.4" rx="9.7" ry="3.04" transform="rotate(-13 141.2 818.8)" fill="none" stroke="#fafafa" stroke-opacity="0.63" stroke-width="1"/>
<ellipse cx="168.7" cy="812.05" rx="12.42" ry="4.42" transform="rotate(-13 168.7 812.05)" fill="#ededed" fill-opacity="0.85" stroke="#b9b9b9" stroke-opacity="0.65" stroke-width="1.2"/>
<ellipse cx="168.7" cy="812.65" rx="9.6" ry="3.01" transform="rotate(-13 168.7 812.05)" fill="none" stroke="#fafafa" stroke-opacity="0.58" stroke-width="1"/>
<ellipse cx="196.2" cy="805.3" rx="12.29" ry="4.38" transform="rotate(-13 196.2 805.3)" fill="#ededed" fill-opacity="0.80" stroke="#b9b9b9" stroke-opacity="0.60" stroke-width="1.2"/>
<ellipse cx="196.2" cy="805.9" rx="9.5" ry="2.98" transform="rotate(-13 196.2 805.3)" fill="none" stroke="#fafafa" stroke-opacity="0.54" stroke-width="1"/>
<ellipse cx="223.7" cy="798.55" rx="12.17" ry="4.33" transform="rotate(-13 223.7 798.55)" fill="#ededed" fill-opacity="0.75" stroke="#b9b9b9" stroke-opacity="0.55" stroke-width="1.2"/>
<ellipse cx="223.7" cy="799.15" rx="9.4" ry="2.95" transform="rotate(-13 223.7 798.55)" fill="none" stroke="#fafafa" stroke-opacity="0.50" stroke-width="1"/>
<ellipse cx="251.2" cy="791.8" rx="12.04" ry="4.29" transform="rotate(-13 251.2 791.8)" fill="#ededed" fill-opacity="0.70" stroke="#b9b9b9" stroke-opacity="0.50" stroke-width="1.2"/>
<ellipse cx="251.2" cy="792.4" rx="9.3" ry="2.92" transform="rotate(-13 251.2 791.8)" fill="none" stroke="#fafafa" stroke-opacity="0.45" stroke-width="1"/>
<ellipse cx="278.7" cy="785.05" rx="11.91" ry="4.24" transform="rotate(-13 278.7 785.05)" fill="#ededed" fill-opacity="0.65" stroke="#b9b9b9" stroke-opacity="0.45" stroke-width="1.2"/>
<ellipse cx="278.7" cy="785.65" rx="9.21" ry="2.89" transform="rotate(-13 278.7 785.05)" fill="none" stroke="#fafafa" stroke-opacity="0.41" stroke-width="1"/>
<ellipse cx="306.2" cy="778.3" rx="11.79" ry="4.2" transform="rotate(-13 306.2 778.3)" fill="#ededed" fill-opacity="0.60" stroke="#b9b9b9" stroke-opacity="0.40" stroke-width="1.2"/>
<ellipse cx="306.2" cy="778.9" rx="9.11" ry="2.86" transform="rotate(-13 306.2 778.3)" fill="none" stroke="#fafafa" stroke-opacity="0.36" stroke-width="1"/>
<ellipse cx="333.7" cy="771.55" rx="11.66" ry="4.15" transform="rotate(-13 333.7 771.55)" fill="#ededed" fill-opacity="0.55" stroke="#b9b9b9" stroke-opacity="0.35" stroke-width="1.2"/>
<ellipse cx="333.7" cy="772.15" rx="9.01" ry="2.83" transform="rotate(-13 333.7 771.55)" fill="none" stroke="#fafafa" stroke-opacity="0.32" stroke-width="1"/>
<ellipse cx="361.2" cy="764.8" rx="11.53" ry="4.11" transform="rotate(-13 361.2 764.8)" fill="#ededed" fill-opacity="0.50" stroke="#b9b9b9" stroke-opacity="0.30" stroke-width="1.2"/>
<ellipse cx="361.2" cy="765.4" rx="8.91" ry="2.8" transform="rotate(-13 361.2 764.8)" fill="none" stroke="#fafafa" stroke-opacity="0.27" stroke-width="1"/>
<ellipse cx="1.1" cy="844.65" rx="13.19" ry="4.7" transform="rotate(-13 1.1 844.65)" fill="#ededed" fill-opacity="1.00" stroke="#b9b9b9" stroke-opacity="0.95" stroke-width="1.2"/>
<ellipse cx="1.1" cy="845.25" rx="10.2" ry="3.2" transform="rotate(-13 1.1 844.65)" fill="none" stroke="#fafafa" stroke-opacity="0.85" stroke-width="1"/>
<ellipse cx="28.6" cy="837.9" rx="13.07" ry="4.65" transform="rotate(-13 28.6 837.9)" fill="#ededed" fill-opacity="1.00" stroke="#b9b9b9" stroke-opacity="0.90" stroke-width="1.2"/>
<ellipse cx="28.6" cy="838.5" rx="10.1" ry="3.17" transform="rotate(-13 28.6 837.9)" fill="none" stroke="#fafafa" stroke-opacity="0.81" stroke-width="1"/>
<ellipse cx="56.1" cy="831.15" rx="12.94" ry="4.61" transform="rotate(-13 56.1 831.15)" fill="#ededed" fill-opacity="1.00" stroke="#b9b9b9" stroke-opacity="0.85" stroke-width="1.2"/>
<ellipse cx="56.1" cy="831.75" rx="10" ry="3.14" transform="rotate(-13 56.1 831.15)" fill="none" stroke="#fafafa" stroke-opacity="0.76" stroke-width="1"/>
<ellipse cx="83.6" cy="824.4" rx="12.81" ry="4.56" transform="rotate(-13 83.6 824.4)" fill="#ededed" fill-opacity="1.00" stroke="#b9b9b9" stroke-opacity="0.80" stroke-width="1.2"/>
<ellipse cx="83.6" cy="825" rx="9.9" ry="3.11" transform="rotate(-13 83.6 824.4)" fill="none" stroke="#fafafa" stroke-opacity="0.72" stroke-width="1"/>
<ellipse cx="111.1" cy="817.65" rx="12.69" ry="4.52" transform="rotate(-13 111.1 817.65)" fill="#ededed" fill-opacity="0.95" stroke="#b9b9b9" stroke-opacity="0.75" stroke-width="1.2"/>
<ellipse cx="111.1" cy="818.25" rx="9.8" ry="3.08" transform="rotate(-13 111.1 817.65)" fill="none" stroke="#fafafa" stroke-opacity="0.68" stroke-width="1"/>
<ellipse cx="138.6" cy="810.9" rx="12.56" ry="4.47" transform="rotate(-13 138.6 810.9)" fill="#ededed" fill-opacity="0.90" stroke="#b9b9b9" stroke-opacity="0.70" stroke-width="1.2"/>
<ellipse cx="138.6" cy="811.5" rx="9.71" ry="3.04" transform="rotate(-13 138.6 810.9)" fill="none" stroke="#fafafa" stroke-opacity="0.63" stroke-width="1"/>
<ellipse cx="166.1" cy="804.15" rx="12.43" ry="4.43" transform="rotate(-13 166.1 804.15)" fill="#ededed" fill-opacity="0.85" stroke="#b9b9b9" stroke-opacity="0.65" stroke-width="1.2"/>
<ellipse cx="166.1" cy="804.75" rx="9.61" ry="3.01" transform="rotate(-13 166.1 804.15)" fill="none" stroke="#fafafa" stroke-opacity="0.59" stroke-width="1"/>
<ellipse cx="193.6" cy="797.4" rx="12.31" ry="4.38" transform="rotate(-13 193.6 797.4)" fill="#ededed" fill-opacity="0.80" stroke="#b9b9b9" stroke-opacity="0.60" stroke-width="1.2"/>
<ellipse cx="193.6" cy="798" rx="9.51" ry="2.98" transform="rotate(-13 193.6 797.4)" fill="none" stroke="#fafafa" stroke-opacity="0.54" stroke-width="1"/>
<ellipse cx="221.1" cy="790.65" rx="12.18" ry="4.34" transform="rotate(-13 221.1 790.65)" fill="#ededed" fill-opacity="0.76" stroke="#b9b9b9" stroke-opacity="0.56" stroke-width="1.2"/>
<ellipse cx="221.1" cy="791.25" rx="9.41" ry="2.95" transform="rotate(-13 221.1 790.65)" fill="none" stroke="#fafafa" stroke-opacity="0.50" stroke-width="1"/>
<ellipse cx="248.6" cy="783.9" rx="12.05" ry="4.29" transform="rotate(-13 248.6 783.9)" fill="#ededed" fill-opacity="0.71" stroke="#b9b9b9" stroke-opacity="0.51" stroke-width="1.2"/>
<ellipse cx="248.6" cy="784.5" rx="9.31" ry="2.92" transform="rotate(-13 248.6 783.9)" fill="none" stroke="#fafafa" stroke-opacity="0.46" stroke-width="1"/>
<ellipse cx="276.1" cy="777.15" rx="11.92" ry="4.25" transform="rotate(-13 276.1 777.15)" fill="#ededed" fill-opacity="0.66" stroke="#b9b9b9" stroke-opacity="0.46" stroke-width="1.2"/>
<ellipse cx="276.1" cy="777.75" rx="9.21" ry="2.89" transform="rotate(-13 276.1 777.15)" fill="none" stroke="#fafafa" stroke-opacity="0.41" stroke-width="1"/>
<ellipse cx="303.6" cy="770.4" rx="11.8" ry="4.2" transform="rotate(-13 303.6 770.4)" fill="#ededed" fill-opacity="0.61" stroke="#b9b9b9" stroke-opacity="0.41" stroke-width="1.2"/>
<ellipse cx="303.6" cy="771" rx="9.12" ry="2.86" transform="rotate(-13 303.6 770.4)" fill="none" stroke="#fafafa" stroke-opacity="0.37" stroke-width="1"/>
<ellipse cx="331.1" cy="763.65" rx="11.67" ry="4.16" transform="rotate(-13 331.1 763.65)" fill="#ededed" fill-opacity="0.56" stroke="#b9b9b9" stroke-opacity="0.36" stroke-width="1.2"/>
<ellipse cx="331.1" cy="764.25" rx="9.02" ry="2.83" transform="rotate(-13 331.1 763.65)" fill="none" stroke="#fafafa" stroke-opacity="0.32" stroke-width="1"/>
<ellipse cx="-1.5" cy="836.75" rx="13.21" ry="4.7" transform="rotate(-13 -1.5 836.75)" fill="#ededed" fill-opacity="1.00" stroke="#b9b9b9" stroke-opacity="0.95" stroke-width="1.2"/>
<ellipse cx="-1.5" cy="837.35" rx="10.21" ry="3.2" transform="rotate(-13 -1.5 836.75)" fill="none" stroke="#fafafa" stroke-opacity="0.86" stroke-width="1"/>
<ellipse cx="26" cy="830" rx="13.08" ry="4.66" transform="rotate(-13 26 830)" fill="#ededed" fill-opacity="1.00" stroke="#b9b9b9" stroke-opacity="0.90" stroke-width="1.2"/>
<ellipse cx="26" cy="830.6" rx="10.11" ry="3.17" transform="rotate(-13 26 830)" fill="none" stroke="#fafafa" stroke-opacity="0.81" stroke-width="1"/>
<ellipse cx="53.5" cy="823.25" rx="12.95" ry="4.61" transform="rotate(-13 53.5 823.25)" fill="#ededed" fill-opacity="1.00" stroke="#b9b9b9" stroke-opacity="0.85" stroke-width="1.2"/>
<ellipse cx="53.5" cy="823.85" rx="10.01" ry="3.14" transform="rotate(-13 53.5 823.25)" fill="none" stroke="#fafafa" stroke-opacity="0.77" stroke-width="1"/>
<ellipse cx="81" cy="816.5" rx="12.83" ry="4.57" transform="rotate(-13 81 816.5)" fill="#ededed" fill-opacity="1.00" stroke="#b9b9b9" stroke-opacity="0.81" stroke-width="1.2"/>
<ellipse cx="81" cy="817.1" rx="9.91" ry="3.11" transform="rotate(-13 81 816.5)" fill="none" stroke="#fafafa" stroke-opacity="0.72" stroke-width="1"/>
<ellipse cx="108.5" cy="809.75" rx="12.7" ry="4.52" transform="rotate(-13 108.5 809.75)" fill="#ededed" fill-opacity="0.96" stroke="#b9b9b9" stroke-opacity="0.76" stroke-width="1.2"/>
<ellipse cx="108.5" cy="810.35" rx="9.81" ry="3.08" transform="rotate(-13 108.5 809.75)" fill="none" stroke="#fafafa" stroke-opacity="0.68" stroke-width="1"/>
<ellipse cx="136" cy="803" rx="12.57" ry="4.48" transform="rotate(-13 136 803)" fill="#ededed" fill-opacity="0.91" stroke="#b9b9b9" stroke-opacity="0.71" stroke-width="1.2"/>
<ellipse cx="136" cy="803.6" rx="9.71" ry="3.05" transform="rotate(-13 136 803)" fill="none" stroke="#fafafa" stroke-opacity="0.64" stroke-width="1"/>
<ellipse cx="163.5" cy="796.25" rx="12.44" ry="4.43" transform="rotate(-13 163.5 796.25)" fill="#ededed" fill-opacity="0.86" stroke="#b9b9b9" stroke-opacity="0.66" stroke-width="1.2"/>
<ellipse cx="163.5" cy="796.85" rx="9.62" ry="3.02" transform="rotate(-13 163.5 796.25)" fill="none" stroke="#fafafa" stroke-opacity="0.59" stroke-width="1"/>
<ellipse cx="191" cy="789.5" rx="12.32" ry="4.39" transform="rotate(-13 191 789.5)" fill="#ededed" fill-opacity="0.81" stroke="#b9b9b9" stroke-opacity="0.61" stroke-width="1.2"/>
<ellipse cx="191" cy="790.1" rx="9.52" ry="2.99" transform="rotate(-13 191 789.5)" fill="none" stroke="#fafafa" stroke-opacity="0.55" stroke-width="1"/>
<ellipse cx="218.5" cy="782.75" rx="12.19" ry="4.34" transform="rotate(-13 218.5 782.75)" fill="#ededed" fill-opacity="0.76" stroke="#b9b9b9" stroke-opacity="0.56" stroke-width="1.2"/>
<ellipse cx="218.5" cy="783.35" rx="9.42" ry="2.96" transform="rotate(-13 218.5 782.75)" fill="none" stroke="#fafafa" stroke-opacity="0.50" stroke-width="1"/>
<ellipse cx="246" cy="776" rx="12.06" ry="4.3" transform="rotate(-13 246 776)" fill="#ededed" fill-opacity="0.71" stroke="#b9b9b9" stroke-opacity="0.51" stroke-width="1.2"/>
<ellipse cx="246" cy="776.6" rx="9.32" ry="2.92" transform="rotate(-13 246 776)" fill="none" stroke="#fafafa" stroke-opacity="0.46" stroke-width="1"/>
<ellipse cx="273.5" cy="769.25" rx="11.94" ry="4.25" transform="rotate(-13 273.5 769.25)" fill="#ededed" fill-opacity="0.66" stroke="#b9b9b9" stroke-opacity="0.46" stroke-width="1.2"/>
<ellipse cx="273.5" cy="769.85" rx="9.22" ry="2.89" transform="rotate(-13 273.5 769.25)" fill="none" stroke="#fafafa" stroke-opacity="0.42" stroke-width="1"/>
<ellipse cx="301" cy="762.5" rx="11.81" ry="4.2" transform="rotate(-13 301 762.5)" fill="#ededed" fill-opacity="0.61" stroke="#b9b9b9" stroke-opacity="0.41" stroke-width="1.2"/>
<ellipse cx="301" cy="763.1" rx="9.13" ry="2.86" transform="rotate(-13 301 762.5)" fill="none" stroke="#fafafa" stroke-opacity="0.37" stroke-width="1"/>
</g>
<polygon points="160,944.5 197,950.7 734.7,815 734.7,812 727,806.7 594,773 557,782 679,813" fill="#e8e8e6" />
<polygon points="0,940 96,956 96,1062 0,1082" fill="#e9e9e9" />
<path d="M77,937 L77,1057 A11.5,4.5 0 0 0 100,1057 L100,937 Z" fill="url(#cyl)"/>
<path d="M80,947 L97,964.67 L80,982.33 L97,1000 L80,1017.67 L97,1035.33 L80,1053 " stroke="#9c9c9c" stroke-width="0.9" fill="none" opacity="0.8"/>
<path d="M97,947 L80,964.67 L97,982.33 L80,1000 L97,1017.67 L80,1035.33 L97,1053 " stroke="#9c9c9c" stroke-width="0.9" fill="none" opacity="0.55"/>
<ellipse cx="88.5" cy="937" rx="11" ry="4.6" fill="#efefef" stroke="#c6c6c6" stroke-width="1"/>
<path d="M49.5,943 L49.5,1066 A13.75,4.5 0 0 0 77,1066 L77,943 Z" fill="url(#cyl)"/>
<path d="M52.5,953 L74,971.17 L52.5,989.33 L74,1007.5 L52.5,1025.67 L74,1043.83 L52.5,1062 " stroke="#c4c4c4" stroke-width="0.9" fill="none" opacity="0.8"/>
<path d="M74,953 L52.5,971.17 L74,989.33 L52.5,1007.5 L74,1025.67 L52.5,1043.83 L74,1062 " stroke="#c4c4c4" stroke-width="0.9" fill="none" opacity="0.55"/>
<ellipse cx="63.25" cy="943" rx="13.25" ry="4.6" fill="#efefef" stroke="#c6c6c6" stroke-width="1"/>
<path d="M22,950 L22,1073 A13.75,4.5 0 0 0 49.5,1073 L49.5,950 Z" fill="url(#cyl)"/>
<path d="M25,960 L46.5,978.17 L25,996.33 L46.5,1014.5 L25,1032.67 L46.5,1050.83 L25,1069 " stroke="#cdcdcd" stroke-width="0.9" fill="none" opacity="0.8"/>
<path d="M46.5,960 L25,978.17 L46.5,996.33 L25,1014.5 L46.5,1032.67 L25,1050.83 L46.5,1069 " stroke="#cdcdcd" stroke-width="0.9" fill="none" opacity="0.55"/>
<ellipse cx="35.75" cy="950" rx="13.25" ry="4.6" fill="#efefef" stroke="#c6c6c6" stroke-width="1"/>
<path d="M-6,958 L-6,1080 A14,4.5 0 0 0 22,1080 L22,958 Z" fill="url(#cyl)"/>
<path d="M-3,968 L19,986 L-3,1004 L19,1022 L-3,1040 L19,1058 L-3,1076 " stroke="#d2d2d2" stroke-width="0.9" fill="none" opacity="0.8"/>
<path d="M19,968 L-3,986 L19,1004 L-3,1022 L19,1040 L-3,1058 L19,1076 " stroke="#d2d2d2" stroke-width="0.9" fill="none" opacity="0.55"/>
<ellipse cx="8" cy="958" rx="13.5" ry="4.6" fill="#efefef" stroke="#c6c6c6" stroke-width="1"/>
<polygon points="197,950 734.7,814.3 734.7,905.3 197,1061" fill="url(#sprfr)" />
<polygon points="94,962 160,944.5 197,950.7 132,968" fill="#c6c6c6" filter="url(#speck)"/>
<polygon points="94,962 132,968 132,1077.5 96,1060" fill="#a9a9a9" filter="url(#speck)"/>
<polygon points="132,968 197,950.7 197,1061 132,1077.5" fill="#cdcdcd" filter="url(#speck)"/>
<polygon points="0,780 572.5,668.5 745.3,708 747.5,711 747.5,713 0,888" fill="url(#comtop)" />
<polygon points="0,885.5 747.5,711 747.5,733.6 350,833.5 100,896.3 0,919.5" fill="url(#comfr)" />
<polygon points="0,540 570,540 570,566 745,602.4 748.5,605 748.5,607 0,766" fill="url(#beitop)" />
<polygon points="0,764 748.5,605 749.5,609 749.5,627 0,793.7" fill="url(#beifr)" />
<g clip-path="url(#beiclip)"><path d="M-20,612 C-3.33,609.5 47.83,602.33 80,597 C112.17,591.67 149.33,583.83 173,580 C196.67,576.17 208.67,573.83 222,574 C235.33,574.17 243.33,577.5 253,581 C262.67,584.5 272.17,591.17 280,595 C287.83,598.83 293.33,601.5 300,604 C306.67,606.5 312.67,608.33 320,610 C327.33,611.67 335.67,613.5 344,614 C352.33,614.5 360.67,613.83 370,613 C379.33,612.17 378.33,613 400,609 C421.67,605 466.67,595.5 500,589 C533.33,582.5 566.67,576.33 600,570 C633.33,563.67 683.33,554.17 700,551" stroke="#8a7a66" stroke-opacity="0.42" stroke-width="30" fill="none" filter="url(#blur12)"/></g>
<polygon points="566,565 757,528 757,537.5 566,575" fill="#70779b" opacity="0.92"/>
<path d="M0,598.5 L3.82,597.78 L8.55,596.89 L14.07,595.85 L20.26,594.69 L27,593.41 L34.19,592.06 L41.69,590.65 L49.41,589.2 L57.21,587.74 L64.99,586.29 L72.62,584.87 L80,583.5 L87.43,582.12 L95.26,580.66 L103.37,579.13 L111.67,577.57 L120.06,576 L128.44,574.44 L136.71,572.9 L144.78,571.43 L152.54,570.02 L159.9,568.72 L166.75,567.54 L173,566.5 L178.68,565.57 L183.92,564.71 L188.77,563.92 L193.26,563.2 L197.45,562.56 L201.38,562 L205.09,561.52 L208.63,561.13 L212.05,560.83 L215.38,560.62 L218.69,560.51 L222,560.5 L225.23,560.61 L228.25,560.84 L231.11,561.18 L233.81,561.62 L236.4,562.16 L238.88,562.77 L241.28,563.45 L243.63,564.19 L245.95,564.97 L248.27,565.8 L250.61,566.64 L253,567.5 L255.41,568.42 L257.81,569.45 L260.2,570.56 L262.56,571.73 L264.89,572.96 L267.19,574.21 L269.45,575.46 L271.67,576.71 L273.84,577.93 L275.95,579.09 L278.01,580.19 L280,581.2 L281.91,582.14 L283.74,583.04 L285.49,583.9 L287.19,584.74 L288.83,585.54 L290.44,586.31 L292.02,587.06 L293.59,587.79 L295.16,588.49 L296.75,589.17 L298.36,589.84 L300,590.5 L301.65,591.14 L303.29,591.75 L304.91,592.34 L306.52,592.91 L308.13,593.45 L309.75,593.98 L311.38,594.49 L313.04,594.98 L314.72,595.46 L316.44,595.92 L318.19,596.37 L320,596.8 L321.85,597.23 L323.75,597.66 L325.67,598.09 L327.63,598.5 L329.62,598.9 L331.62,599.27 L333.66,599.63 L335.7,599.94 L337.77,600.23 L339.84,600.47 L341.92,600.66 L344,600.8 L346.08,600.89 L348.17,600.92 L350.27,600.91 L352.37,600.86 L354.49,600.77 L356.62,600.64 L358.78,600.49 L360.96,600.32 L363.17,600.13 L365.41,599.93 L367.69,599.72 L370,599.5 L372.14,599.32 L373.96,599.18 L375.58,599.08 L377.11,598.98 L378.67,598.86 L380.38,598.7 L382.34,598.48 L384.67,598.17 L387.48,597.75 L390.9,597.19 L395.04,596.49 L400,595.6 L405.88,594.51 L412.62,593.23 L420.08,591.78 L428.15,590.2 L436.7,588.51 L445.62,586.73 L454.79,584.9 L464.07,583.04 L473.36,581.19 L482.52,579.36 L491.44,577.59 L500,575.9 L508.1,574.31 L515.82,572.79 L523.29,571.33 L530.63,569.89 L537.97,568.46 L545.44,566.99 L553.16,565.48 L561.26,563.9 L569.87,562.21 L579.11,560.4 L589.11,558.44 L589.11,558.44 L579.11,567.46 L569.87,572.37 L561.26,574.33 L553.16,576.17 L545.44,577.92 L537.97,579.62 L530.63,581.29 L523.29,582.96 L515.82,584.65 L508.1,586.41 L500,588.26 L491.44,590.21 L482.52,592.27 L473.36,594.38 L464.07,596.53 L454.79,598.68 L445.62,600.8 L436.7,602.85 L428.15,604.82 L420.08,606.65 L412.62,608.33 L405.88,609.83 L400,611.1 L395.04,611.99 L390.9,612.69 L387.48,613.25 L384.67,613.67 L382.34,613.98 L380.38,614.2 L378.67,614.36 L377.11,614.48 L375.58,614.58 L373.96,614.68 L372.14,614.82 L370,615 L367.69,615.22 L365.41,615.43 L363.17,615.63 L360.96,615.82 L358.78,615.99 L356.62,616.14 L354.49,616.27 L352.37,616.36 L350.27,616.41 L348.17,616.42 L346.08,616.39 L344,616.3 L341.92,616.16 L339.84,615.97 L337.77,615.73 L335.7,615.44 L333.66,615.13 L331.62,614.77 L329.62,614.4 L327.63,614 L325.67,613.59 L323.75,613.16 L321.85,612.73 L320,612.3 L318.19,611.87 L316.44,611.42 L314.72,610.96 L313.04,610.48 L311.38,609.99 L309.75,609.48 L308.13,608.95 L306.52,608.41 L304.91,607.84 L303.29,607.25 L301.65,606.64 L300,606 L298.36,605.34 L296.75,604.67 L295.16,603.99 L293.59,603.29 L292.02,602.56 L290.44,601.81 L288.83,601.04 L287.19,600.24 L285.49,599.4 L283.74,598.54 L281.91,597.64 L280,596.7 L278.01,595.69 L275.95,594.59 L273.84,593.43 L271.67,592.21 L269.45,590.96 L267.19,589.71 L264.89,588.46 L262.56,587.23 L260.2,586.06 L257.81,584.95 L255.41,583.92 L253,583 L250.61,582.14 L248.27,581.3 L245.95,580.47 L243.63,579.69 L241.28,578.95 L238.88,578.27 L236.4,577.66 L233.81,577.12 L231.11,576.68 L228.25,576.34 L225.23,576.11 L222,576 L218.69,576.01 L215.38,576.12 L212.05,576.33 L208.63,576.63 L205.09,577.02 L201.38,577.5 L197.45,578.06 L193.26,578.7 L188.77,579.42 L183.92,580.21 L178.68,581.07 L173,582 L166.75,583.04 L159.9,584.22 L152.54,585.52 L144.78,586.93 L136.71,588.4 L128.44,589.94 L120.06,591.5 L111.67,593.07 L103.37,594.63 L95.26,596.16 L87.43,597.62 L80,599 L72.62,600.37 L64.99,601.79 L57.21,603.24 L49.41,604.7 L41.69,606.15 L34.19,607.56 L27,608.91 L20.26,610.19 L14.07,611.35 L8.55,612.39 L3.82,613.28 L0,614Z" fill="#ece8df"/>
<path d="M0,333.5 L170,313.8 Q193,309.5 216,314.5 L764,404 Q771,405.5 773,410 L0,520 Z" fill="url(#covtop)"/>
<path d="M0,519 L772,409 Q775,412 774.5,418 L773.5,522.3 L773,522.3 L764.41,523.99 L753.33,526.17 L740.2,528.75 L725.44,531.65 L709.48,534.79 L692.75,538.07 L675.67,541.43 L658.67,544.77 L642.17,548.02 L626.61,551.07 L612.41,553.86 L600,556.3 L589.11,558.44 L579.11,560.4 L569.87,562.21 L561.26,563.9 L553.16,565.48 L545.44,566.99 L537.97,568.46 L530.63,569.89 L523.29,571.33 L515.82,572.79 L508.1,574.31 L500,575.9 L491.44,577.59 L482.52,579.36 L473.36,581.19 L464.07,583.04 L454.79,584.9 L445.62,586.73 L436.7,588.51 L428.15,590.2 L420.08,591.78 L412.62,593.23 L405.88,594.51 L400,595.6 L395.04,596.49 L390.9,597.19 L387.48,597.75 L384.67,598.17 L382.34,598.48 L380.38,598.7 L378.67,598.86 L377.11,598.98 L375.58,599.08 L373.96,599.18 L372.14,599.32 L370,599.5 L367.69,599.72 L365.41,599.93 L363.17,600.13 L360.96,600.32 L358.78,600.49 L356.62,600.64 L354.49,600.77 L352.37,600.86 L350.27,600.91 L348.17,600.92 L346.08,600.89 L344,600.8 L341.92,600.66 L339.84,600.47 L337.77,600.23 L335.7,599.94 L333.66,599.63 L331.62,599.27 L329.62,598.9 L327.63,598.5 L325.67,598.09 L323.75,597.66 L321.85,597.23 L320,596.8 L318.19,596.37 L316.44,595.92 L314.72,595.46 L313.04,594.98 L311.38,594.49 L309.75,593.98 L308.13,593.45 L306.52,592.91 L304.91,592.34 L303.29,591.75 L301.65,591.14 L300,590.5 L298.36,589.84 L296.75,589.17 L295.16,588.49 L293.59,587.79 L292.02,587.06 L290.44,586.31 L288.83,585.54 L287.19,584.74 L285.49,583.9 L283.74,583.04 L281.91,582.14 L280,581.2 L278.01,580.19 L275.95,579.09 L273.84,577.93 L271.67,576.71 L269.45,575.46 L267.19,574.21 L264.89,572.96 L262.56,571.73 L260.2,570.56 L257.81,569.45 L255.41,568.42 L253,567.5 L250.61,566.64 L248.27,565.8 L245.95,564.97 L243.63,564.19 L241.28,563.45 L238.88,562.77 L236.4,562.16 L233.81,561.62 L231.11,561.18 L228.25,560.84 L225.23,560.61 L222,560.5 L218.69,560.51 L215.38,560.62 L212.05,560.83 L208.63,561.13 L205.09,561.52 L201.38,562 L197.45,562.56 L193.26,563.2 L188.77,563.92 L183.92,564.71 L178.68,565.57 L173,566.5 L166.75,567.54 L159.9,568.72 L152.54,570.02 L144.78,571.43 L136.71,572.9 L128.44,574.44 L120.06,576 L111.67,577.57 L103.37,579.13 L95.26,580.66 L87.43,582.12 L80,583.5 L72.62,584.87 L64.99,586.29 L57.21,587.74 L49.41,589.2 L41.69,590.65 L34.19,592.06 L27,593.41 L20.26,594.69 L14.07,595.85 L8.55,596.89 L3.82,597.78 L0,598.5 Z" fill="url(#covfr)"/>
<g clip-path="url(#call)">
<g clip-path="url(#ctop)">
<line x1="-5" y1="319.94" x2="237.25" y2="357" stroke="#7b8cb7" stroke-width="3.0"/>
<line x1="-5" y1="324.54" x2="207.19" y2="357" stroke="#7b8cb7" stroke-width="3.0"/>
<line x1="-5" y1="329.13" x2="177.12" y2="357" stroke="#7b8cb7" stroke-width="3.0"/>
<line x1="-5" y1="333.74" x2="147.06" y2="357" stroke="#7b8cb7" stroke-width="3.0"/>
<line x1="-5" y1="338.33" x2="116.99" y2="357" stroke="#7b8cb7" stroke-width="3.0"/>
<line x1="-5" y1="342.94" x2="86.93" y2="357" stroke="#7b8cb7" stroke-width="3.0"/>
<line x1="-5" y1="347.54" x2="56.86" y2="357" stroke="#7b8cb7" stroke-width="3.0"/>
<polygon points="0,356.7 400,360 400,397 0,392.7" fill="#dde9f6" />
<path d="M-5,392 L10.85,392.17 L31.95,392.4 L57.08,392.68 L85,392.98 L114.48,393.31 L144.3,393.63 L173.21,393.95 L200,394.25 L225.67,394.45 L251.82,394.52 L278.12,394.54 L304.22,394.59 L329.8,394.74 L354.52,395.06 L378.03,395.62 L400,396.5 L420.52,397.75 L439.97,399.31 L458.39,401.12 L475.85,403.1 L492.42,405.17 L508.16,407.28 L523.13,409.35 L537.4,411.29 L551.16,413.27 L564.45,415.4 L577.06,417.59 L588.79,419.76 L599.45,421.81 L608.83,423.66 L616.75,425.21 L623,426.38" stroke="#a9c1e0" stroke-width="1.3" fill="none" opacity="0.8"/>
<path d="M-5,392 L10.85,392.17 L31.95,392.4 L57.08,392.68 L85,392.98 L114.48,393.31 L144.3,393.63 L173.21,393.95 L200,394.25 L225.67,394.45 L251.82,394.52 L278.12,394.54 L304.22,394.59 L329.8,394.74 L354.52,395.06 L378.03,395.62 L400,396.5 L420.52,397.75 L439.97,399.31 L458.39,401.12 L475.85,403.1 L492.42,405.17 L508.16,407.28 L523.13,409.35 L537.4,411.29 L551.16,413.27 L564.45,415.4 L577.06,417.59 L588.79,419.76 L599.45,421.81 L608.83,423.66 L616.75,425.21 L623,426.38" stroke="#f3f7fb" stroke-width="1.4" fill="none" opacity="0.85" transform="translate(0,1.6)"/>
<path d="M-5,387.7 L10.85,387.87 L31.95,388.1 L57.08,388.36 L85,388.66 L114.48,388.98 L144.3,389.3 L173.21,389.61 L200,389.9 L225.6,390.08 L251.57,390.13 L277.66,390.13 L303.57,390.16 L329.04,390.29 L353.78,390.6 L377.53,391.18 L400,392.1 L421.36,393.41 L441.93,395.06 L461.71,396.96 L480.66,399.06 L498.78,401.26 L516.03,403.49 L532.41,405.68 L547.9,407.75 L562.75,409.86 L577.11,412.13 L590.74,414.47 L603.44,416.8 L614.99,418.99 L625.16,420.97 L633.73,422.63 L640.5,423.88" stroke="#a9c1e0" stroke-width="1.3" fill="none" opacity="0.8"/>
<path d="M-5,387.7 L10.85,387.87 L31.95,388.1 L57.08,388.36 L85,388.66 L114.48,388.98 L144.3,389.3 L173.21,389.61 L200,389.9 L225.6,390.08 L251.57,390.13 L277.66,390.13 L303.57,390.16 L329.04,390.29 L353.78,390.6 L377.53,391.18 L400,392.1 L421.36,393.41 L441.93,395.06 L461.71,396.96 L480.66,399.06 L498.78,401.26 L516.03,403.49 L532.41,405.68 L547.9,407.75 L562.75,409.86 L577.11,412.13 L590.74,414.47 L603.44,416.8 L614.99,418.99 L625.16,420.97 L633.73,422.63 L640.5,423.88" stroke="#f3f7fb" stroke-width="1.4" fill="none" opacity="0.85" transform="translate(0,1.6)"/>
<path d="M-5,383.4 L10.85,383.57 L31.95,383.79 L57.08,384.05 L85,384.34 L114.48,384.65 L144.3,384.96 L173.21,385.27 L200,385.55 L225.52,385.72 L251.33,385.75 L277.19,385.73 L302.91,385.73 L328.27,385.84 L353.04,386.15 L377.02,386.74 L400,387.7 L422.19,389.07 L443.9,390.8 L465.03,392.81 L485.48,395.02 L505.13,397.34 L523.91,399.7 L541.7,402.02 L558.4,404.21 L574.34,406.44 L589.77,408.86 L604.43,411.36 L618.1,413.83 L630.53,416.18 L641.48,418.29 L650.72,420.06 L658,421.39" stroke="#a9c1e0" stroke-width="1.3" fill="none" opacity="0.8"/>
<path d="M-5,383.4 L10.85,383.57 L31.95,383.79 L57.08,384.05 L85,384.34 L114.48,384.65 L144.3,384.96 L173.21,385.27 L200,385.55 L225.52,385.72 L251.33,385.75 L277.19,385.73 L302.91,385.73 L328.27,385.84 L353.04,386.15 L377.02,386.74 L400,387.7 L422.19,389.07 L443.9,390.8 L465.03,392.81 L485.48,395.02 L505.13,397.34 L523.91,399.7 L541.7,402.02 L558.4,404.21 L574.34,406.44 L589.77,408.86 L604.43,411.36 L618.1,413.83 L630.53,416.18 L641.48,418.29 L650.72,420.06 L658,421.39" stroke="#f3f7fb" stroke-width="1.4" fill="none" opacity="0.85" transform="translate(0,1.6)"/>
<path d="M-5,379.1 L10.85,379.26 L31.95,379.48 L57.08,379.73 L85,380.02 L114.48,380.32 L144.3,380.63 L173.21,380.92 L200,381.2 L225.45,381.36 L251.08,381.37 L276.73,381.32 L302.26,381.3 L327.5,381.39 L352.3,381.7 L376.52,382.31 L400,383.3 L423.03,384.73 L445.87,386.55 L468.35,388.66 L490.29,390.98 L511.49,393.42 L531.78,395.91 L550.98,398.35 L568.9,400.67 L585.93,403.03 L602.43,405.59 L618.12,408.24 L632.76,410.87 L646.07,413.36 L657.81,415.6 L667.7,417.48 L675.5,418.9" stroke="#a9c1e0" stroke-width="1.3" fill="none" opacity="0.8"/>
<path d="M-5,379.1 L10.85,379.26 L31.95,379.48 L57.08,379.73 L85,380.02 L114.48,380.32 L144.3,380.63 L173.21,380.92 L200,381.2 L225.45,381.36 L251.08,381.37 L276.73,381.32 L302.26,381.3 L327.5,381.39 L352.3,381.7 L376.52,382.31 L400,383.3 L423.03,384.73 L445.87,386.55 L468.35,388.66 L490.29,390.98 L511.49,393.42 L531.78,395.91 L550.98,398.35 L568.9,400.67 L585.93,403.03 L602.43,405.59 L618.12,408.24 L632.76,410.87 L646.07,413.36 L657.81,415.6 L667.7,417.48 L675.5,418.9" stroke="#f3f7fb" stroke-width="1.4" fill="none" opacity="0.85" transform="translate(0,1.6)"/>
<path d="M-5,374.8 L10.85,374.96 L31.95,375.17 L57.08,375.42 L85,375.7 L114.48,375.99 L144.3,376.29 L173.21,376.58 L200,376.85 L225.38,377 L250.83,376.98 L276.27,376.91 L301.6,376.86 L326.73,376.95 L351.57,377.25 L376.02,377.87 L400,378.9 L423.86,380.4 L447.84,382.29 L471.68,384.5 L495.1,386.94 L517.85,389.5 L539.66,392.12 L560.26,394.69 L579.4,397.13 L597.53,399.62 L615.09,402.32 L631.81,405.12 L647.41,407.9 L661.61,410.54 L674.13,412.91 L684.69,414.91 L693,416.4" stroke="#a9c1e0" stroke-width="1.3" fill="none" opacity="0.8"/>
<path d="M-5,374.8 L10.85,374.96 L31.95,375.17 L57.08,375.42 L85,375.7 L114.48,375.99 L144.3,376.29 L173.21,376.58 L200,376.85 L225.38,377 L250.83,376.98 L276.27,376.91 L301.6,376.86 L326.73,376.95 L351.57,377.25 L376.02,377.87 L400,378.9 L423.86,380.4 L447.84,382.29 L471.68,384.5 L495.1,386.94 L517.85,389.5 L539.66,392.12 L560.26,394.69 L579.4,397.13 L597.53,399.62 L615.09,402.32 L631.81,405.12 L647.41,407.9 L661.61,410.54 L674.13,412.91 L684.69,414.91 L693,416.4" stroke="#f3f7fb" stroke-width="1.4" fill="none" opacity="0.85" transform="translate(0,1.6)"/>
<path d="M-5,370.5 L10.85,370.65 L31.95,370.86 L57.08,371.1 L85,371.38 L114.48,371.66 L144.3,371.95 L173.21,372.24 L200,372.5 L225.31,372.63 L250.59,372.6 L275.81,372.5 L300.94,372.43 L325.96,372.5 L350.83,372.8 L375.52,373.43 L400,374.5 L424.69,376.06 L449.81,378.04 L475,380.35 L499.91,382.9 L524.21,385.59 L547.53,388.33 L569.55,391.02 L589.9,393.58 L609.12,396.2 L627.75,399.05 L645.5,402.01 L662.07,404.94 L677.15,407.72 L690.45,410.23 L701.67,412.33 L710.5,413.91" stroke="#a9c1e0" stroke-width="1.3" fill="none" opacity="0.8"/>
<path d="M-5,370.5 L10.85,370.65 L31.95,370.86 L57.08,371.1 L85,371.38 L114.48,371.66 L144.3,371.95 L173.21,372.24 L200,372.5 L225.31,372.63 L250.59,372.6 L275.81,372.5 L300.94,372.43 L325.96,372.5 L350.83,372.8 L375.52,373.43 L400,374.5 L424.69,376.06 L449.81,378.04 L475,380.35 L499.91,382.9 L524.21,385.59 L547.53,388.33 L569.55,391.02 L589.9,393.58 L609.12,396.2 L627.75,399.05 L645.5,402.01 L662.07,404.94 L677.15,407.72 L690.45,410.23 L701.67,412.33 L710.5,413.91" stroke="#f3f7fb" stroke-width="1.4" fill="none" opacity="0.85" transform="translate(0,1.6)"/>
<path d="M-5,366.2 L10.85,366.35 L31.95,366.55 L57.08,366.79 L85,367.05 L114.48,367.33 L144.3,367.62 L173.21,367.89 L200,368.15 L225.24,368.27 L250.34,368.22 L275.35,368.09 L300.29,368 L325.19,368.05 L350.09,368.35 L375.02,369 L400,370.1 L425.53,371.72 L451.78,373.79 L478.32,376.2 L504.73,378.86 L530.56,381.67 L555.41,384.53 L578.83,387.36 L600.4,390.04 L620.71,392.79 L640.41,395.79 L659.19,398.89 L676.72,401.97 L692.69,404.9 L706.78,407.54 L718.65,409.76 L728,411.41" stroke="#a9c1e0" stroke-width="1.3" fill="none" opacity="0.8"/>
<path d="M-5,366.2 L10.85,366.35 L31.95,366.55 L57.08,366.79 L85,367.05 L114.48,367.33 L144.3,367.62 L173.21,367.89 L200,368.15 L225.24,368.27 L250.34,368.22 L275.35,368.09 L300.29,368 L325.19,368.05 L350.09,368.35 L375.02,369 L400,370.1 L425.53,371.72 L451.78,373.79 L478.32,376.2 L504.73,378.86 L530.56,381.67 L555.41,384.53 L578.83,387.36 L600.4,390.04 L620.71,392.79 L640.41,395.79 L659.19,398.89 L676.72,401.97 L692.69,404.9 L706.78,407.54 L718.65,409.76 L728,411.41" stroke="#f3f7fb" stroke-width="1.4" fill="none" opacity="0.85" transform="translate(0,1.6)"/>
<path d="M-5,361.9 L10.85,362.05 L31.95,362.24 L57.08,362.47 L85,362.73 L114.48,363 L144.3,363.28 L173.21,363.55 L200,363.8 L225.16,363.91 L250.1,363.83 L274.89,363.68 L299.63,363.57 L324.42,363.6 L349.35,363.9 L374.51,364.56 L400,365.7 L426.36,367.38 L453.75,369.53 L481.64,372.04 L509.54,374.82 L536.92,377.75 L563.28,380.74 L588.11,383.69 L610.9,386.5 L632.3,389.38 L653.07,392.52 L672.88,395.77 L691.38,399.01 L708.24,402.08 L723.1,404.85 L735.64,407.18 L745.5,408.92" stroke="#a9c1e0" stroke-width="1.3" fill="none" opacity="0.8"/>
<path d="M-5,361.9 L10.85,362.05 L31.95,362.24 L57.08,362.47 L85,362.73 L114.48,363 L144.3,363.28 L173.21,363.55 L200,363.8 L225.16,363.91 L250.1,363.83 L274.89,363.68 L299.63,363.57 L324.42,363.6 L349.35,363.9 L374.51,364.56 L400,365.7 L426.36,367.38 L453.75,369.53 L481.64,372.04 L509.54,374.82 L536.92,377.75 L563.28,380.74 L588.11,383.69 L610.9,386.5 L632.3,389.38 L653.07,392.52 L672.88,395.77 L691.38,399.01 L708.24,402.08 L723.1,404.85 L735.64,407.18 L745.5,408.92" stroke="#f3f7fb" stroke-width="1.4" fill="none" opacity="0.85" transform="translate(0,1.6)"/>
<path d="M-5,357.6 L10.85,357.74 L31.95,357.93 L57.08,358.16 L85,358.41 L114.48,358.67 L144.3,358.94 L173.21,359.21 L200,359.45 L225.09,359.55 L249.85,359.45 L274.43,359.27 L298.97,359.14 L323.65,359.16 L348.61,359.44 L374.01,360.12 L400,361.3 L427.2,363.05 L455.72,365.28 L484.96,367.89 L514.35,370.78 L543.28,373.83 L571.16,376.95 L597.4,380.03 L621.4,382.96 L643.89,385.96 L665.73,389.25 L686.57,392.66 L706.04,396.05 L723.78,399.27 L739.43,402.17 L752.62,404.6 L763,406.43" stroke="#a9c1e0" stroke-width="1.3" fill="none" opacity="0.8"/>
<path d="M-5,357.6 L10.85,357.74 L31.95,357.93 L57.08,358.16 L85,358.41 L114.48,358.67 L144.3,358.94 L173.21,359.21 L200,359.45 L225.09,359.55 L249.85,359.45 L274.43,359.27 L298.97,359.14 L323.65,359.16 L348.61,359.44 L374.01,360.12 L400,361.3 L427.2,363.05 L455.72,365.28 L484.96,367.89 L514.35,370.78 L543.28,373.83 L571.16,376.95 L597.4,380.03 L621.4,382.96 L643.89,385.96 L665.73,389.25 L686.57,392.66 L706.04,396.05 L723.78,399.27 L739.43,402.17 L752.62,404.6 L763,406.43" stroke="#f3f7fb" stroke-width="1.4" fill="none" opacity="0.85" transform="translate(0,1.6)"/>
</g>
<g clip-path="url(#cfront)">
<path d="M623,426.38 Q629,429.38 635,438.38 L735,577.38" stroke="#f4f7fa" stroke-width="2.8" fill="none" opacity="0.72"/>
<path d="M640.5,423.88 Q646.5,426.88 652.5,435.88 L752.5,574.88" stroke="#f4f7fa" stroke-width="2.8" fill="none" opacity="0.72"/>
<path d="M658,421.39 Q664,424.39 670,433.39 L770,572.39" stroke="#f4f7fa" stroke-width="2.8" fill="none" opacity="0.72"/>
<path d="M675.5,418.9 Q681.5,421.9 687.5,430.9 L787.5,569.9" stroke="#f4f7fa" stroke-width="2.8" fill="none" opacity="0.72"/>
<path d="M693,416.4 Q699,419.4 705,428.4 L805,567.4" stroke="#f4f7fa" stroke-width="2.8" fill="none" opacity="0.72"/>
<path d="M710.5,413.91 Q716.5,416.91 722.5,425.91 L822.5,564.91" stroke="#f4f7fa" stroke-width="2.8" fill="none" opacity="0.72"/>
<path d="M728,411.41 Q734,414.41 740,423.41 L840,562.41" stroke="#f4f7fa" stroke-width="2.8" fill="none" opacity="0.72"/>
<path d="M745.5,408.92 Q751.5,411.92 757.5,420.92 L857.5,559.92" stroke="#f4f7fa" stroke-width="2.8" fill="none" opacity="0.72"/>
<path d="M763,406.43 Q769,409.43 775,418.43 L875,557.43" stroke="#f4f7fa" stroke-width="2.8" fill="none" opacity="0.72"/>
<path d="M-5,506.5 L118,509.5 Q130,511 138,521 L230,618 L-5,618 Z" fill="#bed7f2"/>
<path d="M-40,506 L-28.55,506.15 L-12.44,506.35 L6.83,506.58 L27.75,506.84 L48.83,507.13 L68.56,507.42 L85.45,507.71 L98,508 L106.19,508.26 L111.44,508.48 L114.41,508.7 L115.75,508.94 L116.12,509.21 L116.19,509.55 L116.59,509.97 L118,510.5 L120.04,511.12 L121.92,511.79 L123.69,512.53 L125.38,513.34 L127.01,514.24 L128.64,515.22 L130.29,516.31 L132,517.5 L133.64,518.72 L135.12,519.92 L136.55,521.17 L138,522.53 L139.58,524.08 L141.38,525.88 L143.48,528 L146,530.5 L148.98,533.41 L152.38,536.68 L156.08,540.26 L160,544.09 L164.05,548.13 L168.12,552.33 L172.14,556.64 L176,561 L179.96,565.78 L184.2,571.17 L188.57,576.89 L192.88,582.66 L196.95,588.19 L200.61,593.19 L203.69,597.39 L206,600.5" stroke="#f6f7f4" stroke-width="2.6" fill="none"/>
<path d="M-40,510.6 L-30.6,510.75 L-17.41,510.95 L-1.64,511.18 L15.5,511.44 L32.8,511.73 L49.04,512.02 L63.01,512.31 L73.5,512.6 L80.52,512.86 L85.21,513.08 L88.11,513.3 L89.72,513.54 L90.55,513.81 L91.11,514.15 L91.93,514.57 L93.5,515.1 L95.54,515.72 L97.42,516.39 L99.19,517.13 L100.88,517.94 L102.51,518.84 L104.14,519.82 L105.79,520.91 L107.5,522.1 L109.14,523.32 L110.62,524.52 L112.05,525.77 L113.5,527.13 L115.08,528.68 L116.88,530.48 L118.98,532.6 L121.5,535.1 L124.48,538.01 L127.88,541.28 L131.58,544.86 L135.5,548.69 L139.55,552.73 L143.62,556.93 L147.64,561.24 L151.5,565.6 L155.46,570.38 L159.7,575.77 L164.07,581.49 L168.38,587.26 L172.45,592.79 L176.11,597.79 L179.19,601.99 L181.5,605.1" stroke="#f6f7f4" stroke-width="2.6" fill="none"/>
<path d="M-40,515.2 L-32.66,515.35 L-22.39,515.55 L-10.11,515.78 L3.25,516.04 L16.77,516.33 L29.52,516.62 L40.57,516.91 L49,517.2 L54.84,517.46 L58.99,517.68 L61.82,517.9 L63.69,518.14 L64.97,518.41 L66.04,518.75 L67.26,519.17 L69,519.7 L71.04,520.32 L72.92,520.99 L74.69,521.73 L76.38,522.54 L78.01,523.44 L79.64,524.42 L81.29,525.51 L83,526.7 L84.64,527.92 L86.12,529.12 L87.55,530.37 L89,531.73 L90.58,533.28 L92.38,535.08 L94.48,537.2 L97,539.7 L99.98,542.61 L103.38,545.88 L107.08,549.46 L111,553.29 L115.05,557.33 L119.12,561.53 L123.14,565.84 L127,570.2 L130.96,574.98 L135.2,580.37 L139.57,586.09 L143.88,591.86 L147.95,597.39 L151.61,602.39 L154.69,606.59 L157,609.7" stroke="#f6f7f4" stroke-width="2.6" fill="none"/>
<path d="M-40,519.8 L-34.72,519.95 L-27.37,520.15 L-18.58,520.38 L-9,520.64 L0.74,520.93 L9.99,521.22 L18.13,521.51 L24.5,521.8 L29.17,522.06 L32.77,522.28 L35.52,522.5 L37.66,522.74 L39.4,523.01 L40.96,523.35 L42.59,523.77 L44.5,524.3 L46.54,524.92 L48.42,525.59 L50.19,526.33 L51.88,527.14 L53.51,528.04 L55.14,529.02 L56.79,530.11 L58.5,531.3 L60.14,532.52 L61.62,533.72 L63.05,534.97 L64.5,536.33 L66.08,537.88 L67.88,539.68 L69.98,541.8 L72.5,544.3 L75.48,547.21 L78.88,550.48 L82.58,554.06 L86.5,557.89 L90.55,561.93 L94.62,566.13 L98.64,570.44 L102.5,574.8 L106.46,579.58 L110.7,584.97 L115.07,590.69 L119.38,596.46 L123.45,601.99 L127.11,606.99 L130.19,611.19 L132.5,614.3" stroke="#f6f7f4" stroke-width="2.6" fill="none"/>
<path d="M-40,524.4 L-36.78,524.55 L-32.34,524.75 L-27.05,524.98 L-21.25,525.24 L-15.29,525.53 L-9.53,525.82 L-4.32,526.11 L0,526.4 L3.5,526.66 L6.55,526.88 L9.23,527.1 L11.62,527.34 L13.82,527.61 L15.89,527.95 L17.92,528.37 L20,528.9 L22.04,529.52 L23.92,530.19 L25.69,530.93 L27.38,531.74 L29.01,532.64 L30.64,533.62 L32.29,534.71 L34,535.9 L35.64,537.12 L37.12,538.32 L38.55,539.57 L40,540.93 L41.58,542.48 L43.38,544.28 L45.48,546.4 L48,548.9 L50.98,551.81 L54.38,555.08 L58.08,558.66 L62,562.49 L66.05,566.53 L70.12,570.73 L74.14,575.04 L78,579.4 L81.96,584.18 L86.2,589.57 L90.57,595.29 L94.88,601.06 L98.95,606.59 L102.61,611.59 L105.69,615.79 L108,618.9" stroke="#f6f7f4" stroke-width="2.6" fill="none"/>
<path d="M-40,529 L-38.83,529.15 L-37.32,529.35 L-35.52,529.58 L-33.5,529.84 L-31.32,530.13 L-29.05,530.42 L-26.76,530.71 L-24.5,531 L-22.17,531.26 L-19.68,531.48 L-17.07,531.7 L-14.41,531.94 L-11.76,532.21 L-9.18,532.55 L-6.74,532.97 L-4.5,533.5 L-2.46,534.12 L-0.58,534.79 L1.19,535.53 L2.88,536.34 L4.51,537.24 L6.14,538.22 L7.79,539.31 L9.5,540.5 L11.14,541.72 L12.62,542.92 L14.05,544.17 L15.5,545.53 L17.08,547.08 L18.88,548.88 L20.98,551 L23.5,553.5 L26.48,556.41 L29.88,559.68 L33.58,563.26 L37.5,567.09 L41.55,571.13 L45.62,575.33 L49.64,579.64 L53.5,584 L57.46,588.78 L61.7,594.17 L66.07,599.89 L70.38,605.66 L74.45,611.19 L78.11,616.19 L81.19,620.39 L83.5,623.5" stroke="#f6f7f4" stroke-width="2.6" fill="none"/>
<path d="M-40,533.6 L-40.89,533.75 L-42.3,533.95 L-43.99,534.18 L-45.75,534.44 L-47.35,534.73 L-48.58,535.02 L-49.2,535.31 L-49,535.6 L-47.85,535.86 L-45.9,536.08 L-43.36,536.3 L-40.44,536.54 L-37.33,536.81 L-34.26,537.15 L-31.41,537.57 L-29,538.1 L-26.96,538.72 L-25.08,539.39 L-23.31,540.13 L-21.62,540.94 L-19.99,541.84 L-18.36,542.82 L-16.71,543.91 L-15,545.1 L-13.36,546.32 L-11.88,547.52 L-10.45,548.77 L-9,550.13 L-7.42,551.68 L-5.62,553.48 L-3.52,555.6 L-1,558.1 L1.98,561.01 L5.38,564.28 L9.08,567.86 L13,571.69 L17.05,575.73 L21.12,579.93 L25.14,584.24 L29,588.6 L32.96,593.38 L37.2,598.77 L41.57,604.49 L45.88,610.26 L49.95,615.79 L53.61,620.79 L56.69,624.99 L59,628.1" stroke="#f6f7f4" stroke-width="2.6" fill="none"/>
<path d="M-40,538.2 L-42.95,538.35 L-47.27,538.55 L-52.46,538.78 L-58,539.04 L-63.38,539.33 L-68.1,539.62 L-71.64,539.91 L-73.5,540.2 L-73.52,540.46 L-72.12,540.68 L-69.65,540.9 L-66.47,541.14 L-62.91,541.41 L-59.33,541.75 L-56.08,542.17 L-53.5,542.7 L-51.46,543.32 L-49.58,543.99 L-47.81,544.73 L-46.12,545.54 L-44.49,546.44 L-42.86,547.42 L-41.21,548.51 L-39.5,549.7 L-37.86,550.92 L-36.38,552.12 L-34.95,553.37 L-33.5,554.73 L-31.92,556.28 L-30.12,558.08 L-28.02,560.2 L-25.5,562.7 L-22.52,565.61 L-19.12,568.88 L-15.42,572.46 L-11.5,576.29 L-7.45,580.33 L-3.38,584.53 L0.64,588.84 L4.5,593.2 L8.46,597.98 L12.7,603.37 L17.07,609.09 L21.38,614.86 L25.45,620.39 L29.11,625.39 L32.19,629.59 L34.5,632.7" stroke="#f6f7f4" stroke-width="2.6" fill="none"/>
</g>
<path d="M-5,429.5 L10.85,429.83 L31.95,430.26 L57.08,430.77 L85,431.34 L114.48,431.97 L144.3,432.63 L173.21,433.31 L200,434 L226.23,434.68 L253.76,435.36 L281.75,436.05 L309.39,436.78 L335.86,437.57 L360.33,438.44 L381.99,439.41 L400,440.5 L414.16,441.82 L425.17,443.4 L433.56,445.13 L439.85,446.91 L444.58,448.64 L448.28,450.22 L451.47,451.54 L454.7,452.51 L457.75,453.38 L460.39,454.57 L462.62,456.07 L464.45,457.9 L465.87,460.04 L466.89,462.49 L467.5,465.27 L467.7,468.36 L467.7,584.32 L479.86,581.89 L479.86,466.63 L479.66,463.54 L479.05,460.77 L478.03,458.33 L476.61,456.22 L474.78,454.42 L472.55,452.95 L469.91,451.8 L466.86,450.98 L462.61,449.88 L457.97,448.37 L452.54,446.56 L445.93,444.58 L437.76,442.55 L427.64,440.59 L415.19,438.83 L400,437.38 L381.41,436.23 L359.48,435.25 L334.97,434.4 L308.63,433.65 L281.22,432.98 L253.47,432.35 L226.15,431.72 L200,431.07 L173.21,430.4 L144.3,429.74 L114.48,429.1 L85,428.49 L57.08,427.93 L31.95,427.43 L10.85,427.01 L-5,426.69Z" fill="#6482bb"/>
<path d="M-5,428.09 L10.85,428.42 L31.95,428.85 L57.08,429.35 L85,429.92 L114.48,430.53 L144.3,431.18 L173.21,431.86 L200,432.54 L226.19,433.2 L253.61,433.85 L281.48,434.51 L309.01,435.22 L335.42,435.98 L359.91,436.84 L381.7,437.82 L400,438.94 L414.67,440.32 L426.41,441.99 L435.66,443.84 L442.89,445.75 L448.56,447.61 L453.12,449.3 L457.04,450.72 L460.78,451.75 L463.83,452.6 L466.47,453.76 L468.7,455.25 L470.53,457.06 L471.95,459.19 L472.97,461.63 L473.58,464.4 L473.78,467.49 L473.78,583.1" stroke="#5a73a6" stroke-width="1.2" fill="none" opacity="0.7"/>
<path d="M-5,425.8 L10.85,426.12 L31.95,426.54 L57.08,427.03 L85,427.58 L114.48,428.19 L144.3,428.83 L173.21,429.49 L200,430.15 L226.12,430.79 L253.38,431.4 L281.05,432.01 L308.39,432.67 L334.69,433.4 L359.21,434.24 L381.22,435.23 L400,436.4 L415.51,437.88 L428.42,439.7 L439.09,441.73 L447.85,443.83 L455.05,445.89 L461.03,447.77 L466.13,449.35 L470.7,450.49 L473.75,451.3 L476.39,452.43 L478.62,453.9 L480.45,455.68 L481.87,457.79 L482.89,460.23 L483.5,462.99 L483.7,466.08 L483.7,581.13 L495.86,578.72 L495.86,464.35 L495.66,461.26 L495.05,458.51 L494.03,456.08 L492.61,453.98 L490.78,452.22 L488.55,450.78 L485.91,449.67 L482.86,448.9 L477.27,447.63 L470.72,445.87 L463,443.77 L453.93,441.47 L443.29,439.13 L430.89,436.88 L416.53,434.89 L400,433.28 L380.64,432.06 L358.35,431.05 L333.8,430.23 L307.63,429.54 L280.51,428.94 L253.1,428.39 L226.04,427.83 L200,427.22 L173.21,426.58 L144.3,425.94 L114.48,425.32 L85,424.73 L57.08,424.19 L31.95,423.71 L10.85,423.3 L-5,422.99Z" fill="#6482bb"/>
<path d="M-5,424.39 L10.85,424.71 L31.95,425.12 L57.08,425.61 L85,426.16 L114.48,426.75 L144.3,427.38 L173.21,428.03 L200,428.69 L226.08,429.31 L253.24,429.89 L280.78,430.48 L308.01,431.1 L334.24,431.81 L358.78,432.65 L380.93,433.64 L400,434.84 L416.02,436.38 L429.66,438.29 L441.19,440.43 L450.89,442.65 L459.03,444.83 L465.87,446.82 L471.7,448.49 L476.78,449.7 L479.83,450.49 L482.47,451.61 L484.7,453.06 L486.53,454.83 L487.95,456.94 L488.97,459.37 L489.58,462.13 L489.78,465.21 L489.78,579.92" stroke="#5a73a6" stroke-width="1.2" fill="none" opacity="0.7"/>
<path d="M-5,422.1 L10.85,422.41 L31.95,422.81 L57.08,423.29 L85,423.83 L114.48,424.41 L144.3,425.03 L173.21,425.66 L200,426.3 L226.01,426.89 L253.01,427.44 L280.35,427.97 L307.39,428.56 L333.52,429.23 L358.08,430.05 L380.46,431.06 L400,432.3 L416.85,433.94 L431.67,435.99 L444.62,438.3 L455.85,440.72 L465.52,443.09 L473.78,445.26 L480.79,447.08 L486.7,448.39 L489.75,449.16 L492.39,450.25 L494.62,451.69 L496.45,453.45 L497.87,455.54 L498.89,457.96 L499.5,460.71 L499.7,463.8 L499.7,577.96 L511.86,575.57 L511.86,462.07 L511.66,458.98 L511.05,456.23 L510.03,453.82 L508.61,451.74 L506.78,449.99 L504.55,448.58 L501.91,447.5 L498.86,446.76 L491.92,445.32 L483.47,443.32 L473.47,440.94 L461.93,438.33 L448.82,435.68 L434.14,433.16 L417.87,430.94 L400,429.18 L379.87,427.88 L357.23,426.86 L332.63,426.07 L306.63,425.44 L279.81,424.91 L252.72,424.43 L225.93,423.94 L200,423.37 L173.21,422.75 L144.3,422.14 L114.48,421.54 L85,420.97 L57.08,420.45 L31.95,419.98 L10.85,419.59 L-5,419.29Z" fill="#6482bb"/>
<path d="M-5,420.69 L10.85,421 L31.95,421.4 L57.08,421.87 L85,422.4 L114.48,422.97 L144.3,423.58 L173.21,424.21 L200,424.84 L225.97,425.42 L252.86,425.93 L280.08,426.44 L307.01,427 L333.07,427.65 L357.66,428.46 L380.16,429.47 L400,430.74 L417.36,432.44 L432.91,434.58 L446.72,436.99 L458.89,439.53 L469.49,442.01 L478.62,444.29 L486.36,446.2 L492.78,447.57 L495.83,448.33 L498.47,449.42 L500.7,450.84 L502.53,452.59 L503.95,454.68 L504.97,457.1 L505.58,459.85 L505.78,462.93 L505.78,576.76" stroke="#5a73a6" stroke-width="1.2" fill="none" opacity="0.7"/>
<path d="M-5,418.4 L10.85,418.7 L31.95,419.09 L57.08,419.55 L85,420.07 L114.48,420.63 L144.3,421.22 L173.21,421.83 L200,422.45 L225.9,423 L252.63,423.48 L279.64,423.94 L306.39,424.45 L332.35,425.07 L356.96,425.86 L379.69,426.88 L400,428.2 L418.2,429.99 L434.92,432.27 L450.15,434.86 L463.85,437.58 L475.99,440.25 L486.53,442.71 L495.44,444.76 L502.7,446.24 L505.75,446.97 L508.39,448.05 L510.62,449.46 L512.45,451.2 L513.87,453.28 L514.89,455.69 L515.5,458.44 L515.7,461.52 L515.7,574.82 L527.86,572.44 L527.86,459.79 L527.66,456.71 L527.05,453.96 L526.03,451.55 L524.61,449.49 L522.78,447.75 L520.55,446.36 L517.91,445.3 L514.86,444.58 L506.58,442.98 L496.22,440.75 L483.94,438.08 L469.93,435.18 L454.36,432.23 L437.39,429.44 L419.22,426.99 L400,425.08 L379.11,423.71 L356.1,422.68 L331.46,421.91 L305.63,421.33 L279.11,420.88 L252.35,420.47 L225.82,420.05 L200,419.52 L173.21,418.93 L144.3,418.33 L114.48,417.76 L85,417.21 L57.08,416.7 L31.95,416.26 L10.85,415.88 L-5,415.59Z" fill="#6482bb"/>
<path d="M-5,416.99 L10.85,417.29 L31.95,417.67 L57.08,418.13 L85,418.64 L114.48,419.19 L144.3,419.78 L173.21,420.38 L200,420.99 L225.86,421.52 L252.49,421.98 L279.37,422.41 L306.01,422.89 L331.9,423.49 L356.53,424.27 L379.4,425.3 L400,426.64 L418.71,428.49 L436.16,430.85 L452.25,433.54 L466.89,436.38 L479.96,439.17 L491.37,441.73 L501.01,443.87 L508.78,445.41 L511.83,446.14 L514.47,447.2 L516.7,448.61 L518.53,450.34 L519.95,452.42 L520.97,454.83 L521.58,457.57 L521.78,460.65 L521.78,573.63" stroke="#5a73a6" stroke-width="1.2" fill="none" opacity="0.7"/>
<path d="M-5,414.7 L10.85,414.99 L31.95,415.36 L57.08,415.81 L85,416.31 L114.48,416.85 L144.3,417.42 L173.21,418.01 L200,418.6 L225.8,419.11 L252.26,419.52 L278.94,419.91 L305.39,420.35 L331.17,420.91 L355.83,421.67 L378.92,422.71 L400,424.1 L419.54,426.04 L438.17,428.54 L455.68,431.4 L471.85,434.42 L486.45,437.4 L499.28,440.13 L510.1,442.42 L518.7,444.05 L521.75,444.77 L524.39,445.82 L526.62,447.21 L528.45,448.94 L529.87,451.01 L530.89,453.42 L531.5,456.16 L531.7,459.24 L531.7,571.68 L543.86,569.3 L543.86,457.51 L543.66,454.43 L543.05,451.69 L542.03,449.29 L540.61,447.23 L538.78,445.5 L536.55,444.12 L533.91,443.08 L530.86,442.38 L521.24,440.62 L508.97,438.16 L494.41,435.22 L477.93,432.01 L459.89,428.77 L440.64,425.7 L420.56,423.04 L400,420.98 L378.34,419.54 L354.98,418.49 L330.28,417.75 L304.63,417.23 L278.4,416.85 L251.97,416.52 L225.71,416.15 L200,415.67 L173.21,415.1 L144.3,414.53 L114.48,413.98 L85,413.45 L57.08,412.96 L31.95,412.53 L10.85,412.17 L-5,411.89Z" fill="#6482bb"/>
<path d="M-5,413.29 L10.85,413.58 L31.95,413.95 L57.08,414.39 L85,414.88 L114.48,415.41 L144.3,415.98 L173.21,416.56 L200,417.14 L225.75,417.63 L252.11,418.02 L278.67,418.38 L305.01,418.79 L330.73,419.33 L355.41,420.08 L378.63,421.12 L400,422.54 L420.05,424.54 L439.41,427.12 L457.79,430.09 L474.89,433.22 L490.43,436.31 L504.12,439.15 L515.67,441.52 L524.78,443.22 L527.83,443.93 L530.47,444.97 L532.7,446.36 L534.53,448.08 L535.95,450.15 L536.97,452.55 L537.58,455.29 L537.78,458.37 L537.78,570.49" stroke="#5a73a6" stroke-width="1.2" fill="none" opacity="0.7"/>
<path d="M-5,411 L10.85,411.28 L31.95,411.64 L57.08,412.07 L85,412.55 L114.48,413.07 L144.3,413.62 L173.21,414.18 L200,414.75 L225.69,415.22 L251.88,415.57 L278.24,415.88 L304.39,416.24 L330,416.75 L354.71,417.49 L378.16,418.54 L400,420 L420.88,422.09 L441.42,424.81 L461.21,427.94 L479.85,431.25 L496.92,434.53 L512.03,437.54 L524.75,440.05 L534.7,441.85 L537.75,442.55 L540.39,443.59 L542.62,444.96 L544.45,446.68 L545.87,448.74 L546.89,451.14 L547.5,453.88 L547.7,456.96 L547.7,568.55 L559.86,566.17 L559.86,455.23 L559.66,452.15 L559.05,449.41 L558.03,447.02 L556.61,444.96 L554.78,443.25 L552.55,441.88 L549.91,440.85 L546.86,440.17 L535.89,438.25 L521.72,435.56 L504.88,432.34 L485.93,428.84 L465.42,425.3 L443.89,421.97 L421.9,419.08 L400,416.88 L377.58,415.37 L353.85,414.3 L329.11,413.59 L303.63,413.13 L277.7,412.82 L251.6,412.56 L225.6,412.26 L200,411.82 L173.21,411.28 L144.3,410.73 L114.48,410.2 L85,409.69 L57.08,409.22 L31.95,408.81 L10.85,408.46 L-5,408.19Z" fill="#6482bb"/>
<path d="M-5,409.59 L10.85,409.87 L31.95,410.22 L57.08,410.64 L85,411.12 L114.48,411.63 L144.3,412.17 L173.21,412.73 L200,413.29 L225.64,413.74 L251.74,414.06 L277.97,414.35 L304.01,414.68 L329.56,415.17 L354.28,415.89 L377.87,416.95 L400,418.44 L421.39,420.58 L442.66,423.39 L463.32,426.62 L482.89,430.05 L500.9,433.43 L516.87,436.55 L530.32,439.15 L540.78,441.01 L543.83,441.7 L546.47,442.73 L548.7,444.11 L550.53,445.82 L551.95,447.88 L552.97,450.28 L553.58,453.01 L553.78,456.09 L553.78,567.36" stroke="#5a73a6" stroke-width="1.2" fill="none" opacity="0.7"/>
<path d="M-5,407.3 L10.85,407.57 L31.95,407.91 L57.08,408.32 L85,408.79 L114.48,409.29 L144.3,409.82 L173.21,410.36 L200,410.9 L225.58,411.33 L251.51,411.61 L277.53,411.85 L303.39,412.14 L328.83,412.59 L353.58,413.3 L377.39,414.37 L400,415.9 L422.23,418.13 L444.67,421.07 L466.75,424.47 L487.85,428.08 L507.39,431.65 L524.78,434.93 L539.41,437.67 L550.7,439.63 L553.75,440.32 L556.39,441.34 L558.62,442.71 L560.45,444.42 L561.87,446.47 L562.89,448.86 L563.5,451.6 L563.7,454.68 L563.7,565.42 L575.86,563.04 L575.86,452.95 L575.66,449.87 L575.05,447.13 L574.03,444.74 L572.61,442.7 L570.78,440.99 L568.55,439.63 L565.91,438.61 L562.86,437.94 L550.55,435.86 L534.47,432.94 L515.35,429.45 L493.93,425.66 L470.95,421.83 L447.14,418.23 L423.25,415.13 L400,412.78 L376.81,411.2 L352.73,410.12 L327.94,409.43 L302.63,409.02 L277,408.79 L251.22,408.61 L225.49,408.37 L200,407.97 L173.21,407.45 L144.3,406.93 L114.48,406.42 L85,405.93 L57.08,405.48 L31.95,405.08 L10.85,404.75 L-5,404.49Z" fill="#6482bb"/>
<path d="M-5,405.89 L10.85,406.16 L31.95,406.5 L57.08,406.9 L85,407.36 L114.48,407.85 L144.3,408.37 L173.21,408.9 L200,409.44 L225.53,409.85 L251.36,410.11 L277.27,410.32 L303.01,410.58 L328.39,411.01 L353.16,411.71 L377.1,412.78 L400,414.34 L422.74,416.63 L445.91,419.65 L468.85,423.15 L490.89,426.87 L511.37,430.55 L529.62,433.94 L544.98,436.77 L556.78,438.79 L559.83,439.46 L562.47,440.49 L564.7,441.85 L566.53,443.56 L567.95,445.61 L568.97,448 L569.58,450.74 L569.78,453.81 L569.78,564.23" stroke="#5a73a6" stroke-width="1.2" fill="none" opacity="0.7"/>
<path d="M-5,403.6 L10.85,403.86 L31.95,404.19 L57.08,404.58 L85,405.03 L114.48,405.51 L144.3,406.02 L173.21,406.53 L200,407.05 L225.47,407.44 L251.13,407.66 L276.83,407.82 L302.39,408.04 L327.66,408.43 L352.46,409.12 L376.63,410.2 L400,411.8 L423.57,414.18 L447.92,417.33 L472.28,421 L495.85,424.9 L517.86,428.76 L537.53,432.31 L554.07,435.29 L566.7,437.4 L569.75,438.07 L572.39,439.09 L574.62,440.45 L576.45,442.15 L577.87,444.2 L578.89,446.59 L579.5,449.32 L579.7,452.4 L579.7,562.28 L591.86,559.9 L591.86,450.67 L591.66,447.59 L591.05,444.86 L590.03,442.47 L588.61,440.43 L586.78,438.73 L584.55,437.38 L581.91,436.37 L578.86,435.7 L565.21,433.47 L547.22,430.32 L525.82,426.56 L501.93,422.48 L476.48,418.36 L450.39,414.49 L424.59,411.17 L400,408.68 L376.05,407.03 L351.6,405.94 L326.77,405.28 L301.63,404.92 L276.3,404.76 L250.85,404.65 L225.38,404.48 L200,404.12 L173.21,403.63 L144.3,403.13 L114.48,402.64 L85,402.17 L57.08,401.74 L31.95,401.36 L10.85,401.04 L-5,400.79Z" fill="#6482bb"/>
<path d="M-5,402.19 L10.85,402.45 L31.95,402.77 L57.08,403.16 L85,403.6 L114.48,404.07 L144.3,404.57 L173.21,405.08 L200,405.59 L225.43,405.96 L250.99,406.15 L276.56,406.29 L302.01,406.48 L327.21,406.85 L352.03,407.53 L376.34,408.62 L400,410.24 L424.08,412.67 L449.16,415.91 L474.38,419.68 L498.89,423.69 L521.84,427.66 L542.37,431.32 L559.64,434.38 L572.78,436.55 L575.83,437.22 L578.47,438.23 L580.7,439.59 L582.53,441.29 L583.95,443.33 L584.97,445.72 L585.58,448.46 L585.78,451.53 L585.78,561.09" stroke="#5a73a6" stroke-width="1.2" fill="none" opacity="0.7"/>
<path d="M-5,399.9 L10.85,400.15 L31.95,400.46 L57.08,400.84 L85,401.27 L114.48,401.73 L144.3,402.21 L173.21,402.71 L200,403.2 L225.36,403.55 L250.76,403.7 L276.13,403.79 L301.39,403.94 L326.49,404.28 L351.33,404.93 L375.86,406.03 L400,407.7 L424.91,410.22 L451.17,413.6 L477.81,417.52 L503.85,421.71 L528.33,425.87 L550.28,429.69 L568.72,432.89 L582.7,435.17 L585.75,435.83 L588.39,436.83 L590.62,438.19 L592.45,439.88 L593.87,441.92 L594.89,444.31 L595.5,447.04 L595.7,450.12 L595.7,559.14 L607.86,556.76 L607.86,448.39 L607.66,445.31 L607.05,442.58 L606.03,440.2 L604.61,438.16 L602.78,436.46 L600.55,435.12 L597.91,434.12 L594.86,433.46 L579.86,431.07 L559.97,427.7 L536.29,423.67 L509.93,419.29 L482.01,414.88 L453.64,410.75 L425.94,407.22 L400,404.58 L375.28,402.86 L350.48,401.75 L325.6,401.12 L300.63,400.82 L275.59,400.73 L250.47,400.7 L225.27,400.59 L200,400.27 L173.21,399.8 L144.3,399.32 L114.48,398.86 L85,398.41 L57.08,398 L31.95,397.63 L10.85,397.33 L-5,397.09Z" fill="#6482bb"/>
<path d="M-5,398.49 L10.85,398.74 L31.95,399.05 L57.08,399.42 L85,399.84 L114.48,400.29 L144.3,400.77 L173.21,401.25 L200,401.74 L225.32,402.07 L250.61,402.2 L275.86,402.26 L301.01,402.38 L326.04,402.7 L350.91,403.34 L375.57,404.45 L400,406.14 L425.42,408.72 L452.41,412.17 L479.91,416.2 L506.89,420.5 L532.31,424.77 L555.12,428.69 L574.29,431.98 L588.78,434.31 L591.83,434.97 L594.47,435.98 L596.7,437.32 L598.53,439.02 L599.95,441.06 L600.97,443.45 L601.58,446.18 L601.78,449.25 L601.78,557.95" stroke="#5a73a6" stroke-width="1.2" fill="none" opacity="0.7"/>
<path d="M-5,396.2 L10.85,396.44 L31.95,396.74 L57.08,397.1 L85,397.51 L114.48,397.95 L144.3,398.41 L173.21,398.88 L200,399.35 L225.25,399.66 L250.38,399.75 L275.42,399.76 L300.39,399.84 L325.31,400.12 L350.21,400.75 L375.1,401.86 L400,403.6 L426.26,406.27 L454.42,409.85 L483.34,414.05 L511.85,418.53 L538.8,422.97 L563.03,427.07 L583.38,430.49 L598.7,432.92 L601.75,433.58 L604.39,434.57 L606.62,435.92 L608.45,437.61 L609.87,439.65 L610.89,442.03 L611.5,444.76 L611.7,447.84 L611.7,556 L623.86,553.61 L623.86,446.11 L623.66,443.03 L623.05,440.3 L622.03,437.92 L620.61,435.88 L618.78,434.2 L616.55,432.85 L613.91,431.86 L610.86,431.21 L594.52,428.66 L572.72,425.07 L546.75,420.77 L517.93,416.1 L487.54,411.4 L456.89,407.01 L427.28,403.26 L400,400.48 L374.51,398.69 L349.35,397.57 L324.42,396.96 L299.63,396.72 L274.89,396.7 L250.1,396.74 L225.17,396.7 L200,396.42 L173.21,395.97 L144.3,395.52 L114.48,395.08 L85,394.65 L57.08,394.26 L31.95,393.91 L10.85,393.62 L-5,393.39Z" fill="#6482bb"/>
<path d="M-5,394.79 L10.85,395.03 L31.95,395.32 L57.08,395.68 L85,396.08 L114.48,396.51 L144.3,396.97 L173.21,397.43 L200,397.89 L225.21,398.18 L250.24,398.24 L275.16,398.23 L300.01,398.28 L324.87,398.54 L349.78,399.16 L374.81,400.28 L400,402.04 L426.77,404.76 L455.66,408.43 L485.44,412.73 L514.89,417.31 L542.78,421.87 L567.87,426.07 L588.95,429.57 L604.78,432.07 L607.83,432.72 L610.47,433.71 L612.7,435.06 L614.53,436.75 L615.95,438.78 L616.97,441.17 L617.58,443.9 L617.78,446.97 L617.78,554.81" stroke="#5a73a6" stroke-width="1.2" fill="none" opacity="0.7"/>
<path d="M-5,429.5 L10.85,429.83 L31.95,430.26 L57.08,430.77 L85,431.34 L114.48,431.97 L144.3,432.63 L173.21,433.31 L200,434 L226.23,434.68 L253.76,435.36 L281.75,436.05 L309.39,436.78 L335.86,437.57 L360.33,438.44 L381.99,439.41 L400,440.5 L414.16,441.82 L425.17,443.4 L433.56,445.13 L439.85,446.91 L444.58,448.64 L448.28,450.22 L451.47,451.54 L454.7,452.51 L614.7,430.67 L598.04,428.08 L575.78,424.44 L549.27,420.07 L519.85,415.34 L488.87,410.57 L457.67,406.11 L427.6,402.31 L400,399.5 L374.33,397.69 L349.08,396.57 L324.14,395.97 L299.39,395.74 L274.72,395.73 L250.01,395.79 L225.14,395.77 L200,395.5 L173.21,395.06 L144.3,394.61 L114.48,394.17 L85,393.75 L57.08,393.36 L31.95,393.02 L10.85,392.72 L-5,392.5Z" fill="#7084b2" opacity="0.42"/>
<path d="M-5.17,461.14 L0.16,461.93 L7.23,462.96 L15.65,464.17 L25.01,465.54 L34.91,467.03 L44.93,468.61 L54.68,470.24 L63.75,471.9 L72.46,473.68 L81.35,475.65 L90.3,477.76 L99.23,479.92 L108.04,482.07 L116.62,484.12 L124.88,486.01 L132.71,487.66 L140.4,489.12 L148.17,490.46 L155.79,491.69 L163.08,492.8 L169.83,493.79 L175.83,494.64 L180.87,495.37 L184.72,495.95 L187.05,496.69 L188.92,497.62 L190.36,498.73 L191.42,499.98 L192.16,501.39 L192.63,503 L192.85,504.88 L192.8,507.08 L192.8,564.78 L199.2,564.78 L199.2,507.06 L198.81,504.05 L197.99,501.3 L196.75,498.87 L195.08,496.81 L193.05,495.17 L190.71,493.96 L188.11,493.16 L185.28,492.75 L181.33,492.17 L176.28,491.47 L170.28,490.65 L163.54,489.7 L156.27,488.63 L148.66,487.44 L140.93,486.14 L133.29,484.74 L125.5,483.13 L117.27,481.29 L108.7,479.28 L99.89,477.18 L90.94,475.06 L81.95,472.99 L73.02,471.05 L64.25,469.3 L55.12,467.68 L45.33,466.09 L35.28,464.56 L25.36,463.11 L15.99,461.79 L7.56,460.62 L0.49,459.63 L-4.83,458.86Z" fill="#8db4e6"/>
<path d="M-5.1,460.66 L0.23,461.45 L7.3,462.47 L15.72,463.67 L25.08,465.03 L34.98,466.51 L45.02,468.08 L54.78,469.71 L63.86,471.35 L72.58,473.12 L81.47,475.1 L90.44,477.19 L99.37,479.35 L108.18,481.48 L116.76,483.53 L125.01,485.41 L132.83,487.05 L140.51,488.49 L148.27,489.83 L155.89,491.05 L163.18,492.15 L169.93,493.13 L175.93,493.98 L180.97,494.7 L184.83,495.28 L187.27,495.95 L189.29,496.85 L190.92,497.98 L192.19,499.31 L193.12,500.86 L193.76,502.64 L194.1,504.71 L194.14,507.08 L194.14,564.78 L197.86,564.78 L197.86,507.07 L197.55,504.23 L196.87,501.66 L195.78,499.4 L194.31,497.47 L192.48,495.91 L190.33,494.73 L187.88,493.9 L185.17,493.42 L181.24,492.85 L176.18,492.14 L170.18,491.31 L163.44,490.35 L156.17,489.27 L148.56,488.08 L140.82,486.77 L133.17,485.35 L125.37,483.74 L117.14,481.89 L108.56,479.87 L99.75,477.76 L90.81,475.63 L81.82,473.55 L72.9,471.6 L64.14,469.85 L55.03,468.22 L45.25,466.62 L35.2,465.08 L25.29,463.62 L15.92,462.29 L7.49,461.11 L0.42,460.12 L-4.9,459.34Z" fill="#5f90d3"/>
<path d="M-5.15,458.03 L0.75,458.8 L8.59,459.8 L17.92,460.98 L28.29,462.31 L39.25,463.76 L50.36,465.3 L61.17,466.88 L71.23,468.49 L80.91,470.2 L90.81,472.09 L100.8,474.1 L110.76,476.16 L120.54,478.21 L130.03,480.2 L139.1,482.06 L147.61,483.73 L155.85,485.26 L164.05,486.75 L172.03,488.16 L179.61,489.47 L186.59,490.66 L192.77,491.72 L197.98,492.6 L201.98,493.29 L204.32,494.08 L206.19,495.04 L207.64,496.17 L208.7,497.45 L209.45,498.89 L209.93,500.52 L210.15,502.41 L210.1,504.62 L210.1,562.75 L216.5,562.75 L216.5,504.6 L216.11,501.58 L215.29,498.83 L214.05,496.39 L212.4,494.31 L210.37,492.64 L208.03,491.4 L205.43,490.56 L202.62,490.1 L198.52,489.42 L193.3,488.55 L187.11,487.53 L180.14,486.37 L172.56,485.09 L164.58,483.72 L156.39,482.28 L148.17,480.78 L139.68,479.16 L130.62,477.34 L121.13,475.4 L111.33,473.39 L101.35,471.37 L91.33,469.4 L81.39,467.55 L71.66,465.88 L61.56,464.31 L50.72,462.77 L39.58,461.28 L28.6,459.88 L18.22,458.59 L8.88,457.45 L1.04,456.5 L-4.85,455.75Z" fill="#8db4e6"/>
<path d="M-5.09,457.55 L0.81,458.32 L8.65,459.31 L17.98,460.48 L28.35,461.8 L39.32,463.24 L50.44,464.77 L61.25,466.34 L71.32,467.94 L81.01,469.65 L90.92,471.53 L100.92,473.52 L110.88,475.58 L120.67,477.62 L130.16,479.6 L139.22,481.45 L147.73,483.11 L155.96,484.64 L164.16,486.11 L172.14,487.51 L179.72,488.82 L186.7,490.01 L192.89,491.05 L198.1,491.93 L202.12,492.62 L204.56,493.34 L206.58,494.28 L208.21,495.43 L209.48,496.79 L210.42,498.36 L211.06,500.17 L211.4,502.24 L211.44,504.61 L211.44,562.75 L215.16,562.75 L215.16,504.6 L214.86,501.76 L214.17,499.19 L213.09,496.91 L211.62,494.97 L209.79,493.39 L207.65,492.17 L205.2,491.3 L202.48,490.77 L198.41,490.08 L193.19,489.22 L187,488.19 L180.03,487.02 L172.45,485.73 L164.47,484.36 L156.27,482.9 L148.05,481.4 L139.55,479.77 L130.5,477.94 L121.01,475.99 L111.21,473.97 L101.24,471.94 L91.22,469.97 L81.29,468.11 L71.57,466.43 L61.48,464.85 L50.64,463.3 L39.51,461.8 L28.53,460.39 L18.15,459.09 L8.82,457.95 L0.98,456.98 L-4.91,456.23Z" fill="#5f90d3"/>
<path d="M-5.13,454.92 L1.34,455.67 L9.94,456.64 L20.18,457.79 L31.56,459.08 L43.6,460.49 L55.79,461.98 L67.66,463.52 L78.7,465.08 L89.34,466.73 L100.25,468.53 L111.26,470.43 L122.22,472.39 L132.98,474.36 L143.38,476.28 L153.28,478.11 L162.51,479.79 L171.37,481.4 L180.12,483.02 L188.59,484.6 L196.59,486.11 L203.94,487.5 L210.44,488.73 L215.93,489.77 L220.16,490.57 L222.5,491.38 L224.38,492.37 L225.83,493.52 L226.9,494.82 L227.65,496.27 L228.13,497.92 L228.35,499.82 L228.3,502.02 L228.3,563.24 L234.7,563.24 L234.7,502.01 L234.31,498.99 L233.5,496.23 L232.26,493.78 L230.6,491.69 L228.58,490.01 L226.25,488.75 L223.65,487.88 L220.84,487.39 L216.52,486.59 L211.04,485.58 L204.53,484.37 L197.17,483.01 L189.16,481.53 L180.68,479.98 L171.91,478.4 L163.04,476.83 L153.81,475.19 L143.91,473.4 L133.49,471.52 L122.72,469.6 L111.74,467.68 L100.7,465.82 L89.76,464.06 L79.08,462.45 L68,460.94 L56.11,459.45 L43.89,458 L31.84,456.64 L20.45,455.4 L10.2,454.29 L1.6,453.36 L-4.87,452.64Z" fill="#8db4e6"/>
<path d="M-5.08,454.44 L1.4,455.19 L10,456.15 L20.24,457.29 L31.62,458.57 L43.66,459.97 L55.86,461.45 L67.73,462.98 L78.78,464.53 L89.43,466.17 L100.34,467.96 L111.36,469.86 L122.32,471.81 L133.09,473.76 L143.49,475.68 L153.39,477.49 L162.62,479.17 L171.48,480.77 L180.24,482.38 L188.71,483.95 L196.71,485.45 L204.06,486.84 L210.57,488.07 L216.05,489.11 L220.31,489.9 L222.75,490.65 L224.77,491.61 L226.4,492.78 L227.68,494.16 L228.62,495.75 L229.26,497.56 L229.6,499.64 L229.64,502.02 L229.64,563.24 L233.36,563.24 L233.36,502.01 L233.06,499.16 L232.37,496.59 L231.29,494.3 L229.82,492.35 L228,490.75 L225.86,489.51 L223.41,488.61 L220.69,488.06 L216.4,487.26 L210.91,486.24 L204.4,485.02 L197.05,483.66 L189.04,482.18 L180.56,480.62 L171.8,479.03 L162.93,477.45 L153.7,475.8 L143.8,474.01 L133.39,472.12 L122.61,470.19 L111.64,468.26 L100.61,466.39 L89.68,464.62 L79,463 L67.93,461.48 L56.04,459.98 L43.83,458.53 L31.78,457.16 L20.39,455.9 L10.15,454.78 L1.55,453.85 L-4.92,453.12Z" fill="#5f90d3"/>
<path d="M-5.12,451.81 L1.93,452.54 L11.3,453.48 L22.44,454.6 L34.83,455.85 L47.94,457.22 L61.22,458.67 L74.14,460.16 L86.16,461.67 L97.77,463.25 L109.67,464.96 L121.69,466.77 L133.66,468.63 L145.39,470.5 L156.71,472.36 L167.44,474.16 L177.41,475.85 L186.92,477.54 L196.26,479.28 L205.26,481.03 L213.73,482.73 L221.49,484.32 L228.36,485.74 L234.15,486.93 L238.65,487.84 L240.99,488.67 L242.86,489.67 L244.32,490.84 L245.39,492.15 L246.15,493.62 L246.63,495.27 L246.85,497.18 L246.8,499.39 L246.8,568.42 L253.2,568.42 L253.2,499.37 L252.81,496.35 L252,493.59 L250.76,491.14 L249.11,489.04 L247.09,487.35 L244.76,486.06 L242.17,485.17 L239.35,484.66 L234.79,483.76 L229,482.59 L222.13,481.19 L214.35,479.63 L205.86,477.97 L196.83,476.25 L187.46,474.53 L177.92,472.88 L167.93,471.22 L157.18,469.46 L145.84,467.65 L134.09,465.82 L122.11,464 L110.07,462.24 L98.14,460.57 L86.5,459.03 L74.45,457.57 L61.5,456.13 L48.2,454.73 L35.08,453.41 L22.68,452.2 L11.53,451.13 L2.16,450.23 L-4.88,449.52Z" fill="#8db4e6"/>
<path d="M-5.07,451.33 L1.98,452.06 L11.34,452.99 L22.49,454.09 L34.89,455.34 L47.99,456.7 L61.28,458.14 L74.2,459.62 L86.24,461.11 L97.85,462.69 L109.76,464.39 L121.78,466.18 L133.75,468.04 L145.48,469.9 L156.81,471.75 L167.54,473.54 L177.52,475.23 L187.03,476.91 L196.38,478.65 L205.39,480.39 L213.86,482.08 L221.63,483.66 L228.5,485.08 L234.29,486.27 L238.8,487.17 L241.24,487.93 L243.26,488.91 L244.9,490.11 L246.17,491.5 L247.12,493.09 L247.76,494.92 L248.1,497.01 L248.14,499.38 L248.14,568.42 L251.86,568.42 L251.86,499.37 L251.56,496.53 L250.87,493.95 L249.79,491.66 L248.33,489.69 L246.51,488.08 L244.36,486.82 L241.92,485.91 L239.2,485.33 L234.66,484.42 L228.87,483.25 L222,481.85 L214.22,480.28 L205.73,478.61 L196.71,476.88 L187.35,475.16 L177.81,473.5 L167.83,471.84 L157.08,470.07 L145.75,468.25 L134,466.41 L122.02,464.58 L109.98,462.81 L98.06,461.13 L86.43,459.59 L74.38,458.11 L61.44,456.66 L48.15,455.25 L35.03,453.92 L22.63,452.7 L11.48,451.62 L2.11,450.71 L-4.93,450Z" fill="#5f90d3"/>
<path d="M-5.1,448.7 L2.52,449.41 L12.65,450.32 L24.7,451.4 L38.1,452.63 L52.28,453.95 L66.64,455.35 L80.62,456.8 L93.63,458.25 L106.19,459.77 L119.07,461.39 L132.09,463.1 L145.04,464.86 L157.73,466.65 L169.97,468.44 L181.56,470.2 L192.31,471.91 L202.54,473.67 L212.57,475.54 L222.21,477.45 L231.28,479.33 L239.58,481.1 L246.92,482.69 L253.12,484.03 L257.94,485.04 L260.28,485.88 L262.16,486.89 L263.61,488.07 L264.69,489.39 L265.45,490.86 L265.93,492.52 L266.15,494.43 L266.1,496.63 L266.1,577.38 L272.5,577.38 L272.5,496.62 L272.11,493.6 L271.3,490.84 L270.06,488.38 L268.41,486.28 L266.39,484.58 L264.07,483.29 L261.47,482.39 L258.66,481.86 L253.79,480.86 L247.6,479.54 L240.25,477.98 L231.92,476.23 L222.83,474.38 L213.14,472.5 L203.07,470.66 L192.8,468.93 L182.02,467.26 L170.4,465.53 L158.14,463.78 L145.42,462.04 L132.45,460.32 L119.42,458.66 L106.51,457.08 L93.93,455.61 L80.89,454.2 L66.89,452.81 L52.51,451.45 L38.33,450.18 L24.91,449.01 L12.85,447.97 L2.72,447.09 L-4.9,446.41Z" fill="#8db4e6"/>
<path d="M-5.06,448.22 L2.56,448.92 L12.69,449.83 L24.75,450.9 L38.15,452.11 L52.33,453.43 L66.7,454.82 L80.68,456.25 L93.69,457.7 L106.26,459.2 L119.15,460.82 L132.17,462.52 L145.12,464.27 L157.82,466.05 L170.06,467.83 L181.66,469.58 L192.41,471.29 L202.65,473.03 L212.69,474.9 L222.34,476.8 L231.41,478.68 L239.72,480.44 L247.06,482.03 L253.26,483.37 L258.09,484.37 L260.53,485.14 L262.56,486.13 L264.2,487.34 L265.47,488.73 L266.41,490.34 L267.06,492.17 L267.4,494.26 L267.44,496.63 L267.44,577.38 L271.16,577.38 L271.16,496.62 L270.86,493.78 L270.17,491.19 L269.09,488.9 L267.63,486.93 L265.81,485.31 L263.67,484.05 L261.22,483.12 L258.51,482.53 L253.65,481.53 L247.46,480.21 L240.11,478.63 L231.79,476.88 L222.7,475.02 L213.02,473.14 L202.96,471.29 L192.7,469.56 L181.92,467.88 L170.31,466.14 L158.05,464.39 L145.34,462.63 L132.38,460.91 L119.35,459.24 L106.45,457.65 L93.87,456.17 L80.83,454.75 L66.84,453.34 L52.46,451.98 L38.28,450.69 L24.87,449.51 L12.81,448.46 L2.68,447.58 L-4.94,446.89Z" fill="#5f90d3"/>
<path d="M-5.09,445.59 L3.1,446.28 L13.99,447.16 L26.96,448.21 L41.37,449.4 L56.62,450.68 L72.06,452.04 L87.09,453.44 L101.09,454.84 L114.6,456.29 L128.47,457.82 L142.48,459.43 L156.42,461.09 L170.08,462.79 L183.24,464.52 L195.69,466.25 L207.21,467.97 L218.15,469.8 L228.85,471.79 L239.13,473.87 L248.78,475.93 L257.6,477.89 L265.41,479.66 L271.99,481.15 L277.13,482.25 L279.48,483.1 L281.35,484.12 L282.81,485.31 L283.89,486.64 L284.64,488.11 L285.13,489.78 L285.35,491.69 L285.3,493.9 L285.3,587.38 L291.7,587.38 L291.7,493.89 L291.31,490.87 L290.5,488.1 L289.26,485.64 L287.61,483.54 L285.6,481.83 L283.27,480.53 L280.68,479.62 L277.87,479.08 L272.69,477.98 L266.11,476.51 L258.3,474.77 L249.45,472.83 L239.76,470.8 L229.44,468.75 L218.67,466.78 L207.68,464.98 L196.11,463.3 L183.63,461.6 L170.44,459.92 L156.76,458.26 L142.81,456.65 L128.78,455.09 L114.89,453.6 L101.36,452.19 L87.34,450.83 L72.29,449.49 L56.83,448.18 L41.57,446.95 L27.15,445.81 L14.18,444.8 L3.29,443.96 L-4.91,443.3Z" fill="#8db4e6"/>
<path d="M-5.05,445.11 L3.14,445.79 L14.03,446.67 L27,447.71 L41.41,448.88 L56.66,450.16 L72.11,451.5 L87.15,452.89 L101.14,454.28 L114.66,455.72 L128.54,457.25 L142.55,458.85 L156.5,460.5 L170.15,462.19 L183.32,463.91 L195.78,465.63 L207.31,467.34 L218.26,469.16 L228.97,471.15 L239.26,473.22 L248.92,475.28 L257.75,477.23 L265.55,479 L272.14,480.48 L277.29,481.59 L279.73,482.37 L281.75,483.37 L283.39,484.58 L284.67,485.98 L285.61,487.59 L286.26,489.43 L286.6,491.52 L286.64,493.9 L286.64,587.38 L290.36,587.38 L290.36,493.89 L290.06,491.04 L289.37,488.45 L288.29,486.16 L286.83,484.19 L285.01,482.56 L282.87,481.29 L280.43,480.35 L277.71,479.74 L272.54,478.64 L265.96,477.18 L258.15,475.43 L249.3,473.48 L239.63,471.44 L229.31,469.39 L218.56,467.41 L207.58,465.61 L196.02,463.92 L183.54,462.21 L170.37,460.52 L156.69,458.86 L142.74,457.23 L128.71,455.66 L114.83,454.16 L101.3,452.75 L87.29,451.38 L72.24,450.02 L56.78,448.71 L41.53,447.46 L27.11,446.31 L14.14,445.3 L3.25,444.44 L-4.95,443.78Z" fill="#5f90d3"/>
<path d="M-5.09,442.48 L3.68,443.15 L15.34,444 L29.21,445.02 L44.64,446.17 L60.95,447.41 L77.48,448.72 L93.57,450.07 L108.55,451.43 L123.02,452.81 L137.88,454.25 L152.9,455.76 L167.84,457.32 L182.46,458.93 L196.54,460.59 L209.83,462.29 L222.11,464.03 L233.71,465.93 L245.03,468.06 L255.87,470.3 L266.02,472.56 L275.3,474.71 L283.49,476.67 L290.41,478.31 L295.82,479.52 L298.17,480.38 L300.04,481.42 L301.5,482.61 L302.58,483.95 L303.34,485.43 L303.83,487.11 L304.05,489.03 L304,491.23 L304,595.14 L310.4,595.14 L310.4,491.22 L310.01,488.2 L309.2,485.44 L307.96,482.97 L306.32,480.86 L304.31,479.14 L301.98,477.83 L299.39,476.9 L296.58,476.35 L291.14,475.14 L284.23,473.53 L276.02,471.6 L266.72,469.47 L256.52,467.23 L245.63,465.01 L234.24,462.91 L222.56,461.04 L210.23,459.33 L196.89,457.67 L182.79,456.05 L168.14,454.48 L153.18,452.97 L138.15,451.51 L123.27,450.11 L108.79,448.77 L93.79,447.47 L77.69,446.17 L61.14,444.91 L44.82,443.71 L29.39,442.62 L15.51,441.64 L3.85,440.82 L-4.91,440.19Z" fill="#8db4e6"/>
<path d="M-5.05,442 L3.72,442.66 L15.38,443.51 L29.25,444.51 L44.68,445.65 L60.99,446.88 L77.53,448.19 L93.62,449.52 L108.6,450.87 L123.07,452.24 L137.94,453.68 L152.96,455.17 L167.9,456.73 L182.53,458.33 L196.61,459.98 L209.92,461.67 L222.2,463.4 L233.82,465.3 L245.16,467.42 L256.01,469.66 L266.17,471.91 L275.45,474.06 L283.64,476.01 L290.56,477.64 L295.98,478.86 L298.42,479.65 L300.45,480.66 L302.09,481.89 L303.37,483.3 L304.31,484.92 L304.96,486.76 L305.3,488.85 L305.34,491.23 L305.34,595.14 L309.06,595.14 L309.06,491.22 L308.76,488.37 L308.07,485.79 L306.99,483.49 L305.53,481.51 L303.72,479.87 L301.58,478.59 L299.13,477.63 L296.42,477.01 L290.98,475.81 L284.07,474.19 L275.87,472.25 L266.57,470.11 L256.38,467.88 L245.5,465.65 L234.13,463.55 L222.46,461.66 L210.14,459.95 L196.82,458.28 L182.72,456.66 L168.07,455.08 L153.12,453.55 L138.09,452.08 L123.22,450.68 L108.74,449.33 L93.75,448.01 L77.65,446.7 L61.1,445.43 L44.78,444.23 L29.35,443.12 L15.47,442.14 L3.82,441.31 L-4.95,440.67Z" fill="#5f90d3"/>
<path d="M-5.08,439.37 L4.27,440.01 L16.69,440.84 L31.47,441.83 L47.9,442.94 L65.29,444.14 L82.9,445.41 L100.04,446.71 L116,448.01 L131.43,449.33 L147.29,450.68 L163.31,452.09 L179.24,453.55 L194.83,455.07 L209.83,456.67 L223.97,458.34 L237,460.09 L249.29,462.07 L261.23,464.32 L272.65,466.74 L283.32,469.18 L293.06,471.54 L301.65,473.67 L308.92,475.47 L314.61,476.79 L316.96,477.66 L318.83,478.7 L320.29,479.91 L321.38,481.25 L322.14,482.75 L322.63,484.43 L322.85,486.35 L322.8,488.55 L322.8,600.16 L329.2,600.16 L329.2,488.54 L328.81,485.52 L328,482.75 L326.77,480.29 L325.12,478.17 L323.11,476.45 L320.79,475.13 L318.2,474.19 L315.39,473.61 L309.67,472.31 L302.43,470.54 L293.81,468.43 L284.04,466.09 L273.32,463.67 L261.84,461.28 L249.81,459.04 L237.44,457.09 L224.34,455.37 L210.15,453.74 L195.12,452.18 L179.51,450.7 L163.56,449.29 L147.52,447.93 L131.66,446.62 L116.22,445.35 L100.25,444.1 L83.09,442.85 L65.46,441.63 L48.07,440.48 L31.63,439.42 L16.84,438.48 L4.42,437.69 L-4.92,437.07Z" fill="#8db4e6"/>
<path d="M-5.04,438.89 L4.3,439.53 L16.72,440.35 L31.5,441.32 L47.94,442.42 L65.32,443.61 L82.94,444.87 L100.09,446.16 L116.05,447.45 L131.48,448.76 L147.34,450.1 L163.36,451.5 L179.3,452.95 L194.9,454.47 L209.9,456.05 L224.05,457.71 L237.1,459.46 L249.4,461.43 L261.36,463.68 L272.79,466.09 L283.47,468.53 L293.21,470.88 L301.82,473.01 L309.08,474.8 L314.77,476.12 L317.22,476.93 L319.25,477.95 L320.89,479.18 L322.16,480.61 L323.11,482.23 L323.75,484.07 L324.1,486.17 L324.14,488.55 L324.14,600.16 L327.86,600.16 L327.86,488.55 L327.56,485.69 L326.87,483.11 L325.79,480.8 L324.34,478.82 L322.52,477.17 L320.38,475.88 L317.94,474.92 L315.23,474.28 L309.51,472.97 L302.26,471.2 L293.65,469.08 L283.89,466.74 L273.18,464.31 L261.71,461.92 L249.7,459.68 L237.35,457.72 L224.26,455.99 L210.09,454.35 L195.06,452.79 L179.45,451.3 L163.5,449.88 L147.47,448.51 L131.61,447.19 L116.17,445.91 L100.2,444.65 L83.05,443.39 L65.42,442.16 L48.03,441 L31.59,439.93 L16.81,438.98 L4.39,438.18 L-4.96,437.56Z" fill="#5f90d3"/>
<path d="M-5.07,436.26 L4.85,436.88 L18.03,437.68 L33.72,438.63 L51.17,439.71 L69.62,440.87 L88.32,442.09 L106.52,443.34 L123.46,444.6 L139.85,445.84 L156.7,447.11 L173.73,448.41 L190.66,449.77 L207.23,451.21 L223.14,452.74 L238.12,454.38 L251.9,456.15 L264.84,458.2 L277.37,460.59 L289.32,463.18 L300.47,465.83 L310.62,468.38 L319.58,470.7 L327.15,472.66 L333.1,474.08 L335.45,474.97 L337.33,476.03 L338.79,477.24 L339.87,478.6 L340.64,480.1 L341.13,481.78 L341.35,483.71 L341.3,485.92 L341.3,602.82 L347.7,602.82 L347.7,485.91 L347.31,482.88 L346.5,480.12 L345.27,477.64 L343.63,475.52 L341.62,473.79 L339.3,472.46 L336.71,471.5 L333.9,470.92 L327.94,469.5 L320.38,467.58 L311.41,465.27 L301.21,462.74 L290.01,460.12 L277.99,457.55 L265.36,455.17 L252.32,453.14 L238.47,451.4 L223.44,449.8 L207.49,448.31 L190.9,446.92 L173.94,445.61 L156.9,444.36 L140.05,443.14 L123.65,441.94 L106.7,440.73 L88.49,439.53 L69.78,438.36 L51.32,437.25 L33.86,436.23 L18.17,435.32 L4.99,434.56 L-4.93,433.96Z" fill="#8db4e6"/>
<path d="M-5.04,435.78 L4.88,436.39 L18.06,437.19 L33.75,438.13 L51.2,439.19 L69.65,440.34 L88.35,441.55 L106.55,442.8 L123.5,444.04 L139.89,445.28 L156.74,446.53 L173.77,447.83 L190.71,449.18 L207.28,450.6 L223.2,452.12 L238.2,453.75 L251.99,455.52 L264.95,457.57 L277.5,459.96 L289.46,462.54 L300.62,465.18 L310.78,467.73 L319.75,470.05 L327.32,471.99 L333.27,473.42 L335.71,474.24 L337.74,475.28 L339.38,476.52 L340.66,477.95 L341.61,479.58 L342.25,481.43 L342.6,483.54 L342.64,485.92 L342.64,602.82 L346.36,602.82 L346.36,485.91 L346.06,483.06 L345.37,480.47 L344.3,478.16 L342.84,476.17 L341.02,474.52 L338.88,473.21 L336.44,472.23 L333.73,471.58 L327.77,470.16 L320.21,468.23 L311.24,465.93 L301.06,463.39 L289.86,460.76 L277.86,458.19 L265.25,455.81 L252.23,453.77 L238.4,452.03 L223.37,450.42 L207.43,448.92 L190.85,447.52 L173.9,446.2 L156.86,444.93 L140.01,443.71 L123.61,442.5 L106.66,441.28 L88.45,440.07 L69.74,438.89 L51.29,437.77 L33.83,436.73 L18.14,435.82 L4.96,435.04 L-4.96,434.45Z" fill="#5f90d3"/>
<path d="M-5.06,433.15 L5.43,433.75 L19.37,434.52 L35.97,435.44 L54.43,436.48 L73.95,437.6 L93.74,438.77 L112.99,439.98 L130.91,441.18 L148.26,442.36 L166.11,443.54 L184.15,444.74 L202.08,446 L219.62,447.35 L236.45,448.81 L252.28,450.42 L266.79,452.21 L280.38,454.34 L293.52,456.87 L305.99,459.63 L317.61,462.47 L328.18,465.23 L337.5,467.74 L345.39,469.85 L351.59,471.39 L353.94,472.29 L355.82,473.35 L357.28,474.58 L358.37,475.94 L359.14,477.45 L359.63,479.14 L359.85,481.07 L359.8,483.28 L359.8,602.15 L366.2,602.15 L366.2,483.27 L365.81,480.25 L365,477.48 L363.77,475 L362.13,472.88 L360.12,471.14 L357.81,469.79 L355.21,468.83 L352.41,468.22 L346.2,466.7 L338.34,464.62 L329,462.13 L318.39,459.39 L306.7,456.57 L294.14,453.82 L280.91,451.31 L267.21,449.19 L252.61,447.44 L236.72,445.86 L219.85,444.44 L202.29,443.14 L184.34,441.93 L166.28,440.78 L148.44,439.65 L131.09,438.52 L113.15,437.36 L93.89,436.21 L74.1,435.09 L54.57,434.02 L36.1,433.03 L19.5,432.16 L5.56,431.42 L-4.94,430.85Z" fill="#8db4e6"/>
<path d="M-5.04,432.67 L5.46,433.26 L19.4,434.03 L36,434.94 L54.46,435.96 L73.98,437.07 L93.77,438.24 L113.02,439.43 L130.95,440.62 L148.3,441.79 L166.14,442.96 L184.19,444.15 L202.13,445.4 L219.67,446.74 L236.51,448.19 L252.34,449.79 L266.88,451.57 L280.49,453.7 L293.65,456.23 L306.14,458.99 L317.78,461.82 L328.35,464.58 L337.68,467.08 L345.56,469.19 L351.76,470.72 L354.21,471.56 L356.24,472.61 L357.88,473.86 L359.16,475.3 L360.11,476.94 L360.75,478.79 L361.1,480.9 L361.14,483.28 L361.14,602.15 L364.86,602.15 L364.86,483.27 L364.56,480.42 L363.87,477.83 L362.8,475.52 L361.34,473.52 L359.53,471.86 L357.39,470.54 L354.95,469.55 L352.24,468.89 L346.03,467.36 L338.16,465.27 L328.83,462.78 L318.22,460.04 L306.55,457.21 L294.01,454.46 L280.8,451.94 L267.12,449.83 L252.54,448.06 L236.67,446.48 L219.8,445.05 L202.25,443.74 L184.3,442.52 L166.25,441.36 L148.4,440.22 L131.05,439.08 L113.12,437.91 L93.86,436.75 L74.07,435.61 L54.54,434.53 L36.08,433.54 L19.47,432.65 L5.53,431.91 L-4.96,431.33Z" fill="#5f90d3"/>
</g>
<path d="M0,598 L3.82,597.28 L8.55,596.39 L14.07,595.35 L20.26,594.19 L27,592.91 L34.19,591.56 L41.69,590.15 L49.41,588.7 L57.21,587.24 L64.99,585.79 L72.62,584.37 L80,583 L87.43,581.62 L95.26,580.16 L103.37,578.63 L111.67,577.07 L120.06,575.5 L128.44,573.94 L136.71,572.4 L144.78,570.93 L152.54,569.52 L159.9,568.22 L166.75,567.04 L173,566 L178.68,565.07 L183.92,564.21 L188.77,563.42 L193.26,562.7 L197.45,562.06 L201.38,561.5 L205.09,561.02 L208.63,560.63 L212.05,560.33 L215.38,560.12 L218.69,560.01 L222,560 L225.23,560.11 L228.25,560.34 L231.11,560.68 L233.81,561.12 L236.4,561.66 L238.88,562.27 L241.28,562.95 L243.63,563.69 L245.95,564.47 L248.27,565.3 L250.61,566.14 L253,567 L255.41,567.92 L257.81,568.95 L260.2,570.06 L262.56,571.23 L264.89,572.46 L267.19,573.71 L269.45,574.96 L271.67,576.21 L273.84,577.43 L275.95,578.59 L278.01,579.69 L280,580.7 L281.91,581.64 L283.74,582.54 L285.49,583.4 L287.19,584.24 L288.83,585.04 L290.44,585.81 L292.02,586.56 L293.59,587.29 L295.16,587.99 L296.75,588.67 L298.36,589.34 L300,590 L301.65,590.64 L303.29,591.25 L304.91,591.84 L306.52,592.41 L308.13,592.95 L309.75,593.48 L311.38,593.99 L313.04,594.48 L314.72,594.96 L316.44,595.42 L318.19,595.87 L320,596.3 L321.85,596.73 L323.75,597.16 L325.67,597.59 L327.63,598 L329.62,598.4 L331.62,598.77 L333.66,599.13 L335.7,599.44 L337.77,599.73 L339.84,599.97 L341.92,600.16 L344,600.3 L346.08,600.39 L348.17,600.42 L350.27,600.41 L352.37,600.36 L354.49,600.27 L356.62,600.14 L358.78,599.99 L360.96,599.82 L363.17,599.63 L365.41,599.43 L367.69,599.22 L370,599 L372.14,598.82 L373.96,598.68 L375.58,598.58 L377.11,598.48 L378.67,598.36 L380.38,598.2 L382.34,597.98 L384.67,597.67 L387.48,597.25 L390.9,596.69 L395.04,595.99 L400,595.1 L405.88,594.01 L412.62,592.73 L420.08,591.28 L428.15,589.7 L436.7,588.01 L445.62,586.23 L454.79,584.4 L464.07,582.54 L473.36,580.69 L482.52,578.86 L491.44,577.09 L500,575.4 L508.1,573.81 L515.82,572.29 L523.29,570.83 L530.63,569.39 L537.97,567.96 L545.44,566.49 L553.16,564.98 L561.26,563.4 L569.87,561.71 L579.11,559.9 L589.11,557.94 L600,555.8 L612.41,553.36 L626.61,550.57 L642.17,547.52 L658.67,544.27 L675.67,540.93 L692.75,537.57 L709.48,534.29 L725.44,531.15 L740.2,528.25 L753.33,525.67 L764.41,523.49 L773,521.8" stroke="url(#goldg)" stroke-width="5" fill="none"/>
<line x1="533" y1="395.7" x2="799.2" y2="270.2" stroke="#fff" stroke-width="2.0" stroke-opacity="0.92"/>
<line x1="533" y1="610" x2="800" y2="434" stroke="#fff" stroke-width="2.0" stroke-opacity="0.92"/>
<line x1="533" y1="743" x2="803" y2="647" stroke="#fff" stroke-width="2.0" stroke-opacity="0.92"/>
<line x1="533" y1="830" x2="808" y2="869.6" stroke="#fff" stroke-width="2.0" stroke-opacity="0.92"/>
<line x1="533" y1="1011" x2="801" y2="1068" stroke="#fff" stroke-width="2.0" stroke-opacity="0.92"/>
<line x1="533" y1="1159.2" x2="804.5" y2="1265.8" stroke="#fff" stroke-width="2.0" stroke-opacity="0.92"/>
<circle cx="533" cy="395.7" r="10.5" fill="#fff"/>
<circle cx="533" cy="610" r="10.5" fill="#fff"/>
<circle cx="533" cy="743" r="10.5" fill="#fff"/>
<circle cx="533" cy="830" r="10.5" fill="#fff"/>
<circle cx="533" cy="1011" r="10.5" fill="#fff"/>
<circle cx="533" cy="1159.2" r="10.5" fill="#fff"/>
<g>
<text transform="translate(249,174.65) scale(1.0000,1)" font-size="66.6" font-weight="400" fill="#bddcff" stroke="#bddcff" stroke-width="2.9" letter-spacing="1.59">The</text>
<text transform="translate(386.92,174.65) scale(1.0786,1)" font-size="66.6" font-weight="400" fill="#bddcff" stroke="#bddcff" stroke-width="2.9" letter-spacing="1.59">Structure</text>
<text transform="translate(711.91,174.65) scale(1.0862,1)" font-size="66.6" font-weight="400" fill="#ffffff" stroke="#ffffff" stroke-width="2.9" letter-spacing="1.59">of</text>
<text transform="translate(794.06,174.65) scale(1.0638,1)" font-size="66.6" font-weight="400" fill="#ffffff" stroke="#ffffff" stroke-width="2.9" letter-spacing="1.59">Your</text>
<text transform="translate(964.7,174.65) scale(1.0744,1)" font-size="66.6" font-weight="400" fill="#ffffff" stroke="#ffffff" stroke-width="2.9" letter-spacing="1.59">Mattress</text>
<text transform="translate(811.3,284) scale(1.0093,1)" font-size="40.7" font-weight="400" fill="#ffffff" stroke="#ffffff" stroke-width="2.0" letter-spacing="1.10">Tencel-Infused Knit Cover</text>
<text transform="translate(812,444.4) scale(0.9993,1)" font-size="40.7" font-weight="400" fill="#ffffff" stroke="#ffffff" stroke-width="2.0" letter-spacing="1.10">Copper Gel AeroFusion Foam®</text>
<text transform="translate(815.87,661.6) scale(0.9634,1)" font-size="40.7" font-weight="400" fill="#ffffff" stroke="#ffffff" stroke-width="2.0" letter-spacing="1.10">BraceSleeper</text>
<text transform="translate(1065.47,659.3) scale(1.0767,1)" font-size="36" font-weight="400" fill="#ffffff" stroke="#ffffff" stroke-width="0.9" letter-spacing="0.50">™</text>
<text transform="translate(1115.18,661.6) scale(1.0222,1)" font-size="40.7" font-weight="400" fill="#ffffff" stroke="#ffffff" stroke-width="2.0" letter-spacing="1.10">Comfort Foam</text>
<text transform="translate(815.74,885.4) scale(0.9288,1)" font-size="40.7" font-weight="400" fill="#ffffff" stroke="#ffffff" stroke-width="2.0" letter-spacing="1.10">FlexDist</text>
<text transform="translate(958.86,883.1) scale(1.0133,1)" font-size="36" font-weight="400" fill="#ffffff" stroke="#ffffff" stroke-width="0.9" letter-spacing="0.50">™</text>
<text transform="translate(1002.71,885.4) scale(0.9443,1)" font-size="40.7" font-weight="400" fill="#ffffff" stroke="#ffffff" stroke-width="2.0" letter-spacing="1.10">Pocketed Spring System</text>
<text transform="translate(812.16,1086) scale(0.9689,1)" font-size="40.7" font-weight="400" fill="#ffffff" stroke="#ffffff" stroke-width="2.0" letter-spacing="1.10">BraceSleeper</text>
<text transform="translate(1062.13,1083.6) scale(1.0567,1)" font-size="36" font-weight="400" fill="#ffffff" stroke="#ffffff" stroke-width="0.9" letter-spacing="0.50">™</text>
<text transform="translate(1110.48,1086) scale(1.0176,1)" font-size="40.7" font-weight="400" fill="#ffffff" stroke="#ffffff" stroke-width="2.0" letter-spacing="1.10">Support Foam</text>
<text transform="translate(812.23,1282.5) scale(0.9871,1)" font-size="40.7" font-weight="400" fill="#ffffff" stroke="#ffffff" stroke-width="2.0" letter-spacing="1.10">Fiberglass-free FR inner cover</text>
<text transform="translate(814.32,336.1) scale(0.9923,1)" font-size="28.0" font-weight="400" fill="#f1f1f6" stroke="#f1f1f6" stroke-width="0.4" letter-spacing="0.22">Keeps you cool and dry by wicking moisture.</text>
<text transform="translate(814.8,495.5) scale(1.0012,1)" font-size="28.0" font-weight="400" fill="#f1f1f6" stroke="#f1f1f6" stroke-width="0.4" letter-spacing="0.22">Forms a soft, antimicrobial layer that regulates</text>
<text transform="translate(814.76,540.9) scale(1.0212,1)" font-size="28.0" font-weight="400" fill="#f1f1f6" stroke="#f1f1f6" stroke-width="0.4" letter-spacing="0.22">moisture, reduces odor.</text>
<text transform="translate(817.99,711.4) scale(1.0025,1)" font-size="28.0" font-weight="400" fill="#f1f1f6" stroke="#f1f1f6" stroke-width="0.4" letter-spacing="0.22">Delivers a balanced blend of comfort and</text>
<text transform="translate(817.99,756.7) scale(1.0103,1)" font-size="28.0" font-weight="400" fill="#f1f1f6" stroke="#f1f1f6" stroke-width="0.4" letter-spacing="0.22">support by working seamlessly.</text>
<text transform="translate(815.2,936.5) scale(1.0097,1)" font-size="28.0" font-weight="400" fill="#f1f1f6" stroke="#f1f1f6" stroke-width="0.4" letter-spacing="0.22">Adapts to your body for personalized support</text>
<text transform="translate(814.79,980.8) scale(1.0128,1)" font-size="28.0" font-weight="400" fill="#f1f1f6" stroke="#f1f1f6" stroke-width="0.4" letter-spacing="0.22">and isolates motion.</text>
<text transform="translate(815.39,1137.4) scale(1.0090,1)" font-size="28.0" font-weight="400" fill="#f1f1f6" stroke="#f1f1f6" stroke-width="0.4" letter-spacing="0.22">Supports proper spinal alignment, allowing</text>
<text transform="translate(814.39,1182.7) scale(1.0031,1)" font-size="28.0" font-weight="400" fill="#f1f1f6" stroke="#f1f1f6" stroke-width="0.4" letter-spacing="0.22">muscles to relax for a more restful sleep.</text>
<text transform="translate(814.53,1333.8) scale(0.9854,1)" font-size="28.0" font-weight="400" fill="#f1f1f6" stroke="#f1f1f6" stroke-width="0.4" letter-spacing="0.22">Ensures a safer and healthier sleep</text>
<text transform="translate(815.29,1379) scale(1.0145,1)" font-size="28.0" font-weight="400" fill="#f1f1f6" stroke="#f1f1f6" stroke-width="0.4" letter-spacing="0.22">environment by eliminating the risks of</text>
<text transform="translate(816.3,1424.1) scale(0.9969,1)" font-size="28.0" font-weight="400" fill="#f1f1f6" stroke="#f1f1f6" stroke-width="0.4" letter-spacing="0.22">fiberglass and harmful chemicals.</text>
</g>
</svg>
</body></html>
